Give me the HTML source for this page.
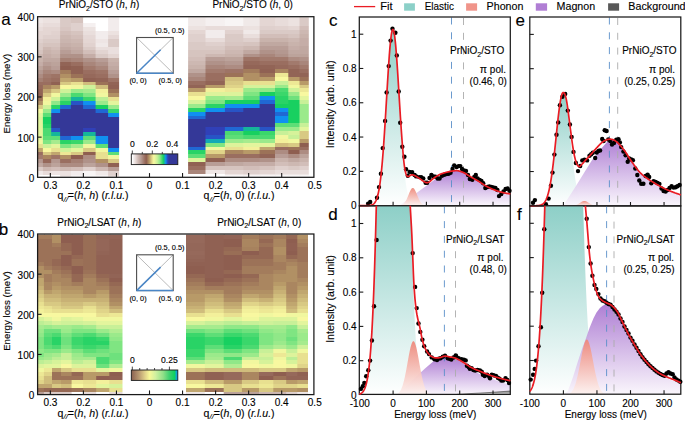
<!DOCTYPE html><html><head><meta charset="utf-8"><title>RIXS figure</title><style>html,body{margin:0;padding:0;background:#fff;overflow:hidden}svg{display:block}svg text{font-family:"Liberation Sans",sans-serif;stroke:#000;stroke-width:0.12px}</style></head><body>
<svg width="685" height="421" viewBox="0 0 685 421">
<rect width="685" height="421" fill="#fff"/>
<linearGradient id="hc1" gradientUnits="userSpaceOnUse" x1="0" y1="17.2" x2="0" y2="176.7"><stop offset="0.00000" stop-color="#efe7e6"/><stop offset="0.03816" stop-color="#efe7e6"/><stop offset="0.03816" stop-color="#ece2e0"/><stop offset="0.06252" stop-color="#ece2e0"/><stop offset="0.06252" stop-color="#e8dcda"/><stop offset="0.08688" stop-color="#e8dcda"/><stop offset="0.08688" stop-color="#e4d6d3"/><stop offset="0.11125" stop-color="#e4d6d3"/><stop offset="0.11125" stop-color="#e4d6d3"/><stop offset="0.13561" stop-color="#e4d6d3"/><stop offset="0.13561" stop-color="#dfd0cd"/><stop offset="0.15997" stop-color="#dfd0cd"/><stop offset="0.15997" stop-color="#dacac6"/><stop offset="0.18434" stop-color="#dacac6"/><stop offset="0.18434" stop-color="#dacac6"/><stop offset="0.20870" stop-color="#dacac6"/><stop offset="0.20870" stop-color="#d6c4bf"/><stop offset="0.23307" stop-color="#d6c4bf"/><stop offset="0.23307" stop-color="#cdb8b2"/><stop offset="0.25743" stop-color="#cdb8b2"/><stop offset="0.25743" stop-color="#c9b3ac"/><stop offset="0.28179" stop-color="#c9b3ac"/><stop offset="0.28179" stop-color="#c5ada7"/><stop offset="0.30616" stop-color="#c5ada7"/><stop offset="0.30616" stop-color="#bca39b"/><stop offset="0.33052" stop-color="#bca39b"/><stop offset="0.33052" stop-color="#b49890"/><stop offset="0.35488" stop-color="#b49890"/><stop offset="0.35488" stop-color="#ad8c82"/><stop offset="0.37925" stop-color="#ad8c82"/><stop offset="0.37925" stop-color="#a58074"/><stop offset="0.40361" stop-color="#a58074"/><stop offset="0.40361" stop-color="#9a6e60"/><stop offset="0.42797" stop-color="#9a6e60"/><stop offset="0.42797" stop-color="#96695b"/><stop offset="0.45234" stop-color="#96695b"/><stop offset="0.45234" stop-color="#926456"/><stop offset="0.47670" stop-color="#926456"/><stop offset="0.47670" stop-color="#906153"/><stop offset="0.50107" stop-color="#906153"/><stop offset="0.50107" stop-color="#9c7258"/><stop offset="0.52543" stop-color="#9c7258"/><stop offset="0.52543" stop-color="#b19064"/><stop offset="0.54979" stop-color="#b19064"/><stop offset="0.54979" stop-color="#d8c983"/><stop offset="0.57416" stop-color="#d8c983"/><stop offset="0.57416" stop-color="#f8f8a0"/><stop offset="0.59852" stop-color="#f8f8a0"/><stop offset="0.59852" stop-color="#e3f59d"/><stop offset="0.62288" stop-color="#e3f59d"/><stop offset="0.62288" stop-color="#ddf39b"/><stop offset="0.64725" stop-color="#ddf39b"/><stop offset="0.64725" stop-color="#e3f59d"/><stop offset="0.67161" stop-color="#e3f59d"/><stop offset="0.67161" stop-color="#e3f59d"/><stop offset="0.69597" stop-color="#e3f59d"/><stop offset="0.69597" stop-color="#e3f59d"/><stop offset="0.72034" stop-color="#e3f59d"/><stop offset="0.72034" stop-color="#e3f59d"/><stop offset="0.74470" stop-color="#e3f59d"/><stop offset="0.74470" stop-color="#e3f59d"/><stop offset="0.76907" stop-color="#e3f59d"/><stop offset="0.76907" stop-color="#f1f79f"/><stop offset="0.79343" stop-color="#f1f79f"/><stop offset="0.79343" stop-color="#e8e090"/><stop offset="0.81779" stop-color="#e8e090"/><stop offset="0.81779" stop-color="#c0a66f"/><stop offset="0.84216" stop-color="#c0a66f"/><stop offset="0.84216" stop-color="#9a6e60"/><stop offset="0.86652" stop-color="#9a6e60"/><stop offset="0.86652" stop-color="#a27a6d"/><stop offset="0.89088" stop-color="#a27a6d"/><stop offset="0.89088" stop-color="#b49890"/><stop offset="0.91525" stop-color="#b49890"/><stop offset="0.91525" stop-color="#c0a8a1"/><stop offset="0.93961" stop-color="#c0a8a1"/><stop offset="0.93961" stop-color="#dacac6"/><stop offset="0.96397" stop-color="#dacac6"/><stop offset="0.96397" stop-color="#f0e9e8"/><stop offset="0.98834" stop-color="#f0e9e8"/><stop offset="0.98834" stop-color="#ffffff"/><stop offset="1.00000" stop-color="#ffffff"/></linearGradient>
<rect x="37.6" y="17.2" width="6.3" height="159.5" fill="url(#hc1)"/>
<linearGradient id="hc2" gradientUnits="userSpaceOnUse" x1="0" y1="17.2" x2="0" y2="176.7"><stop offset="0.00000" stop-color="#ece2e0"/><stop offset="0.03816" stop-color="#ece2e0"/><stop offset="0.03816" stop-color="#e8dcda"/><stop offset="0.06252" stop-color="#e8dcda"/><stop offset="0.06252" stop-color="#e4d6d3"/><stop offset="0.08688" stop-color="#e4d6d3"/><stop offset="0.08688" stop-color="#e4d6d3"/><stop offset="0.11125" stop-color="#e4d6d3"/><stop offset="0.11125" stop-color="#dfd0cd"/><stop offset="0.13561" stop-color="#dfd0cd"/><stop offset="0.13561" stop-color="#dacac6"/><stop offset="0.15997" stop-color="#dacac6"/><stop offset="0.15997" stop-color="#d6c4bf"/><stop offset="0.18434" stop-color="#d6c4bf"/><stop offset="0.18434" stop-color="#cdb8b2"/><stop offset="0.20870" stop-color="#cdb8b2"/><stop offset="0.20870" stop-color="#c9b3ac"/><stop offset="0.23307" stop-color="#c9b3ac"/><stop offset="0.23307" stop-color="#c5ada7"/><stop offset="0.25743" stop-color="#c5ada7"/><stop offset="0.25743" stop-color="#c0a8a1"/><stop offset="0.28179" stop-color="#c0a8a1"/><stop offset="0.28179" stop-color="#b89d96"/><stop offset="0.30616" stop-color="#b89d96"/><stop offset="0.30616" stop-color="#b09289"/><stop offset="0.33052" stop-color="#b09289"/><stop offset="0.33052" stop-color="#a9867b"/><stop offset="0.35488" stop-color="#a9867b"/><stop offset="0.35488" stop-color="#a27a6d"/><stop offset="0.37925" stop-color="#a27a6d"/><stop offset="0.37925" stop-color="#9e7466"/><stop offset="0.40361" stop-color="#9e7466"/><stop offset="0.40361" stop-color="#9a6e60"/><stop offset="0.42797" stop-color="#9a6e60"/><stop offset="0.42797" stop-color="#aa8660"/><stop offset="0.45234" stop-color="#aa8660"/><stop offset="0.45234" stop-color="#c0a66f"/><stop offset="0.47670" stop-color="#c0a66f"/><stop offset="0.47670" stop-color="#d8c983"/><stop offset="0.50107" stop-color="#d8c983"/><stop offset="0.50107" stop-color="#f3f09b"/><stop offset="0.52543" stop-color="#f3f09b"/><stop offset="0.52543" stop-color="#f1f79f"/><stop offset="0.54979" stop-color="#f1f79f"/><stop offset="0.54979" stop-color="#cff199"/><stop offset="0.57416" stop-color="#cff199"/><stop offset="0.57416" stop-color="#9bea8b"/><stop offset="0.59852" stop-color="#9bea8b"/><stop offset="0.59852" stop-color="#5dde77"/><stop offset="0.62288" stop-color="#5dde77"/><stop offset="0.62288" stop-color="#18d060"/><stop offset="0.64725" stop-color="#18d060"/><stop offset="0.64725" stop-color="#18d060"/><stop offset="0.67161" stop-color="#18d060"/><stop offset="0.67161" stop-color="#29d366"/><stop offset="0.69597" stop-color="#29d366"/><stop offset="0.69597" stop-color="#4bda71"/><stop offset="0.72034" stop-color="#4bda71"/><stop offset="0.72034" stop-color="#4bda71"/><stop offset="0.74470" stop-color="#4bda71"/><stop offset="0.74470" stop-color="#5dde77"/><stop offset="0.76907" stop-color="#5dde77"/><stop offset="0.76907" stop-color="#7fe582"/><stop offset="0.79343" stop-color="#7fe582"/><stop offset="0.79343" stop-color="#cff199"/><stop offset="0.81779" stop-color="#cff199"/><stop offset="0.81779" stop-color="#f8f8a0"/><stop offset="0.84216" stop-color="#f8f8a0"/><stop offset="0.84216" stop-color="#d8c983"/><stop offset="0.86652" stop-color="#d8c983"/><stop offset="0.86652" stop-color="#aa8660"/><stop offset="0.89088" stop-color="#aa8660"/><stop offset="0.89088" stop-color="#96695b"/><stop offset="0.91525" stop-color="#96695b"/><stop offset="0.91525" stop-color="#b09289"/><stop offset="0.93961" stop-color="#b09289"/><stop offset="0.93961" stop-color="#cdb8b2"/><stop offset="0.96397" stop-color="#cdb8b2"/><stop offset="0.96397" stop-color="#e8dcda"/><stop offset="0.98834" stop-color="#e8dcda"/><stop offset="0.98834" stop-color="#ffffff"/><stop offset="1.00000" stop-color="#ffffff"/></linearGradient>
<rect x="42.9" y="17.2" width="9.3" height="159.5" fill="url(#hc2)"/>
<linearGradient id="hc3" gradientUnits="userSpaceOnUse" x1="0" y1="17.2" x2="0" y2="176.7"><stop offset="0.00000" stop-color="#ece2e0"/><stop offset="0.03816" stop-color="#ece2e0"/><stop offset="0.03816" stop-color="#e8dcda"/><stop offset="0.06252" stop-color="#e8dcda"/><stop offset="0.06252" stop-color="#e4d6d3"/><stop offset="0.08688" stop-color="#e4d6d3"/><stop offset="0.08688" stop-color="#e1d2cf"/><stop offset="0.11125" stop-color="#e1d2cf"/><stop offset="0.11125" stop-color="#dfd0cd"/><stop offset="0.13561" stop-color="#dfd0cd"/><stop offset="0.13561" stop-color="#dacac6"/><stop offset="0.15997" stop-color="#dacac6"/><stop offset="0.15997" stop-color="#d6c4bf"/><stop offset="0.18434" stop-color="#d6c4bf"/><stop offset="0.18434" stop-color="#d2beb9"/><stop offset="0.20870" stop-color="#d2beb9"/><stop offset="0.20870" stop-color="#cdb8b2"/><stop offset="0.23307" stop-color="#cdb8b2"/><stop offset="0.23307" stop-color="#c9b3ac"/><stop offset="0.25743" stop-color="#c9b3ac"/><stop offset="0.25743" stop-color="#c0a8a1"/><stop offset="0.28179" stop-color="#c0a8a1"/><stop offset="0.28179" stop-color="#bca39b"/><stop offset="0.30616" stop-color="#bca39b"/><stop offset="0.30616" stop-color="#b89d96"/><stop offset="0.33052" stop-color="#b89d96"/><stop offset="0.33052" stop-color="#ad8c82"/><stop offset="0.35488" stop-color="#ad8c82"/><stop offset="0.35488" stop-color="#9e7466"/><stop offset="0.37925" stop-color="#9e7466"/><stop offset="0.37925" stop-color="#9a6e60"/><stop offset="0.40361" stop-color="#9a6e60"/><stop offset="0.40361" stop-color="#906153"/><stop offset="0.42797" stop-color="#906153"/><stop offset="0.42797" stop-color="#b89a68"/><stop offset="0.45234" stop-color="#b89a68"/><stop offset="0.45234" stop-color="#d8c983"/><stop offset="0.47670" stop-color="#d8c983"/><stop offset="0.47670" stop-color="#f1f79f"/><stop offset="0.50107" stop-color="#f1f79f"/><stop offset="0.50107" stop-color="#cff199"/><stop offset="0.52543" stop-color="#cff199"/><stop offset="0.52543" stop-color="#90e888"/><stop offset="0.54979" stop-color="#90e888"/><stop offset="0.54979" stop-color="#29d366"/><stop offset="0.57416" stop-color="#29d366"/><stop offset="0.57416" stop-color="#1090f0"/><stop offset="0.59852" stop-color="#1090f0"/><stop offset="0.59852" stop-color="#343898"/><stop offset="0.62288" stop-color="#343898"/><stop offset="0.62288" stop-color="#343898"/><stop offset="0.64725" stop-color="#343898"/><stop offset="0.64725" stop-color="#343898"/><stop offset="0.67161" stop-color="#343898"/><stop offset="0.67161" stop-color="#343898"/><stop offset="0.69597" stop-color="#343898"/><stop offset="0.69597" stop-color="#2854c6"/><stop offset="0.72034" stop-color="#2854c6"/><stop offset="0.72034" stop-color="#15b69a"/><stop offset="0.74470" stop-color="#15b69a"/><stop offset="0.74470" stop-color="#5dde77"/><stop offset="0.76907" stop-color="#5dde77"/><stop offset="0.76907" stop-color="#a6eb8e"/><stop offset="0.79343" stop-color="#a6eb8e"/><stop offset="0.79343" stop-color="#e3f59d"/><stop offset="0.81779" stop-color="#e3f59d"/><stop offset="0.81779" stop-color="#e8e090"/><stop offset="0.84216" stop-color="#e8e090"/><stop offset="0.84216" stop-color="#c0a66f"/><stop offset="0.86652" stop-color="#c0a66f"/><stop offset="0.86652" stop-color="#9e7466"/><stop offset="0.89088" stop-color="#9e7466"/><stop offset="0.89088" stop-color="#b49890"/><stop offset="0.91525" stop-color="#b49890"/><stop offset="0.91525" stop-color="#bca39b"/><stop offset="0.93961" stop-color="#bca39b"/><stop offset="0.93961" stop-color="#d2beb9"/><stop offset="0.96397" stop-color="#d2beb9"/><stop offset="0.96397" stop-color="#eee5e4"/><stop offset="0.98834" stop-color="#eee5e4"/><stop offset="0.98834" stop-color="#ffffff"/><stop offset="1.00000" stop-color="#ffffff"/></linearGradient>
<rect x="51.2" y="17.2" width="9.9" height="159.5" fill="url(#hc3)"/>
<linearGradient id="hc4" gradientUnits="userSpaceOnUse" x1="0" y1="17.2" x2="0" y2="176.7"><stop offset="0.00000" stop-color="#dacac6"/><stop offset="0.03816" stop-color="#dacac6"/><stop offset="0.03816" stop-color="#dacac6"/><stop offset="0.06252" stop-color="#dacac6"/><stop offset="0.06252" stop-color="#d8c6c2"/><stop offset="0.08688" stop-color="#d8c6c2"/><stop offset="0.08688" stop-color="#d2beb9"/><stop offset="0.11125" stop-color="#d2beb9"/><stop offset="0.11125" stop-color="#cdb8b2"/><stop offset="0.13561" stop-color="#cdb8b2"/><stop offset="0.13561" stop-color="#cab5af"/><stop offset="0.15997" stop-color="#cab5af"/><stop offset="0.15997" stop-color="#c6afa9"/><stop offset="0.18434" stop-color="#c6afa9"/><stop offset="0.18434" stop-color="#c0a8a1"/><stop offset="0.20870" stop-color="#c0a8a1"/><stop offset="0.20870" stop-color="#b89d96"/><stop offset="0.23307" stop-color="#b89d96"/><stop offset="0.23307" stop-color="#b09289"/><stop offset="0.25743" stop-color="#b09289"/><stop offset="0.25743" stop-color="#a58074"/><stop offset="0.28179" stop-color="#a58074"/><stop offset="0.28179" stop-color="#926456"/><stop offset="0.30616" stop-color="#926456"/><stop offset="0.30616" stop-color="#8e5e50"/><stop offset="0.33052" stop-color="#8e5e50"/><stop offset="0.33052" stop-color="#a37c5c"/><stop offset="0.35488" stop-color="#a37c5c"/><stop offset="0.35488" stop-color="#b19064"/><stop offset="0.37925" stop-color="#b19064"/><stop offset="0.37925" stop-color="#c0a66f"/><stop offset="0.40361" stop-color="#c0a66f"/><stop offset="0.40361" stop-color="#d8c983"/><stop offset="0.42797" stop-color="#d8c983"/><stop offset="0.42797" stop-color="#f8f8a0"/><stop offset="0.45234" stop-color="#f8f8a0"/><stop offset="0.45234" stop-color="#cff199"/><stop offset="0.47670" stop-color="#cff199"/><stop offset="0.47670" stop-color="#9bea8b"/><stop offset="0.50107" stop-color="#9bea8b"/><stop offset="0.50107" stop-color="#5dde77"/><stop offset="0.52543" stop-color="#5dde77"/><stop offset="0.52543" stop-color="#29d366"/><stop offset="0.54979" stop-color="#29d366"/><stop offset="0.54979" stop-color="#2068d4"/><stop offset="0.57416" stop-color="#2068d4"/><stop offset="0.57416" stop-color="#343898"/><stop offset="0.59852" stop-color="#343898"/><stop offset="0.59852" stop-color="#343898"/><stop offset="0.62288" stop-color="#343898"/><stop offset="0.62288" stop-color="#343898"/><stop offset="0.64725" stop-color="#343898"/><stop offset="0.64725" stop-color="#343898"/><stop offset="0.67161" stop-color="#343898"/><stop offset="0.67161" stop-color="#343898"/><stop offset="0.69597" stop-color="#343898"/><stop offset="0.69597" stop-color="#343898"/><stop offset="0.72034" stop-color="#343898"/><stop offset="0.72034" stop-color="#343898"/><stop offset="0.74470" stop-color="#343898"/><stop offset="0.74470" stop-color="#2068d4"/><stop offset="0.76907" stop-color="#2068d4"/><stop offset="0.76907" stop-color="#29d366"/><stop offset="0.79343" stop-color="#29d366"/><stop offset="0.79343" stop-color="#7fe582"/><stop offset="0.81779" stop-color="#7fe582"/><stop offset="0.81779" stop-color="#cff199"/><stop offset="0.84216" stop-color="#cff199"/><stop offset="0.84216" stop-color="#ede895"/><stop offset="0.86652" stop-color="#ede895"/><stop offset="0.86652" stop-color="#b19064"/><stop offset="0.89088" stop-color="#b19064"/><stop offset="0.89088" stop-color="#9a6e60"/><stop offset="0.91525" stop-color="#9a6e60"/><stop offset="0.91525" stop-color="#ad8c82"/><stop offset="0.93961" stop-color="#ad8c82"/><stop offset="0.93961" stop-color="#cdb8b2"/><stop offset="0.96397" stop-color="#cdb8b2"/><stop offset="0.96397" stop-color="#ece2e0"/><stop offset="0.98834" stop-color="#ece2e0"/><stop offset="0.98834" stop-color="#ece2e0"/><stop offset="1.00000" stop-color="#ece2e0"/></linearGradient>
<rect x="60.1" y="17.2" width="11.8" height="159.5" fill="url(#hc4)"/>
<linearGradient id="hc5" gradientUnits="userSpaceOnUse" x1="0" y1="17.2" x2="0" y2="176.7"><stop offset="0.00000" stop-color="#d6c4bf"/><stop offset="0.03816" stop-color="#d6c4bf"/><stop offset="0.03816" stop-color="#dfd0cd"/><stop offset="0.06252" stop-color="#dfd0cd"/><stop offset="0.06252" stop-color="#dfd0cd"/><stop offset="0.08688" stop-color="#dfd0cd"/><stop offset="0.08688" stop-color="#d6c4bf"/><stop offset="0.11125" stop-color="#d6c4bf"/><stop offset="0.11125" stop-color="#d2beb9"/><stop offset="0.13561" stop-color="#d2beb9"/><stop offset="0.13561" stop-color="#cdb8b2"/><stop offset="0.15997" stop-color="#cdb8b2"/><stop offset="0.15997" stop-color="#c9b3ac"/><stop offset="0.18434" stop-color="#c9b3ac"/><stop offset="0.18434" stop-color="#c5ada7"/><stop offset="0.20870" stop-color="#c5ada7"/><stop offset="0.20870" stop-color="#c0a8a1"/><stop offset="0.23307" stop-color="#c0a8a1"/><stop offset="0.23307" stop-color="#b09289"/><stop offset="0.25743" stop-color="#b09289"/><stop offset="0.25743" stop-color="#a9867b"/><stop offset="0.28179" stop-color="#a9867b"/><stop offset="0.28179" stop-color="#9a6e60"/><stop offset="0.30616" stop-color="#9a6e60"/><stop offset="0.30616" stop-color="#906153"/><stop offset="0.33052" stop-color="#906153"/><stop offset="0.33052" stop-color="#906153"/><stop offset="0.35488" stop-color="#906153"/><stop offset="0.35488" stop-color="#9c7258"/><stop offset="0.37925" stop-color="#9c7258"/><stop offset="0.37925" stop-color="#b89a68"/><stop offset="0.40361" stop-color="#b89a68"/><stop offset="0.40361" stop-color="#e8e090"/><stop offset="0.42797" stop-color="#e8e090"/><stop offset="0.42797" stop-color="#f1f79f"/><stop offset="0.45234" stop-color="#f1f79f"/><stop offset="0.45234" stop-color="#9bea8b"/><stop offset="0.47670" stop-color="#9bea8b"/><stop offset="0.47670" stop-color="#4bda71"/><stop offset="0.50107" stop-color="#4bda71"/><stop offset="0.50107" stop-color="#15b69a"/><stop offset="0.52543" stop-color="#15b69a"/><stop offset="0.52543" stop-color="#2854c6"/><stop offset="0.54979" stop-color="#2854c6"/><stop offset="0.54979" stop-color="#343898"/><stop offset="0.57416" stop-color="#343898"/><stop offset="0.57416" stop-color="#343898"/><stop offset="0.59852" stop-color="#343898"/><stop offset="0.59852" stop-color="#343898"/><stop offset="0.62288" stop-color="#343898"/><stop offset="0.62288" stop-color="#343898"/><stop offset="0.64725" stop-color="#343898"/><stop offset="0.64725" stop-color="#343898"/><stop offset="0.67161" stop-color="#343898"/><stop offset="0.67161" stop-color="#343898"/><stop offset="0.69597" stop-color="#343898"/><stop offset="0.69597" stop-color="#343898"/><stop offset="0.72034" stop-color="#343898"/><stop offset="0.72034" stop-color="#343898"/><stop offset="0.74470" stop-color="#343898"/><stop offset="0.74470" stop-color="#1090f0"/><stop offset="0.76907" stop-color="#1090f0"/><stop offset="0.76907" stop-color="#3ad76b"/><stop offset="0.79343" stop-color="#3ad76b"/><stop offset="0.79343" stop-color="#a6eb8e"/><stop offset="0.81779" stop-color="#a6eb8e"/><stop offset="0.81779" stop-color="#e3f59d"/><stop offset="0.84216" stop-color="#e3f59d"/><stop offset="0.84216" stop-color="#d8c983"/><stop offset="0.86652" stop-color="#d8c983"/><stop offset="0.86652" stop-color="#8e5e50"/><stop offset="0.89088" stop-color="#8e5e50"/><stop offset="0.89088" stop-color="#a58074"/><stop offset="0.91525" stop-color="#a58074"/><stop offset="0.91525" stop-color="#ad8c82"/><stop offset="0.93961" stop-color="#ad8c82"/><stop offset="0.93961" stop-color="#d2beb9"/><stop offset="0.96397" stop-color="#d2beb9"/><stop offset="0.96397" stop-color="#f2ecec"/><stop offset="0.98834" stop-color="#f2ecec"/><stop offset="0.98834" stop-color="#f6f2f2"/><stop offset="1.00000" stop-color="#f6f2f2"/></linearGradient>
<rect x="70.9" y="17.2" width="13.2" height="159.5" fill="url(#hc5)"/>
<linearGradient id="hc6" gradientUnits="userSpaceOnUse" x1="0" y1="17.2" x2="0" y2="176.7"><stop offset="0.00000" stop-color="#ffffff"/><stop offset="0.03816" stop-color="#ffffff"/><stop offset="0.03816" stop-color="#f5f0f0"/><stop offset="0.06252" stop-color="#f5f0f0"/><stop offset="0.06252" stop-color="#ece3e1"/><stop offset="0.08688" stop-color="#ece3e1"/><stop offset="0.08688" stop-color="#e9dedc"/><stop offset="0.11125" stop-color="#e9dedc"/><stop offset="0.11125" stop-color="#e5d8d6"/><stop offset="0.13561" stop-color="#e5d8d6"/><stop offset="0.13561" stop-color="#e4d6d3"/><stop offset="0.15997" stop-color="#e4d6d3"/><stop offset="0.15997" stop-color="#e1d2cf"/><stop offset="0.18434" stop-color="#e1d2cf"/><stop offset="0.18434" stop-color="#dacac6"/><stop offset="0.20870" stop-color="#dacac6"/><stop offset="0.20870" stop-color="#d2beb9"/><stop offset="0.23307" stop-color="#d2beb9"/><stop offset="0.23307" stop-color="#c5ada7"/><stop offset="0.25743" stop-color="#c5ada7"/><stop offset="0.25743" stop-color="#b09289"/><stop offset="0.28179" stop-color="#b09289"/><stop offset="0.28179" stop-color="#a9867b"/><stop offset="0.30616" stop-color="#a9867b"/><stop offset="0.30616" stop-color="#a27a6d"/><stop offset="0.33052" stop-color="#a27a6d"/><stop offset="0.33052" stop-color="#9a6e60"/><stop offset="0.35488" stop-color="#9a6e60"/><stop offset="0.35488" stop-color="#96695b"/><stop offset="0.37925" stop-color="#96695b"/><stop offset="0.37925" stop-color="#906153"/><stop offset="0.40361" stop-color="#906153"/><stop offset="0.40361" stop-color="#d0bd7c"/><stop offset="0.42797" stop-color="#d0bd7c"/><stop offset="0.42797" stop-color="#cff199"/><stop offset="0.45234" stop-color="#cff199"/><stop offset="0.45234" stop-color="#a6eb8e"/><stop offset="0.47670" stop-color="#a6eb8e"/><stop offset="0.47670" stop-color="#7fe582"/><stop offset="0.50107" stop-color="#7fe582"/><stop offset="0.50107" stop-color="#3ad76b"/><stop offset="0.52543" stop-color="#3ad76b"/><stop offset="0.52543" stop-color="#1090f0"/><stop offset="0.54979" stop-color="#1090f0"/><stop offset="0.54979" stop-color="#2068d4"/><stop offset="0.57416" stop-color="#2068d4"/><stop offset="0.57416" stop-color="#343898"/><stop offset="0.59852" stop-color="#343898"/><stop offset="0.59852" stop-color="#343898"/><stop offset="0.62288" stop-color="#343898"/><stop offset="0.62288" stop-color="#343898"/><stop offset="0.64725" stop-color="#343898"/><stop offset="0.64725" stop-color="#343898"/><stop offset="0.67161" stop-color="#343898"/><stop offset="0.67161" stop-color="#343898"/><stop offset="0.69597" stop-color="#343898"/><stop offset="0.69597" stop-color="#3040b8"/><stop offset="0.72034" stop-color="#3040b8"/><stop offset="0.72034" stop-color="#15b69a"/><stop offset="0.74470" stop-color="#15b69a"/><stop offset="0.74470" stop-color="#5dde77"/><stop offset="0.76907" stop-color="#5dde77"/><stop offset="0.76907" stop-color="#9bea8b"/><stop offset="0.79343" stop-color="#9bea8b"/><stop offset="0.79343" stop-color="#f1f79f"/><stop offset="0.81779" stop-color="#f1f79f"/><stop offset="0.81779" stop-color="#d8c983"/><stop offset="0.84216" stop-color="#d8c983"/><stop offset="0.84216" stop-color="#8e5e50"/><stop offset="0.86652" stop-color="#8e5e50"/><stop offset="0.86652" stop-color="#ad8c82"/><stop offset="0.89088" stop-color="#ad8c82"/><stop offset="0.89088" stop-color="#b09289"/><stop offset="0.91525" stop-color="#b09289"/><stop offset="0.91525" stop-color="#bca39b"/><stop offset="0.93961" stop-color="#bca39b"/><stop offset="0.93961" stop-color="#dfd0cd"/><stop offset="0.96397" stop-color="#dfd0cd"/><stop offset="0.96397" stop-color="#f8f5f5"/><stop offset="0.98834" stop-color="#f8f5f5"/><stop offset="0.98834" stop-color="#faf8f8"/><stop offset="1.00000" stop-color="#faf8f8"/></linearGradient>
<rect x="83.1" y="17.2" width="13.5" height="159.5" fill="url(#hc6)"/>
<linearGradient id="hc7" gradientUnits="userSpaceOnUse" x1="0" y1="17.2" x2="0" y2="176.7"><stop offset="0.00000" stop-color="#ffffff"/><stop offset="0.03816" stop-color="#ffffff"/><stop offset="0.03816" stop-color="#ffffff"/><stop offset="0.06252" stop-color="#ffffff"/><stop offset="0.06252" stop-color="#ffffff"/><stop offset="0.08688" stop-color="#ffffff"/><stop offset="0.08688" stop-color="#f2ecec"/><stop offset="0.11125" stop-color="#f2ecec"/><stop offset="0.11125" stop-color="#f2ecec"/><stop offset="0.13561" stop-color="#f2ecec"/><stop offset="0.13561" stop-color="#eee5e4"/><stop offset="0.15997" stop-color="#eee5e4"/><stop offset="0.15997" stop-color="#f0e9e8"/><stop offset="0.18434" stop-color="#f0e9e8"/><stop offset="0.18434" stop-color="#e9dedc"/><stop offset="0.20870" stop-color="#e9dedc"/><stop offset="0.20870" stop-color="#e2d4d1"/><stop offset="0.23307" stop-color="#e2d4d1"/><stop offset="0.23307" stop-color="#dacac6"/><stop offset="0.25743" stop-color="#dacac6"/><stop offset="0.25743" stop-color="#b89d96"/><stop offset="0.28179" stop-color="#b89d96"/><stop offset="0.28179" stop-color="#b09289"/><stop offset="0.30616" stop-color="#b09289"/><stop offset="0.30616" stop-color="#a9867b"/><stop offset="0.33052" stop-color="#a9867b"/><stop offset="0.33052" stop-color="#9e7466"/><stop offset="0.35488" stop-color="#9e7466"/><stop offset="0.35488" stop-color="#9a6e60"/><stop offset="0.37925" stop-color="#9a6e60"/><stop offset="0.37925" stop-color="#926456"/><stop offset="0.40361" stop-color="#926456"/><stop offset="0.40361" stop-color="#9c7258"/><stop offset="0.42797" stop-color="#9c7258"/><stop offset="0.42797" stop-color="#d0bd7c"/><stop offset="0.45234" stop-color="#d0bd7c"/><stop offset="0.45234" stop-color="#f3f09b"/><stop offset="0.47670" stop-color="#f3f09b"/><stop offset="0.47670" stop-color="#f1f79f"/><stop offset="0.50107" stop-color="#f1f79f"/><stop offset="0.50107" stop-color="#bdee95"/><stop offset="0.52543" stop-color="#bdee95"/><stop offset="0.52543" stop-color="#9bea8b"/><stop offset="0.54979" stop-color="#9bea8b"/><stop offset="0.54979" stop-color="#18d060"/><stop offset="0.57416" stop-color="#18d060"/><stop offset="0.57416" stop-color="#2068d4"/><stop offset="0.59852" stop-color="#2068d4"/><stop offset="0.59852" stop-color="#343898"/><stop offset="0.62288" stop-color="#343898"/><stop offset="0.62288" stop-color="#343898"/><stop offset="0.64725" stop-color="#343898"/><stop offset="0.64725" stop-color="#343898"/><stop offset="0.67161" stop-color="#343898"/><stop offset="0.67161" stop-color="#343898"/><stop offset="0.69597" stop-color="#343898"/><stop offset="0.69597" stop-color="#343898"/><stop offset="0.72034" stop-color="#343898"/><stop offset="0.72034" stop-color="#343898"/><stop offset="0.74470" stop-color="#343898"/><stop offset="0.74470" stop-color="#1090f0"/><stop offset="0.76907" stop-color="#1090f0"/><stop offset="0.76907" stop-color="#1090f0"/><stop offset="0.79343" stop-color="#1090f0"/><stop offset="0.79343" stop-color="#5dde77"/><stop offset="0.81779" stop-color="#5dde77"/><stop offset="0.81779" stop-color="#f1f79f"/><stop offset="0.84216" stop-color="#f1f79f"/><stop offset="0.84216" stop-color="#e8e090"/><stop offset="0.86652" stop-color="#e8e090"/><stop offset="0.86652" stop-color="#e8e090"/><stop offset="0.89088" stop-color="#e8e090"/><stop offset="0.89088" stop-color="#b19064"/><stop offset="0.91525" stop-color="#b19064"/><stop offset="0.91525" stop-color="#b09289"/><stop offset="0.93961" stop-color="#b09289"/><stop offset="0.93961" stop-color="#cdb8b2"/><stop offset="0.96397" stop-color="#cdb8b2"/><stop offset="0.96397" stop-color="#f0e9e8"/><stop offset="0.98834" stop-color="#f0e9e8"/><stop offset="0.98834" stop-color="#f6f2f2"/><stop offset="1.00000" stop-color="#f6f2f2"/></linearGradient>
<rect x="95.6" y="17.2" width="13.5" height="159.5" fill="url(#hc7)"/>
<linearGradient id="hc8" gradientUnits="userSpaceOnUse" x1="0" y1="17.2" x2="0" y2="176.7"><stop offset="0.00000" stop-color="#f2ecec"/><stop offset="0.03816" stop-color="#f2ecec"/><stop offset="0.03816" stop-color="#f2ecec"/><stop offset="0.06252" stop-color="#f2ecec"/><stop offset="0.06252" stop-color="#f2ecec"/><stop offset="0.08688" stop-color="#f2ecec"/><stop offset="0.08688" stop-color="#ece2e0"/><stop offset="0.11125" stop-color="#ece2e0"/><stop offset="0.11125" stop-color="#e5d8d6"/><stop offset="0.13561" stop-color="#e5d8d6"/><stop offset="0.13561" stop-color="#dacac6"/><stop offset="0.15997" stop-color="#dacac6"/><stop offset="0.15997" stop-color="#dacac6"/><stop offset="0.18434" stop-color="#dacac6"/><stop offset="0.18434" stop-color="#e9dedc"/><stop offset="0.20870" stop-color="#e9dedc"/><stop offset="0.20870" stop-color="#eadfde"/><stop offset="0.23307" stop-color="#eadfde"/><stop offset="0.23307" stop-color="#e4d6d3"/><stop offset="0.25743" stop-color="#e4d6d3"/><stop offset="0.25743" stop-color="#c9b3ac"/><stop offset="0.28179" stop-color="#c9b3ac"/><stop offset="0.28179" stop-color="#c5ada7"/><stop offset="0.30616" stop-color="#c5ada7"/><stop offset="0.30616" stop-color="#c0a8a1"/><stop offset="0.33052" stop-color="#c0a8a1"/><stop offset="0.33052" stop-color="#b89d96"/><stop offset="0.35488" stop-color="#b89d96"/><stop offset="0.35488" stop-color="#b09289"/><stop offset="0.37925" stop-color="#b09289"/><stop offset="0.37925" stop-color="#9e7466"/><stop offset="0.40361" stop-color="#9e7466"/><stop offset="0.40361" stop-color="#926456"/><stop offset="0.42797" stop-color="#926456"/><stop offset="0.42797" stop-color="#906153"/><stop offset="0.45234" stop-color="#906153"/><stop offset="0.45234" stop-color="#9c7258"/><stop offset="0.47670" stop-color="#9c7258"/><stop offset="0.47670" stop-color="#b19064"/><stop offset="0.50107" stop-color="#b19064"/><stop offset="0.50107" stop-color="#e8e090"/><stop offset="0.52543" stop-color="#e8e090"/><stop offset="0.52543" stop-color="#e3f59d"/><stop offset="0.54979" stop-color="#e3f59d"/><stop offset="0.54979" stop-color="#9bea8b"/><stop offset="0.57416" stop-color="#9bea8b"/><stop offset="0.57416" stop-color="#3ad76b"/><stop offset="0.59852" stop-color="#3ad76b"/><stop offset="0.59852" stop-color="#1090f0"/><stop offset="0.62288" stop-color="#1090f0"/><stop offset="0.62288" stop-color="#343898"/><stop offset="0.64725" stop-color="#343898"/><stop offset="0.64725" stop-color="#343898"/><stop offset="0.67161" stop-color="#343898"/><stop offset="0.67161" stop-color="#343898"/><stop offset="0.69597" stop-color="#343898"/><stop offset="0.69597" stop-color="#343898"/><stop offset="0.72034" stop-color="#343898"/><stop offset="0.72034" stop-color="#343898"/><stop offset="0.74470" stop-color="#343898"/><stop offset="0.74470" stop-color="#343898"/><stop offset="0.76907" stop-color="#343898"/><stop offset="0.76907" stop-color="#343898"/><stop offset="0.79343" stop-color="#343898"/><stop offset="0.79343" stop-color="#343898"/><stop offset="0.81779" stop-color="#343898"/><stop offset="0.81779" stop-color="#1090f0"/><stop offset="0.84216" stop-color="#1090f0"/><stop offset="0.84216" stop-color="#5dde77"/><stop offset="0.86652" stop-color="#5dde77"/><stop offset="0.86652" stop-color="#f1f79f"/><stop offset="0.89088" stop-color="#f1f79f"/><stop offset="0.89088" stop-color="#d8c983"/><stop offset="0.91525" stop-color="#d8c983"/><stop offset="0.91525" stop-color="#906153"/><stop offset="0.93961" stop-color="#906153"/><stop offset="0.93961" stop-color="#b89d96"/><stop offset="0.96397" stop-color="#b89d96"/><stop offset="0.96397" stop-color="#dfd0cd"/><stop offset="0.98834" stop-color="#dfd0cd"/><stop offset="0.98834" stop-color="#e4d6d3"/><stop offset="1.00000" stop-color="#e4d6d3"/></linearGradient>
<rect x="108.1" y="17.2" width="11" height="159.5" fill="url(#hc8)"/>
<linearGradient id="hc9" gradientUnits="userSpaceOnUse" x1="0" y1="17.2" x2="0" y2="175.4"><stop offset="0.00000" stop-color="#f0e9e8"/><stop offset="0.03398" stop-color="#f0e9e8"/><stop offset="0.03398" stop-color="#f0e9e8"/><stop offset="0.05847" stop-color="#f0e9e8"/><stop offset="0.05847" stop-color="#ece2e0"/><stop offset="0.08296" stop-color="#ece2e0"/><stop offset="0.08296" stop-color="#e4d6d3"/><stop offset="0.10746" stop-color="#e4d6d3"/><stop offset="0.10746" stop-color="#dfd0cd"/><stop offset="0.13195" stop-color="#dfd0cd"/><stop offset="0.13195" stop-color="#dfd0cd"/><stop offset="0.15645" stop-color="#dfd0cd"/><stop offset="0.15645" stop-color="#dacac6"/><stop offset="0.18094" stop-color="#dacac6"/><stop offset="0.18094" stop-color="#dacac6"/><stop offset="0.20544" stop-color="#dacac6"/><stop offset="0.20544" stop-color="#d6c4bf"/><stop offset="0.22993" stop-color="#d6c4bf"/><stop offset="0.22993" stop-color="#d6c4bf"/><stop offset="0.25442" stop-color="#d6c4bf"/><stop offset="0.25442" stop-color="#d2beb9"/><stop offset="0.27892" stop-color="#d2beb9"/><stop offset="0.27892" stop-color="#cdb8b2"/><stop offset="0.30341" stop-color="#cdb8b2"/><stop offset="0.30341" stop-color="#c9b3ac"/><stop offset="0.32791" stop-color="#c9b3ac"/><stop offset="0.32791" stop-color="#c0a8a1"/><stop offset="0.35240" stop-color="#c0a8a1"/><stop offset="0.35240" stop-color="#b09289"/><stop offset="0.37690" stop-color="#b09289"/><stop offset="0.37690" stop-color="#a9867b"/><stop offset="0.40139" stop-color="#a9867b"/><stop offset="0.40139" stop-color="#9a6e60"/><stop offset="0.42588" stop-color="#9a6e60"/><stop offset="0.42588" stop-color="#926456"/><stop offset="0.45038" stop-color="#926456"/><stop offset="0.45038" stop-color="#b89a68"/><stop offset="0.47487" stop-color="#b89a68"/><stop offset="0.47487" stop-color="#e8e090"/><stop offset="0.49937" stop-color="#e8e090"/><stop offset="0.49937" stop-color="#f8f8a0"/><stop offset="0.52386" stop-color="#f8f8a0"/><stop offset="0.52386" stop-color="#d6f29a"/><stop offset="0.54836" stop-color="#d6f29a"/><stop offset="0.54836" stop-color="#9bea8b"/><stop offset="0.57285" stop-color="#9bea8b"/><stop offset="0.57285" stop-color="#29d366"/><stop offset="0.59735" stop-color="#29d366"/><stop offset="0.59735" stop-color="#1090f0"/><stop offset="0.62184" stop-color="#1090f0"/><stop offset="0.62184" stop-color="#2068d4"/><stop offset="0.64633" stop-color="#2068d4"/><stop offset="0.64633" stop-color="#343898"/><stop offset="0.67083" stop-color="#343898"/><stop offset="0.67083" stop-color="#343898"/><stop offset="0.69532" stop-color="#343898"/><stop offset="0.69532" stop-color="#343898"/><stop offset="0.71982" stop-color="#343898"/><stop offset="0.71982" stop-color="#343898"/><stop offset="0.74431" stop-color="#343898"/><stop offset="0.74431" stop-color="#343898"/><stop offset="0.76881" stop-color="#343898"/><stop offset="0.76881" stop-color="#343898"/><stop offset="0.79330" stop-color="#343898"/><stop offset="0.79330" stop-color="#343898"/><stop offset="0.81779" stop-color="#343898"/><stop offset="0.81779" stop-color="#2068d4"/><stop offset="0.84229" stop-color="#2068d4"/><stop offset="0.84229" stop-color="#29d366"/><stop offset="0.86678" stop-color="#29d366"/><stop offset="0.86678" stop-color="#5dde77"/><stop offset="0.89128" stop-color="#5dde77"/><stop offset="0.89128" stop-color="#ddf39b"/><stop offset="0.91577" stop-color="#ddf39b"/><stop offset="0.91577" stop-color="#906153"/><stop offset="0.94027" stop-color="#906153"/><stop offset="0.94027" stop-color="#9a6e60"/><stop offset="0.96476" stop-color="#9a6e60"/><stop offset="0.96476" stop-color="#a9867b"/><stop offset="0.98925" stop-color="#a9867b"/><stop offset="0.98925" stop-color="#ffffff"/><stop offset="1.00000" stop-color="#ffffff"/></linearGradient>
<rect x="188.1" y="17.2" width="18.4" height="158.2" fill="url(#hc9)"/>
<linearGradient id="hc10" gradientUnits="userSpaceOnUse" x1="0" y1="17.2" x2="0" y2="175.4"><stop offset="0.00000" stop-color="#f5f0f0"/><stop offset="0.03398" stop-color="#f5f0f0"/><stop offset="0.03398" stop-color="#f5f0f0"/><stop offset="0.05847" stop-color="#f5f0f0"/><stop offset="0.05847" stop-color="#e8dcda"/><stop offset="0.08296" stop-color="#e8dcda"/><stop offset="0.08296" stop-color="#f2ecec"/><stop offset="0.10746" stop-color="#f2ecec"/><stop offset="0.10746" stop-color="#f2ecec"/><stop offset="0.13195" stop-color="#f2ecec"/><stop offset="0.13195" stop-color="#e8dcda"/><stop offset="0.15645" stop-color="#e8dcda"/><stop offset="0.15645" stop-color="#dfd0cd"/><stop offset="0.18094" stop-color="#dfd0cd"/><stop offset="0.18094" stop-color="#dacac6"/><stop offset="0.20544" stop-color="#dacac6"/><stop offset="0.20544" stop-color="#d6c4bf"/><stop offset="0.22993" stop-color="#d6c4bf"/><stop offset="0.22993" stop-color="#cdb8b2"/><stop offset="0.25442" stop-color="#cdb8b2"/><stop offset="0.25442" stop-color="#b89d96"/><stop offset="0.27892" stop-color="#b89d96"/><stop offset="0.27892" stop-color="#b09289"/><stop offset="0.30341" stop-color="#b09289"/><stop offset="0.30341" stop-color="#a9867b"/><stop offset="0.32791" stop-color="#a9867b"/><stop offset="0.32791" stop-color="#a27a6d"/><stop offset="0.35240" stop-color="#a27a6d"/><stop offset="0.35240" stop-color="#9a6e60"/><stop offset="0.37690" stop-color="#9a6e60"/><stop offset="0.37690" stop-color="#9a6e60"/><stop offset="0.40139" stop-color="#9a6e60"/><stop offset="0.40139" stop-color="#926456"/><stop offset="0.42588" stop-color="#926456"/><stop offset="0.42588" stop-color="#b89a68"/><stop offset="0.45038" stop-color="#b89a68"/><stop offset="0.45038" stop-color="#f3f09b"/><stop offset="0.47487" stop-color="#f3f09b"/><stop offset="0.47487" stop-color="#ddf39b"/><stop offset="0.49937" stop-color="#ddf39b"/><stop offset="0.49937" stop-color="#9bea8b"/><stop offset="0.52386" stop-color="#9bea8b"/><stop offset="0.52386" stop-color="#7fe582"/><stop offset="0.54836" stop-color="#7fe582"/><stop offset="0.54836" stop-color="#29d366"/><stop offset="0.57285" stop-color="#29d366"/><stop offset="0.57285" stop-color="#1090f0"/><stop offset="0.59735" stop-color="#1090f0"/><stop offset="0.59735" stop-color="#343898"/><stop offset="0.62184" stop-color="#343898"/><stop offset="0.62184" stop-color="#343898"/><stop offset="0.64633" stop-color="#343898"/><stop offset="0.64633" stop-color="#343898"/><stop offset="0.67083" stop-color="#343898"/><stop offset="0.67083" stop-color="#343898"/><stop offset="0.69532" stop-color="#343898"/><stop offset="0.69532" stop-color="#3040b8"/><stop offset="0.71982" stop-color="#3040b8"/><stop offset="0.71982" stop-color="#3040b8"/><stop offset="0.74431" stop-color="#3040b8"/><stop offset="0.74431" stop-color="#2854c6"/><stop offset="0.76881" stop-color="#2854c6"/><stop offset="0.76881" stop-color="#13aab6"/><stop offset="0.79330" stop-color="#13aab6"/><stop offset="0.79330" stop-color="#7fe582"/><stop offset="0.81779" stop-color="#7fe582"/><stop offset="0.81779" stop-color="#f1f79f"/><stop offset="0.84229" stop-color="#f1f79f"/><stop offset="0.84229" stop-color="#e0d489"/><stop offset="0.86678" stop-color="#e0d489"/><stop offset="0.86678" stop-color="#b89a68"/><stop offset="0.89128" stop-color="#b89a68"/><stop offset="0.89128" stop-color="#906153"/><stop offset="0.91577" stop-color="#906153"/><stop offset="0.91577" stop-color="#b89d96"/><stop offset="0.94027" stop-color="#b89d96"/><stop offset="0.94027" stop-color="#d6c4bf"/><stop offset="0.96476" stop-color="#d6c4bf"/><stop offset="0.96476" stop-color="#efe7e6"/><stop offset="0.98925" stop-color="#efe7e6"/><stop offset="0.98925" stop-color="#ffffff"/><stop offset="1.00000" stop-color="#ffffff"/></linearGradient>
<rect x="205.5" y="17.2" width="20.4" height="158.2" fill="url(#hc10)"/>
<linearGradient id="hc11" gradientUnits="userSpaceOnUse" x1="0" y1="17.2" x2="0" y2="175.4"><stop offset="0.00000" stop-color="#f8f5f5"/><stop offset="0.03398" stop-color="#f8f5f5"/><stop offset="0.03398" stop-color="#f8f5f5"/><stop offset="0.05847" stop-color="#f8f5f5"/><stop offset="0.05847" stop-color="#e8dcda"/><stop offset="0.08296" stop-color="#e8dcda"/><stop offset="0.08296" stop-color="#e1d2cf"/><stop offset="0.10746" stop-color="#e1d2cf"/><stop offset="0.10746" stop-color="#dacac6"/><stop offset="0.13195" stop-color="#dacac6"/><stop offset="0.13195" stop-color="#dacac6"/><stop offset="0.15645" stop-color="#dacac6"/><stop offset="0.15645" stop-color="#d8c6c2"/><stop offset="0.18094" stop-color="#d8c6c2"/><stop offset="0.18094" stop-color="#d2beb9"/><stop offset="0.20544" stop-color="#d2beb9"/><stop offset="0.20544" stop-color="#cdb8b2"/><stop offset="0.22993" stop-color="#cdb8b2"/><stop offset="0.22993" stop-color="#c9b3ac"/><stop offset="0.25442" stop-color="#c9b3ac"/><stop offset="0.25442" stop-color="#bca39b"/><stop offset="0.27892" stop-color="#bca39b"/><stop offset="0.27892" stop-color="#b49890"/><stop offset="0.30341" stop-color="#b49890"/><stop offset="0.30341" stop-color="#ad8c82"/><stop offset="0.32791" stop-color="#ad8c82"/><stop offset="0.32791" stop-color="#9e7466"/><stop offset="0.35240" stop-color="#9e7466"/><stop offset="0.35240" stop-color="#9c7258"/><stop offset="0.37690" stop-color="#9c7258"/><stop offset="0.37690" stop-color="#d0bd7c"/><stop offset="0.40139" stop-color="#d0bd7c"/><stop offset="0.40139" stop-color="#d8c983"/><stop offset="0.42588" stop-color="#d8c983"/><stop offset="0.42588" stop-color="#e0d489"/><stop offset="0.45038" stop-color="#e0d489"/><stop offset="0.45038" stop-color="#ede895"/><stop offset="0.47487" stop-color="#ede895"/><stop offset="0.47487" stop-color="#ddf39b"/><stop offset="0.49937" stop-color="#ddf39b"/><stop offset="0.49937" stop-color="#a6eb8e"/><stop offset="0.52386" stop-color="#a6eb8e"/><stop offset="0.52386" stop-color="#18d060"/><stop offset="0.54836" stop-color="#18d060"/><stop offset="0.54836" stop-color="#1090f0"/><stop offset="0.57285" stop-color="#1090f0"/><stop offset="0.57285" stop-color="#2854c6"/><stop offset="0.59735" stop-color="#2854c6"/><stop offset="0.59735" stop-color="#343898"/><stop offset="0.62184" stop-color="#343898"/><stop offset="0.62184" stop-color="#343898"/><stop offset="0.64633" stop-color="#343898"/><stop offset="0.64633" stop-color="#343898"/><stop offset="0.67083" stop-color="#343898"/><stop offset="0.67083" stop-color="#343898"/><stop offset="0.69532" stop-color="#343898"/><stop offset="0.69532" stop-color="#2068d4"/><stop offset="0.71982" stop-color="#2068d4"/><stop offset="0.71982" stop-color="#4bda71"/><stop offset="0.74431" stop-color="#4bda71"/><stop offset="0.74431" stop-color="#5dde77"/><stop offset="0.76881" stop-color="#5dde77"/><stop offset="0.76881" stop-color="#9bea8b"/><stop offset="0.79330" stop-color="#9bea8b"/><stop offset="0.79330" stop-color="#ddf39b"/><stop offset="0.81779" stop-color="#ddf39b"/><stop offset="0.81779" stop-color="#e8e090"/><stop offset="0.84229" stop-color="#e8e090"/><stop offset="0.84229" stop-color="#aa8660"/><stop offset="0.86678" stop-color="#aa8660"/><stop offset="0.86678" stop-color="#9a6e60"/><stop offset="0.89128" stop-color="#9a6e60"/><stop offset="0.89128" stop-color="#ad8c82"/><stop offset="0.91577" stop-color="#ad8c82"/><stop offset="0.91577" stop-color="#c0a8a1"/><stop offset="0.94027" stop-color="#c0a8a1"/><stop offset="0.94027" stop-color="#d6c4bf"/><stop offset="0.96476" stop-color="#d6c4bf"/><stop offset="0.96476" stop-color="#e4d6d3"/><stop offset="0.98925" stop-color="#e4d6d3"/><stop offset="0.98925" stop-color="#efe7e6"/><stop offset="1.00000" stop-color="#efe7e6"/></linearGradient>
<rect x="224.9" y="17.2" width="19.4" height="158.2" fill="url(#hc11)"/>
<linearGradient id="hc12" gradientUnits="userSpaceOnUse" x1="0" y1="17.2" x2="0" y2="175.4"><stop offset="0.00000" stop-color="#f0e9e8"/><stop offset="0.03398" stop-color="#f0e9e8"/><stop offset="0.03398" stop-color="#f0e9e8"/><stop offset="0.05847" stop-color="#f0e9e8"/><stop offset="0.05847" stop-color="#ece2e0"/><stop offset="0.08296" stop-color="#ece2e0"/><stop offset="0.08296" stop-color="#f0e9e8"/><stop offset="0.10746" stop-color="#f0e9e8"/><stop offset="0.10746" stop-color="#e9dedc"/><stop offset="0.13195" stop-color="#e9dedc"/><stop offset="0.13195" stop-color="#dfd0cd"/><stop offset="0.15645" stop-color="#dfd0cd"/><stop offset="0.15645" stop-color="#d6c4bf"/><stop offset="0.18094" stop-color="#d6c4bf"/><stop offset="0.18094" stop-color="#cdb8b2"/><stop offset="0.20544" stop-color="#cdb8b2"/><stop offset="0.20544" stop-color="#c0a8a1"/><stop offset="0.22993" stop-color="#c0a8a1"/><stop offset="0.22993" stop-color="#b09289"/><stop offset="0.25442" stop-color="#b09289"/><stop offset="0.25442" stop-color="#9e7466"/><stop offset="0.27892" stop-color="#9e7466"/><stop offset="0.27892" stop-color="#96695b"/><stop offset="0.30341" stop-color="#96695b"/><stop offset="0.30341" stop-color="#926456"/><stop offset="0.32791" stop-color="#926456"/><stop offset="0.32791" stop-color="#a37c5c"/><stop offset="0.35240" stop-color="#a37c5c"/><stop offset="0.35240" stop-color="#b19064"/><stop offset="0.37690" stop-color="#b19064"/><stop offset="0.37690" stop-color="#b19064"/><stop offset="0.40139" stop-color="#b19064"/><stop offset="0.40139" stop-color="#e8e090"/><stop offset="0.42588" stop-color="#e8e090"/><stop offset="0.42588" stop-color="#d6f29a"/><stop offset="0.45038" stop-color="#d6f29a"/><stop offset="0.45038" stop-color="#9bea8b"/><stop offset="0.47487" stop-color="#9bea8b"/><stop offset="0.47487" stop-color="#7fe582"/><stop offset="0.49937" stop-color="#7fe582"/><stop offset="0.49937" stop-color="#5dde77"/><stop offset="0.52386" stop-color="#5dde77"/><stop offset="0.52386" stop-color="#18d060"/><stop offset="0.54836" stop-color="#18d060"/><stop offset="0.54836" stop-color="#1090f0"/><stop offset="0.57285" stop-color="#1090f0"/><stop offset="0.57285" stop-color="#343898"/><stop offset="0.59735" stop-color="#343898"/><stop offset="0.59735" stop-color="#343898"/><stop offset="0.62184" stop-color="#343898"/><stop offset="0.62184" stop-color="#343898"/><stop offset="0.64633" stop-color="#343898"/><stop offset="0.64633" stop-color="#343898"/><stop offset="0.67083" stop-color="#343898"/><stop offset="0.67083" stop-color="#343898"/><stop offset="0.69532" stop-color="#343898"/><stop offset="0.69532" stop-color="#15b69a"/><stop offset="0.71982" stop-color="#15b69a"/><stop offset="0.71982" stop-color="#18d060"/><stop offset="0.74431" stop-color="#18d060"/><stop offset="0.74431" stop-color="#4bda71"/><stop offset="0.76881" stop-color="#4bda71"/><stop offset="0.76881" stop-color="#a6eb8e"/><stop offset="0.79330" stop-color="#a6eb8e"/><stop offset="0.79330" stop-color="#e3f59d"/><stop offset="0.81779" stop-color="#e3f59d"/><stop offset="0.81779" stop-color="#f3f09b"/><stop offset="0.84229" stop-color="#f3f09b"/><stop offset="0.84229" stop-color="#b89a68"/><stop offset="0.86678" stop-color="#b89a68"/><stop offset="0.86678" stop-color="#9a6e60"/><stop offset="0.89128" stop-color="#9a6e60"/><stop offset="0.89128" stop-color="#ad8c82"/><stop offset="0.91577" stop-color="#ad8c82"/><stop offset="0.91577" stop-color="#c5ada7"/><stop offset="0.94027" stop-color="#c5ada7"/><stop offset="0.94027" stop-color="#d2beb9"/><stop offset="0.96476" stop-color="#d2beb9"/><stop offset="0.96476" stop-color="#dfd0cd"/><stop offset="0.98925" stop-color="#dfd0cd"/><stop offset="0.98925" stop-color="#ece2e0"/><stop offset="1.00000" stop-color="#ece2e0"/></linearGradient>
<rect x="243.3" y="17.2" width="17.3" height="158.2" fill="url(#hc12)"/>
<linearGradient id="hc13" gradientUnits="userSpaceOnUse" x1="0" y1="17.2" x2="0" y2="175.4"><stop offset="0.00000" stop-color="#e4d6d3"/><stop offset="0.03398" stop-color="#e4d6d3"/><stop offset="0.03398" stop-color="#e4d6d3"/><stop offset="0.05847" stop-color="#e4d6d3"/><stop offset="0.05847" stop-color="#dfd0cd"/><stop offset="0.08296" stop-color="#dfd0cd"/><stop offset="0.08296" stop-color="#dacac6"/><stop offset="0.10746" stop-color="#dacac6"/><stop offset="0.10746" stop-color="#d2beb9"/><stop offset="0.13195" stop-color="#d2beb9"/><stop offset="0.13195" stop-color="#c9b3ac"/><stop offset="0.15645" stop-color="#c9b3ac"/><stop offset="0.15645" stop-color="#c0a8a1"/><stop offset="0.18094" stop-color="#c0a8a1"/><stop offset="0.18094" stop-color="#b89d96"/><stop offset="0.20544" stop-color="#b89d96"/><stop offset="0.20544" stop-color="#b09289"/><stop offset="0.22993" stop-color="#b09289"/><stop offset="0.22993" stop-color="#a9867b"/><stop offset="0.25442" stop-color="#a9867b"/><stop offset="0.25442" stop-color="#a27a6d"/><stop offset="0.27892" stop-color="#a27a6d"/><stop offset="0.27892" stop-color="#9a6e60"/><stop offset="0.30341" stop-color="#9a6e60"/><stop offset="0.30341" stop-color="#926456"/><stop offset="0.32791" stop-color="#926456"/><stop offset="0.32791" stop-color="#906153"/><stop offset="0.35240" stop-color="#906153"/><stop offset="0.35240" stop-color="#9c7258"/><stop offset="0.37690" stop-color="#9c7258"/><stop offset="0.37690" stop-color="#b89a68"/><stop offset="0.40139" stop-color="#b89a68"/><stop offset="0.40139" stop-color="#e8e090"/><stop offset="0.42588" stop-color="#e8e090"/><stop offset="0.42588" stop-color="#d6f29a"/><stop offset="0.45038" stop-color="#d6f29a"/><stop offset="0.45038" stop-color="#90e888"/><stop offset="0.47487" stop-color="#90e888"/><stop offset="0.47487" stop-color="#18d060"/><stop offset="0.49937" stop-color="#18d060"/><stop offset="0.49937" stop-color="#1090f0"/><stop offset="0.52386" stop-color="#1090f0"/><stop offset="0.52386" stop-color="#2068d4"/><stop offset="0.54836" stop-color="#2068d4"/><stop offset="0.54836" stop-color="#343898"/><stop offset="0.57285" stop-color="#343898"/><stop offset="0.57285" stop-color="#343898"/><stop offset="0.59735" stop-color="#343898"/><stop offset="0.59735" stop-color="#343898"/><stop offset="0.62184" stop-color="#343898"/><stop offset="0.62184" stop-color="#343898"/><stop offset="0.64633" stop-color="#343898"/><stop offset="0.64633" stop-color="#343898"/><stop offset="0.67083" stop-color="#343898"/><stop offset="0.67083" stop-color="#343898"/><stop offset="0.69532" stop-color="#343898"/><stop offset="0.69532" stop-color="#2854c6"/><stop offset="0.71982" stop-color="#2854c6"/><stop offset="0.71982" stop-color="#3ad76b"/><stop offset="0.74431" stop-color="#3ad76b"/><stop offset="0.74431" stop-color="#4bda71"/><stop offset="0.76881" stop-color="#4bda71"/><stop offset="0.76881" stop-color="#9bea8b"/><stop offset="0.79330" stop-color="#9bea8b"/><stop offset="0.79330" stop-color="#e3f59d"/><stop offset="0.81779" stop-color="#e3f59d"/><stop offset="0.81779" stop-color="#c0a66f"/><stop offset="0.84229" stop-color="#c0a66f"/><stop offset="0.84229" stop-color="#9c7258"/><stop offset="0.86678" stop-color="#9c7258"/><stop offset="0.86678" stop-color="#926456"/><stop offset="0.89128" stop-color="#926456"/><stop offset="0.89128" stop-color="#b09289"/><stop offset="0.91577" stop-color="#b09289"/><stop offset="0.91577" stop-color="#c5ada7"/><stop offset="0.94027" stop-color="#c5ada7"/><stop offset="0.94027" stop-color="#d6c4bf"/><stop offset="0.96476" stop-color="#d6c4bf"/><stop offset="0.96476" stop-color="#e4d6d3"/><stop offset="0.98925" stop-color="#e4d6d3"/><stop offset="0.98925" stop-color="#efe7e6"/><stop offset="1.00000" stop-color="#efe7e6"/></linearGradient>
<rect x="259.6" y="17.2" width="16.4" height="158.2" fill="url(#hc13)"/>
<linearGradient id="hc14" gradientUnits="userSpaceOnUse" x1="0" y1="17.2" x2="0" y2="175.4"><stop offset="0.00000" stop-color="#e8dcda"/><stop offset="0.03398" stop-color="#e8dcda"/><stop offset="0.03398" stop-color="#e8dcda"/><stop offset="0.05847" stop-color="#e8dcda"/><stop offset="0.05847" stop-color="#e1d2cf"/><stop offset="0.08296" stop-color="#e1d2cf"/><stop offset="0.08296" stop-color="#dacac6"/><stop offset="0.10746" stop-color="#dacac6"/><stop offset="0.10746" stop-color="#d2beb9"/><stop offset="0.13195" stop-color="#d2beb9"/><stop offset="0.13195" stop-color="#c9b3ac"/><stop offset="0.15645" stop-color="#c9b3ac"/><stop offset="0.15645" stop-color="#c0a8a1"/><stop offset="0.18094" stop-color="#c0a8a1"/><stop offset="0.18094" stop-color="#b89d96"/><stop offset="0.20544" stop-color="#b89d96"/><stop offset="0.20544" stop-color="#b49890"/><stop offset="0.22993" stop-color="#b49890"/><stop offset="0.22993" stop-color="#b09289"/><stop offset="0.25442" stop-color="#b09289"/><stop offset="0.25442" stop-color="#a27a6d"/><stop offset="0.27892" stop-color="#a27a6d"/><stop offset="0.27892" stop-color="#9a6e60"/><stop offset="0.30341" stop-color="#9a6e60"/><stop offset="0.30341" stop-color="#96695b"/><stop offset="0.32791" stop-color="#96695b"/><stop offset="0.32791" stop-color="#aa8660"/><stop offset="0.35240" stop-color="#aa8660"/><stop offset="0.35240" stop-color="#ede895"/><stop offset="0.37690" stop-color="#ede895"/><stop offset="0.37690" stop-color="#f8f8a0"/><stop offset="0.40139" stop-color="#f8f8a0"/><stop offset="0.40139" stop-color="#c8f098"/><stop offset="0.42588" stop-color="#c8f098"/><stop offset="0.42588" stop-color="#9bea8b"/><stop offset="0.45038" stop-color="#9bea8b"/><stop offset="0.45038" stop-color="#4bda71"/><stop offset="0.47487" stop-color="#4bda71"/><stop offset="0.47487" stop-color="#3ad76b"/><stop offset="0.49937" stop-color="#3ad76b"/><stop offset="0.49937" stop-color="#29d366"/><stop offset="0.52386" stop-color="#29d366"/><stop offset="0.52386" stop-color="#29d366"/><stop offset="0.54836" stop-color="#29d366"/><stop offset="0.54836" stop-color="#18d060"/><stop offset="0.57285" stop-color="#18d060"/><stop offset="0.57285" stop-color="#1090f0"/><stop offset="0.59735" stop-color="#1090f0"/><stop offset="0.59735" stop-color="#2068d4"/><stop offset="0.62184" stop-color="#2068d4"/><stop offset="0.62184" stop-color="#1090f0"/><stop offset="0.64633" stop-color="#1090f0"/><stop offset="0.64633" stop-color="#1090f0"/><stop offset="0.67083" stop-color="#1090f0"/><stop offset="0.67083" stop-color="#5dde77"/><stop offset="0.69532" stop-color="#5dde77"/><stop offset="0.69532" stop-color="#9bea8b"/><stop offset="0.71982" stop-color="#9bea8b"/><stop offset="0.71982" stop-color="#c8f098"/><stop offset="0.74431" stop-color="#c8f098"/><stop offset="0.74431" stop-color="#f1f79f"/><stop offset="0.76881" stop-color="#f1f79f"/><stop offset="0.76881" stop-color="#f3f09b"/><stop offset="0.79330" stop-color="#f3f09b"/><stop offset="0.79330" stop-color="#d0bd7c"/><stop offset="0.81779" stop-color="#d0bd7c"/><stop offset="0.81779" stop-color="#9a6e60"/><stop offset="0.84229" stop-color="#9a6e60"/><stop offset="0.84229" stop-color="#ad8c82"/><stop offset="0.86678" stop-color="#ad8c82"/><stop offset="0.86678" stop-color="#b89d96"/><stop offset="0.89128" stop-color="#b89d96"/><stop offset="0.89128" stop-color="#c9b3ac"/><stop offset="0.91577" stop-color="#c9b3ac"/><stop offset="0.91577" stop-color="#d2beb9"/><stop offset="0.94027" stop-color="#d2beb9"/><stop offset="0.94027" stop-color="#dfd0cd"/><stop offset="0.96476" stop-color="#dfd0cd"/><stop offset="0.96476" stop-color="#e9dedc"/><stop offset="0.98925" stop-color="#e9dedc"/><stop offset="0.98925" stop-color="#f0e9e8"/><stop offset="1.00000" stop-color="#f0e9e8"/></linearGradient>
<rect x="275" y="17.2" width="14.3" height="158.2" fill="url(#hc14)"/>
<linearGradient id="hc15" gradientUnits="userSpaceOnUse" x1="0" y1="17.2" x2="0" y2="175.4"><stop offset="0.00000" stop-color="#ece2e0"/><stop offset="0.03398" stop-color="#ece2e0"/><stop offset="0.03398" stop-color="#ece2e0"/><stop offset="0.05847" stop-color="#ece2e0"/><stop offset="0.05847" stop-color="#e4d6d3"/><stop offset="0.08296" stop-color="#e4d6d3"/><stop offset="0.08296" stop-color="#dacac6"/><stop offset="0.10746" stop-color="#dacac6"/><stop offset="0.10746" stop-color="#d6c4bf"/><stop offset="0.13195" stop-color="#d6c4bf"/><stop offset="0.13195" stop-color="#cdb8b2"/><stop offset="0.15645" stop-color="#cdb8b2"/><stop offset="0.15645" stop-color="#c9b3ac"/><stop offset="0.18094" stop-color="#c9b3ac"/><stop offset="0.18094" stop-color="#c5ada7"/><stop offset="0.20544" stop-color="#c5ada7"/><stop offset="0.20544" stop-color="#c0a8a1"/><stop offset="0.22993" stop-color="#c0a8a1"/><stop offset="0.22993" stop-color="#bca39b"/><stop offset="0.25442" stop-color="#bca39b"/><stop offset="0.25442" stop-color="#ad8c82"/><stop offset="0.27892" stop-color="#ad8c82"/><stop offset="0.27892" stop-color="#a27a6d"/><stop offset="0.30341" stop-color="#a27a6d"/><stop offset="0.30341" stop-color="#9a6e60"/><stop offset="0.32791" stop-color="#9a6e60"/><stop offset="0.32791" stop-color="#926456"/><stop offset="0.35240" stop-color="#926456"/><stop offset="0.35240" stop-color="#926456"/><stop offset="0.37690" stop-color="#926456"/><stop offset="0.37690" stop-color="#b89a68"/><stop offset="0.40139" stop-color="#b89a68"/><stop offset="0.40139" stop-color="#ede895"/><stop offset="0.42588" stop-color="#ede895"/><stop offset="0.42588" stop-color="#f1f79f"/><stop offset="0.45038" stop-color="#f1f79f"/><stop offset="0.45038" stop-color="#cff199"/><stop offset="0.47487" stop-color="#cff199"/><stop offset="0.47487" stop-color="#9bea8b"/><stop offset="0.49937" stop-color="#9bea8b"/><stop offset="0.49937" stop-color="#6ee17d"/><stop offset="0.52386" stop-color="#6ee17d"/><stop offset="0.52386" stop-color="#18d060"/><stop offset="0.54836" stop-color="#18d060"/><stop offset="0.54836" stop-color="#18d060"/><stop offset="0.57285" stop-color="#18d060"/><stop offset="0.57285" stop-color="#18d060"/><stop offset="0.59735" stop-color="#18d060"/><stop offset="0.59735" stop-color="#18d060"/><stop offset="0.62184" stop-color="#18d060"/><stop offset="0.62184" stop-color="#18d060"/><stop offset="0.64633" stop-color="#18d060"/><stop offset="0.64633" stop-color="#18d060"/><stop offset="0.67083" stop-color="#18d060"/><stop offset="0.67083" stop-color="#5dde77"/><stop offset="0.69532" stop-color="#5dde77"/><stop offset="0.69532" stop-color="#9bea8b"/><stop offset="0.71982" stop-color="#9bea8b"/><stop offset="0.71982" stop-color="#d6f29a"/><stop offset="0.74431" stop-color="#d6f29a"/><stop offset="0.74431" stop-color="#c8f098"/><stop offset="0.76881" stop-color="#c8f098"/><stop offset="0.76881" stop-color="#f1f79f"/><stop offset="0.79330" stop-color="#f1f79f"/><stop offset="0.79330" stop-color="#d8c983"/><stop offset="0.81779" stop-color="#d8c983"/><stop offset="0.81779" stop-color="#9c7258"/><stop offset="0.84229" stop-color="#9c7258"/><stop offset="0.84229" stop-color="#8e5e50"/><stop offset="0.86678" stop-color="#8e5e50"/><stop offset="0.86678" stop-color="#ad8c82"/><stop offset="0.89128" stop-color="#ad8c82"/><stop offset="0.89128" stop-color="#c0a8a1"/><stop offset="0.91577" stop-color="#c0a8a1"/><stop offset="0.91577" stop-color="#cdb8b2"/><stop offset="0.94027" stop-color="#cdb8b2"/><stop offset="0.94027" stop-color="#dacac6"/><stop offset="0.96476" stop-color="#dacac6"/><stop offset="0.96476" stop-color="#e9dedc"/><stop offset="0.98925" stop-color="#e9dedc"/><stop offset="0.98925" stop-color="#f0e9e8"/><stop offset="1.00000" stop-color="#f0e9e8"/></linearGradient>
<rect x="288.3" y="17.2" width="12.2" height="158.2" fill="url(#hc15)"/>
<linearGradient id="hc16" gradientUnits="userSpaceOnUse" x1="0" y1="17.2" x2="0" y2="175.4"><stop offset="0.00000" stop-color="#dacac6"/><stop offset="0.03398" stop-color="#dacac6"/><stop offset="0.03398" stop-color="#dacac6"/><stop offset="0.05847" stop-color="#dacac6"/><stop offset="0.05847" stop-color="#d2beb9"/><stop offset="0.08296" stop-color="#d2beb9"/><stop offset="0.08296" stop-color="#cdb8b2"/><stop offset="0.10746" stop-color="#cdb8b2"/><stop offset="0.10746" stop-color="#c9b3ac"/><stop offset="0.13195" stop-color="#c9b3ac"/><stop offset="0.13195" stop-color="#c5ada7"/><stop offset="0.15645" stop-color="#c5ada7"/><stop offset="0.15645" stop-color="#c5ada7"/><stop offset="0.18094" stop-color="#c5ada7"/><stop offset="0.18094" stop-color="#c0a8a1"/><stop offset="0.20544" stop-color="#c0a8a1"/><stop offset="0.20544" stop-color="#c0a8a1"/><stop offset="0.22993" stop-color="#c0a8a1"/><stop offset="0.22993" stop-color="#bca39b"/><stop offset="0.25442" stop-color="#bca39b"/><stop offset="0.25442" stop-color="#b09289"/><stop offset="0.27892" stop-color="#b09289"/><stop offset="0.27892" stop-color="#a9867b"/><stop offset="0.30341" stop-color="#a9867b"/><stop offset="0.30341" stop-color="#a27a6d"/><stop offset="0.32791" stop-color="#a27a6d"/><stop offset="0.32791" stop-color="#9a6e60"/><stop offset="0.35240" stop-color="#9a6e60"/><stop offset="0.35240" stop-color="#926456"/><stop offset="0.37690" stop-color="#926456"/><stop offset="0.37690" stop-color="#9c7258"/><stop offset="0.40139" stop-color="#9c7258"/><stop offset="0.40139" stop-color="#b89a68"/><stop offset="0.42588" stop-color="#b89a68"/><stop offset="0.42588" stop-color="#d8c983"/><stop offset="0.45038" stop-color="#d8c983"/><stop offset="0.45038" stop-color="#ede895"/><stop offset="0.47487" stop-color="#ede895"/><stop offset="0.47487" stop-color="#f8f8a0"/><stop offset="0.49937" stop-color="#f8f8a0"/><stop offset="0.49937" stop-color="#e3f59d"/><stop offset="0.52386" stop-color="#e3f59d"/><stop offset="0.52386" stop-color="#c8f098"/><stop offset="0.54836" stop-color="#c8f098"/><stop offset="0.54836" stop-color="#9bea8b"/><stop offset="0.57285" stop-color="#9bea8b"/><stop offset="0.57285" stop-color="#9bea8b"/><stop offset="0.59735" stop-color="#9bea8b"/><stop offset="0.59735" stop-color="#9bea8b"/><stop offset="0.62184" stop-color="#9bea8b"/><stop offset="0.62184" stop-color="#9bea8b"/><stop offset="0.64633" stop-color="#9bea8b"/><stop offset="0.64633" stop-color="#9bea8b"/><stop offset="0.67083" stop-color="#9bea8b"/><stop offset="0.67083" stop-color="#c8f098"/><stop offset="0.69532" stop-color="#c8f098"/><stop offset="0.69532" stop-color="#e3f59d"/><stop offset="0.71982" stop-color="#e3f59d"/><stop offset="0.71982" stop-color="#d8c983"/><stop offset="0.74431" stop-color="#d8c983"/><stop offset="0.74431" stop-color="#d8c983"/><stop offset="0.76881" stop-color="#d8c983"/><stop offset="0.76881" stop-color="#b89a68"/><stop offset="0.79330" stop-color="#b89a68"/><stop offset="0.79330" stop-color="#8e5e50"/><stop offset="0.81779" stop-color="#8e5e50"/><stop offset="0.81779" stop-color="#9a6e60"/><stop offset="0.84229" stop-color="#9a6e60"/><stop offset="0.84229" stop-color="#ad8c82"/><stop offset="0.86678" stop-color="#ad8c82"/><stop offset="0.86678" stop-color="#bca39b"/><stop offset="0.89128" stop-color="#bca39b"/><stop offset="0.89128" stop-color="#c9b3ac"/><stop offset="0.91577" stop-color="#c9b3ac"/><stop offset="0.91577" stop-color="#d2beb9"/><stop offset="0.94027" stop-color="#d2beb9"/><stop offset="0.94027" stop-color="#dfd0cd"/><stop offset="0.96476" stop-color="#dfd0cd"/><stop offset="0.96476" stop-color="#e9dedc"/><stop offset="0.98925" stop-color="#e9dedc"/><stop offset="0.98925" stop-color="#f0e9e8"/><stop offset="1.00000" stop-color="#f0e9e8"/></linearGradient>
<rect x="299.5" y="17.2" width="9.3" height="158.2" fill="url(#hc16)"/>
<rect x="37.6" y="16.7" width="276.3" height="160.6" fill="none" stroke="#1a1a1a" stroke-width="1.25"/>
<text x="34.3" y="181.7" text-anchor="end" font-size="10" >0</text>
<line x1="37.6" y1="137.15" x2="41.6" y2="137.15" stroke="#1a1a1a" stroke-width="1.1"/>
<text x="34.3" y="141.55" text-anchor="end" font-size="10" >100</text>
<line x1="37.6" y1="97" x2="41.6" y2="97" stroke="#1a1a1a" stroke-width="1.1"/>
<text x="34.3" y="101.4" text-anchor="end" font-size="10" >200</text>
<line x1="37.6" y1="56.85" x2="41.6" y2="56.85" stroke="#1a1a1a" stroke-width="1.1"/>
<text x="34.3" y="61.25" text-anchor="end" font-size="10" >300</text>
<text x="34.3" y="21.1" text-anchor="end" font-size="10" >400</text>
<line x1="50.35" y1="177.3" x2="50.35" y2="173.1" stroke="#1a1a1a" stroke-width="1.1"/>
<text x="50.35" y="188.9" text-anchor="middle" font-size="10" >0.3</text>
<line x1="83.4" y1="177.3" x2="83.4" y2="173.1" stroke="#1a1a1a" stroke-width="1.1"/>
<text x="83.4" y="188.9" text-anchor="middle" font-size="10" >0.2</text>
<line x1="116.45" y1="177.3" x2="116.45" y2="173.1" stroke="#1a1a1a" stroke-width="1.1"/>
<text x="116.45" y="188.9" text-anchor="middle" font-size="10" >0.1</text>
<line x1="149.5" y1="177.3" x2="149.5" y2="173.1" stroke="#1a1a1a" stroke-width="1.1"/>
<text x="149.5" y="188.9" text-anchor="middle" font-size="10" >0</text>
<line x1="182.55" y1="177.3" x2="182.55" y2="173.1" stroke="#1a1a1a" stroke-width="1.1"/>
<text x="182.55" y="188.9" text-anchor="middle" font-size="10" >0.1</text>
<line x1="215.6" y1="177.3" x2="215.6" y2="173.1" stroke="#1a1a1a" stroke-width="1.1"/>
<text x="215.6" y="188.9" text-anchor="middle" font-size="10" >0.2</text>
<line x1="248.65" y1="177.3" x2="248.65" y2="173.1" stroke="#1a1a1a" stroke-width="1.1"/>
<text x="248.65" y="188.9" text-anchor="middle" font-size="10" >0.3</text>
<line x1="281.7" y1="177.3" x2="281.7" y2="173.1" stroke="#1a1a1a" stroke-width="1.1"/>
<text x="281.7" y="188.9" text-anchor="middle" font-size="10" >0.4</text>
<text x="314.75" y="188.9" text-anchor="middle" font-size="10" >0.5</text>
<text x="57.6" y="199.2" font-size="10" textLength="71" lengthAdjust="spacingAndGlyphs" >q<tspan font-size="7.5" dy="2.4" font-style="italic">//</tspan><tspan dy="-2.4">=(</tspan><tspan font-style="italic">h</tspan>, <tspan font-style="italic">h</tspan>) (<tspan font-style="italic">r.l.u.</tspan>)</text>
<text x="203.6" y="199.2" font-size="10" textLength="71" lengthAdjust="spacingAndGlyphs" >q<tspan font-size="7.5" dy="2.4" font-style="italic">//</tspan><tspan dy="-2.4">=(</tspan><tspan font-style="italic">h</tspan>, 0) (<tspan font-style="italic">r.l.u.</tspan>)</text>
<text transform="translate(9.6,93.7) rotate(-90)" text-anchor="middle" font-size="9.7" >Energy loss (meV)</text>
<text x="99" y="8.3" text-anchor="middle" font-size="10" >PrNiO<tspan font-size="7" dy="2.3">2</tspan><tspan dy="-2.3">/STO (</tspan><tspan font-style="italic">h</tspan>, <tspan font-style="italic">h</tspan>)</text>
<text x="252.6" y="8.3" text-anchor="middle" font-size="10" >PrNiO<tspan font-size="7" dy="2.3">2</tspan><tspan dy="-2.3">/STO (</tspan><tspan font-style="italic">h</tspan>, 0)</text>
<line x1="136.6" y1="37.5" x2="173.2" y2="73.3" stroke="#8c8c8c" stroke-width="0.6"/>
<line x1="136.6" y1="73.3" x2="173.2" y2="37.5" stroke="#8c8c8c" stroke-width="0.6"/>
<rect x="136.6" y="37.5" width="36.6" height="35.8" fill="none" stroke="#4d4d4d" stroke-width="1.1"/>
<line x1="136.6" y1="73.3" x2="160.6" y2="49.82" stroke="#4a86c6" stroke-width="1.5"/>
<line x1="136.6" y1="73.3" x2="173.2" y2="73.3" stroke="#4a86c6" stroke-width="1.5"/>
<text x="169.8" y="32.9" text-anchor="middle" font-size="7.4" >(0.5, 0.5)</text>
<text x="138.0" y="83.3" text-anchor="middle" font-size="7.4" >(0, 0)</text>
<text x="170.3" y="83.3" text-anchor="middle" font-size="7.4" >(0.5, 0)</text>
<defs><linearGradient id="cba" x1="0" x2="1" y1="0" y2="0"><stop offset="0.0215" stop-color="#ffffff"/><stop offset="0.0430" stop-color="#f6f2f2"/><stop offset="0.0860" stop-color="#e8dcda"/><stop offset="0.1505" stop-color="#cdb8b2"/><stop offset="0.2151" stop-color="#b49890"/><stop offset="0.2796" stop-color="#9e7466"/><stop offset="0.3226" stop-color="#8e5e50"/><stop offset="0.3871" stop-color="#b89a68"/><stop offset="0.4516" stop-color="#e8e090"/><stop offset="0.4839" stop-color="#f8f8a0"/><stop offset="0.5591" stop-color="#c8f098"/><stop offset="0.6129" stop-color="#90e888"/><stop offset="0.6882" stop-color="#18d060"/><stop offset="0.7419" stop-color="#1090f0"/><stop offset="0.7849" stop-color="#3040b8"/><stop offset="0.8172" stop-color="#343898"/><stop offset="1" stop-color="#343898"/></linearGradient></defs>
<rect x="131.3" y="153.9" width="46.5" height="10.7" fill="url(#cba)" stroke="#1a1a1a" stroke-width="0.9"/>
<line x1="132.3" y1="153.9" x2="132.3" y2="150.5" stroke="#1a1a1a" stroke-width="0.8"/>
<line x1="142.3" y1="153.9" x2="142.3" y2="151.9" stroke="#1a1a1a" stroke-width="0.8"/>
<line x1="152.3" y1="153.9" x2="152.3" y2="150.5" stroke="#1a1a1a" stroke-width="0.8"/>
<line x1="162.3" y1="153.9" x2="162.3" y2="151.9" stroke="#1a1a1a" stroke-width="0.8"/>
<line x1="172.3" y1="153.9" x2="172.3" y2="150.5" stroke="#1a1a1a" stroke-width="0.8"/>
<text x="132.3" y="147.3" text-anchor="middle" font-size="8.6" >0</text>
<text x="152.3" y="147.3" text-anchor="middle" font-size="8.6" >0.2</text>
<text x="172.3" y="147.3" text-anchor="middle" font-size="8.6" >0.4</text>
<linearGradient id="hc17" gradientUnits="userSpaceOnUse" x1="0" y1="234.6" x2="0" y2="394.6"><stop offset="0.00000" stop-color="#a37c5c"/><stop offset="0.02700" stop-color="#a37c5c"/><stop offset="0.02700" stop-color="#9c7258"/><stop offset="0.05150" stop-color="#9c7258"/><stop offset="0.05150" stop-color="#9c7258"/><stop offset="0.07600" stop-color="#9c7258"/><stop offset="0.07600" stop-color="#9c7258"/><stop offset="0.10050" stop-color="#9c7258"/><stop offset="0.10050" stop-color="#9c7258"/><stop offset="0.12500" stop-color="#9c7258"/><stop offset="0.12500" stop-color="#9c7258"/><stop offset="0.14950" stop-color="#9c7258"/><stop offset="0.14950" stop-color="#9c7258"/><stop offset="0.17400" stop-color="#9c7258"/><stop offset="0.17400" stop-color="#a37c5c"/><stop offset="0.19850" stop-color="#a37c5c"/><stop offset="0.19850" stop-color="#b19064"/><stop offset="0.22300" stop-color="#b19064"/><stop offset="0.22300" stop-color="#b19064"/><stop offset="0.24750" stop-color="#b19064"/><stop offset="0.24750" stop-color="#b19064"/><stop offset="0.27200" stop-color="#b19064"/><stop offset="0.27200" stop-color="#c0a66f"/><stop offset="0.29650" stop-color="#c0a66f"/><stop offset="0.29650" stop-color="#c0a66f"/><stop offset="0.32100" stop-color="#c0a66f"/><stop offset="0.32100" stop-color="#c8b175"/><stop offset="0.34550" stop-color="#c8b175"/><stop offset="0.34550" stop-color="#d0bd7c"/><stop offset="0.37000" stop-color="#d0bd7c"/><stop offset="0.37000" stop-color="#d8c983"/><stop offset="0.39450" stop-color="#d8c983"/><stop offset="0.39450" stop-color="#e0d489"/><stop offset="0.41900" stop-color="#e0d489"/><stop offset="0.41900" stop-color="#e8e090"/><stop offset="0.44350" stop-color="#e8e090"/><stop offset="0.44350" stop-color="#ede895"/><stop offset="0.46800" stop-color="#ede895"/><stop offset="0.46800" stop-color="#f3f09b"/><stop offset="0.49250" stop-color="#f3f09b"/><stop offset="0.49250" stop-color="#f8f8a0"/><stop offset="0.51700" stop-color="#f8f8a0"/><stop offset="0.51700" stop-color="#d6f29a"/><stop offset="0.54150" stop-color="#d6f29a"/><stop offset="0.54150" stop-color="#bdee95"/><stop offset="0.56600" stop-color="#bdee95"/><stop offset="0.56600" stop-color="#a6eb8e"/><stop offset="0.59050" stop-color="#a6eb8e"/><stop offset="0.59050" stop-color="#9bea8b"/><stop offset="0.61500" stop-color="#9bea8b"/><stop offset="0.61500" stop-color="#90e888"/><stop offset="0.63950" stop-color="#90e888"/><stop offset="0.63950" stop-color="#7fe582"/><stop offset="0.66400" stop-color="#7fe582"/><stop offset="0.66400" stop-color="#7fe582"/><stop offset="0.68850" stop-color="#7fe582"/><stop offset="0.68850" stop-color="#7fe582"/><stop offset="0.71300" stop-color="#7fe582"/><stop offset="0.71300" stop-color="#90e888"/><stop offset="0.73750" stop-color="#90e888"/><stop offset="0.73750" stop-color="#7fe582"/><stop offset="0.76200" stop-color="#7fe582"/><stop offset="0.76200" stop-color="#9bea8b"/><stop offset="0.78650" stop-color="#9bea8b"/><stop offset="0.78650" stop-color="#bdee95"/><stop offset="0.81100" stop-color="#bdee95"/><stop offset="0.81100" stop-color="#ddf39b"/><stop offset="0.83550" stop-color="#ddf39b"/><stop offset="0.83550" stop-color="#f1f79f"/><stop offset="0.86000" stop-color="#f1f79f"/><stop offset="0.86000" stop-color="#ede895"/><stop offset="0.88450" stop-color="#ede895"/><stop offset="0.88450" stop-color="#e8e090"/><stop offset="0.90900" stop-color="#e8e090"/><stop offset="0.90900" stop-color="#e0d489"/><stop offset="0.93350" stop-color="#e0d489"/><stop offset="0.93350" stop-color="#c0a66f"/><stop offset="0.95800" stop-color="#c0a66f"/><stop offset="0.95800" stop-color="#9c7258"/><stop offset="0.98250" stop-color="#9c7258"/><stop offset="0.98250" stop-color="#b89d96"/><stop offset="1.00000" stop-color="#b89d96"/></linearGradient>
<rect x="37.6" y="234.6" width="7.3" height="160" fill="url(#hc17)"/>
<linearGradient id="hc18" gradientUnits="userSpaceOnUse" x1="0" y1="234.6" x2="0" y2="394.6"><stop offset="0.00000" stop-color="#a37c5c"/><stop offset="0.02700" stop-color="#a37c5c"/><stop offset="0.02700" stop-color="#9c7258"/><stop offset="0.05150" stop-color="#9c7258"/><stop offset="0.05150" stop-color="#9c7258"/><stop offset="0.07600" stop-color="#9c7258"/><stop offset="0.07600" stop-color="#9c7258"/><stop offset="0.10050" stop-color="#9c7258"/><stop offset="0.10050" stop-color="#9c7258"/><stop offset="0.12500" stop-color="#9c7258"/><stop offset="0.12500" stop-color="#9c7258"/><stop offset="0.14950" stop-color="#9c7258"/><stop offset="0.14950" stop-color="#9c7258"/><stop offset="0.17400" stop-color="#9c7258"/><stop offset="0.17400" stop-color="#9c7258"/><stop offset="0.19850" stop-color="#9c7258"/><stop offset="0.19850" stop-color="#a37c5c"/><stop offset="0.22300" stop-color="#a37c5c"/><stop offset="0.22300" stop-color="#b19064"/><stop offset="0.24750" stop-color="#b19064"/><stop offset="0.24750" stop-color="#a37c5c"/><stop offset="0.27200" stop-color="#a37c5c"/><stop offset="0.27200" stop-color="#a37c5c"/><stop offset="0.29650" stop-color="#a37c5c"/><stop offset="0.29650" stop-color="#aa8660"/><stop offset="0.32100" stop-color="#aa8660"/><stop offset="0.32100" stop-color="#aa8660"/><stop offset="0.34550" stop-color="#aa8660"/><stop offset="0.34550" stop-color="#b89a68"/><stop offset="0.37000" stop-color="#b89a68"/><stop offset="0.37000" stop-color="#c8b175"/><stop offset="0.39450" stop-color="#c8b175"/><stop offset="0.39450" stop-color="#d0bd7c"/><stop offset="0.41900" stop-color="#d0bd7c"/><stop offset="0.41900" stop-color="#d8c983"/><stop offset="0.44350" stop-color="#d8c983"/><stop offset="0.44350" stop-color="#e8e090"/><stop offset="0.46800" stop-color="#e8e090"/><stop offset="0.46800" stop-color="#ede895"/><stop offset="0.49250" stop-color="#ede895"/><stop offset="0.49250" stop-color="#f8f8a0"/><stop offset="0.51700" stop-color="#f8f8a0"/><stop offset="0.51700" stop-color="#e3f59d"/><stop offset="0.54150" stop-color="#e3f59d"/><stop offset="0.54150" stop-color="#c8f098"/><stop offset="0.56600" stop-color="#c8f098"/><stop offset="0.56600" stop-color="#9bea8b"/><stop offset="0.59050" stop-color="#9bea8b"/><stop offset="0.59050" stop-color="#6ee17d"/><stop offset="0.61500" stop-color="#6ee17d"/><stop offset="0.61500" stop-color="#5dde77"/><stop offset="0.63950" stop-color="#5dde77"/><stop offset="0.63950" stop-color="#4bda71"/><stop offset="0.66400" stop-color="#4bda71"/><stop offset="0.66400" stop-color="#4bda71"/><stop offset="0.68850" stop-color="#4bda71"/><stop offset="0.68850" stop-color="#5dde77"/><stop offset="0.71300" stop-color="#5dde77"/><stop offset="0.71300" stop-color="#7fe582"/><stop offset="0.73750" stop-color="#7fe582"/><stop offset="0.73750" stop-color="#9bea8b"/><stop offset="0.76200" stop-color="#9bea8b"/><stop offset="0.76200" stop-color="#a6eb8e"/><stop offset="0.78650" stop-color="#a6eb8e"/><stop offset="0.78650" stop-color="#c8f098"/><stop offset="0.81100" stop-color="#c8f098"/><stop offset="0.81100" stop-color="#e3f59d"/><stop offset="0.83550" stop-color="#e3f59d"/><stop offset="0.83550" stop-color="#ede895"/><stop offset="0.86000" stop-color="#ede895"/><stop offset="0.86000" stop-color="#e0d489"/><stop offset="0.88450" stop-color="#e0d489"/><stop offset="0.88450" stop-color="#d0bd7c"/><stop offset="0.90900" stop-color="#d0bd7c"/><stop offset="0.90900" stop-color="#d0bd7c"/><stop offset="0.93350" stop-color="#d0bd7c"/><stop offset="0.93350" stop-color="#c0a66f"/><stop offset="0.95800" stop-color="#c0a66f"/><stop offset="0.95800" stop-color="#956854"/><stop offset="0.98250" stop-color="#956854"/><stop offset="0.98250" stop-color="#d6c4bf"/><stop offset="1.00000" stop-color="#d6c4bf"/></linearGradient>
<rect x="43.9" y="234.6" width="9.1" height="160" fill="url(#hc18)"/>
<linearGradient id="hc19" gradientUnits="userSpaceOnUse" x1="0" y1="234.6" x2="0" y2="394.6"><stop offset="0.00000" stop-color="#b19064"/><stop offset="0.02700" stop-color="#b19064"/><stop offset="0.02700" stop-color="#b19064"/><stop offset="0.05150" stop-color="#b19064"/><stop offset="0.05150" stop-color="#a37c5c"/><stop offset="0.07600" stop-color="#a37c5c"/><stop offset="0.07600" stop-color="#9c7258"/><stop offset="0.10050" stop-color="#9c7258"/><stop offset="0.10050" stop-color="#9c7258"/><stop offset="0.12500" stop-color="#9c7258"/><stop offset="0.12500" stop-color="#9c7258"/><stop offset="0.14950" stop-color="#9c7258"/><stop offset="0.14950" stop-color="#956854"/><stop offset="0.17400" stop-color="#956854"/><stop offset="0.17400" stop-color="#956854"/><stop offset="0.19850" stop-color="#956854"/><stop offset="0.19850" stop-color="#9c7258"/><stop offset="0.22300" stop-color="#9c7258"/><stop offset="0.22300" stop-color="#a37c5c"/><stop offset="0.24750" stop-color="#a37c5c"/><stop offset="0.24750" stop-color="#aa8660"/><stop offset="0.27200" stop-color="#aa8660"/><stop offset="0.27200" stop-color="#aa8660"/><stop offset="0.29650" stop-color="#aa8660"/><stop offset="0.29650" stop-color="#b19064"/><stop offset="0.32100" stop-color="#b19064"/><stop offset="0.32100" stop-color="#b89a68"/><stop offset="0.34550" stop-color="#b89a68"/><stop offset="0.34550" stop-color="#c0a66f"/><stop offset="0.37000" stop-color="#c0a66f"/><stop offset="0.37000" stop-color="#c8b175"/><stop offset="0.39450" stop-color="#c8b175"/><stop offset="0.39450" stop-color="#d0bd7c"/><stop offset="0.41900" stop-color="#d0bd7c"/><stop offset="0.41900" stop-color="#d8c983"/><stop offset="0.44350" stop-color="#d8c983"/><stop offset="0.44350" stop-color="#e0d489"/><stop offset="0.46800" stop-color="#e0d489"/><stop offset="0.46800" stop-color="#e8e090"/><stop offset="0.49250" stop-color="#e8e090"/><stop offset="0.49250" stop-color="#f8f8a0"/><stop offset="0.51700" stop-color="#f8f8a0"/><stop offset="0.51700" stop-color="#f1f79f"/><stop offset="0.54150" stop-color="#f1f79f"/><stop offset="0.54150" stop-color="#d6f29a"/><stop offset="0.56600" stop-color="#d6f29a"/><stop offset="0.56600" stop-color="#a6eb8e"/><stop offset="0.59050" stop-color="#a6eb8e"/><stop offset="0.59050" stop-color="#6ee17d"/><stop offset="0.61500" stop-color="#6ee17d"/><stop offset="0.61500" stop-color="#4bda71"/><stop offset="0.63950" stop-color="#4bda71"/><stop offset="0.63950" stop-color="#29d366"/><stop offset="0.66400" stop-color="#29d366"/><stop offset="0.66400" stop-color="#29d366"/><stop offset="0.68850" stop-color="#29d366"/><stop offset="0.68850" stop-color="#4bda71"/><stop offset="0.71300" stop-color="#4bda71"/><stop offset="0.71300" stop-color="#7fe582"/><stop offset="0.73750" stop-color="#7fe582"/><stop offset="0.73750" stop-color="#a6eb8e"/><stop offset="0.76200" stop-color="#a6eb8e"/><stop offset="0.76200" stop-color="#bdee95"/><stop offset="0.78650" stop-color="#bdee95"/><stop offset="0.78650" stop-color="#d6f29a"/><stop offset="0.81100" stop-color="#d6f29a"/><stop offset="0.81100" stop-color="#e3f59d"/><stop offset="0.83550" stop-color="#e3f59d"/><stop offset="0.83550" stop-color="#c0a66f"/><stop offset="0.86000" stop-color="#c0a66f"/><stop offset="0.86000" stop-color="#9c7258"/><stop offset="0.88450" stop-color="#9c7258"/><stop offset="0.88450" stop-color="#9c7258"/><stop offset="0.90900" stop-color="#9c7258"/><stop offset="0.90900" stop-color="#c0a66f"/><stop offset="0.93350" stop-color="#c0a66f"/><stop offset="0.93350" stop-color="#d8c983"/><stop offset="0.95800" stop-color="#d8c983"/><stop offset="0.95800" stop-color="#956854"/><stop offset="0.98250" stop-color="#956854"/><stop offset="0.98250" stop-color="#dacac6"/><stop offset="1.00000" stop-color="#dacac6"/></linearGradient>
<rect x="52" y="234.6" width="10" height="160" fill="url(#hc19)"/>
<linearGradient id="hc20" gradientUnits="userSpaceOnUse" x1="0" y1="234.6" x2="0" y2="394.6"><stop offset="0.00000" stop-color="#8e5e50"/><stop offset="0.02700" stop-color="#8e5e50"/><stop offset="0.02700" stop-color="#8e5e50"/><stop offset="0.05150" stop-color="#8e5e50"/><stop offset="0.05150" stop-color="#956854"/><stop offset="0.07600" stop-color="#956854"/><stop offset="0.07600" stop-color="#956854"/><stop offset="0.10050" stop-color="#956854"/><stop offset="0.10050" stop-color="#9c7258"/><stop offset="0.12500" stop-color="#9c7258"/><stop offset="0.12500" stop-color="#8e5e50"/><stop offset="0.14950" stop-color="#8e5e50"/><stop offset="0.14950" stop-color="#8e5e50"/><stop offset="0.17400" stop-color="#8e5e50"/><stop offset="0.17400" stop-color="#8e5e50"/><stop offset="0.19850" stop-color="#8e5e50"/><stop offset="0.19850" stop-color="#956854"/><stop offset="0.22300" stop-color="#956854"/><stop offset="0.22300" stop-color="#9c7258"/><stop offset="0.24750" stop-color="#9c7258"/><stop offset="0.24750" stop-color="#a37c5c"/><stop offset="0.27200" stop-color="#a37c5c"/><stop offset="0.27200" stop-color="#aa8660"/><stop offset="0.29650" stop-color="#aa8660"/><stop offset="0.29650" stop-color="#aa8660"/><stop offset="0.32100" stop-color="#aa8660"/><stop offset="0.32100" stop-color="#b19064"/><stop offset="0.34550" stop-color="#b19064"/><stop offset="0.34550" stop-color="#b89a68"/><stop offset="0.37000" stop-color="#b89a68"/><stop offset="0.37000" stop-color="#c0a66f"/><stop offset="0.39450" stop-color="#c0a66f"/><stop offset="0.39450" stop-color="#c8b175"/><stop offset="0.41900" stop-color="#c8b175"/><stop offset="0.41900" stop-color="#d0bd7c"/><stop offset="0.44350" stop-color="#d0bd7c"/><stop offset="0.44350" stop-color="#d8c983"/><stop offset="0.46800" stop-color="#d8c983"/><stop offset="0.46800" stop-color="#e8e090"/><stop offset="0.49250" stop-color="#e8e090"/><stop offset="0.49250" stop-color="#f8f8a0"/><stop offset="0.51700" stop-color="#f8f8a0"/><stop offset="0.51700" stop-color="#ddf39b"/><stop offset="0.54150" stop-color="#ddf39b"/><stop offset="0.54150" stop-color="#cff199"/><stop offset="0.56600" stop-color="#cff199"/><stop offset="0.56600" stop-color="#a6eb8e"/><stop offset="0.59050" stop-color="#a6eb8e"/><stop offset="0.59050" stop-color="#9bea8b"/><stop offset="0.61500" stop-color="#9bea8b"/><stop offset="0.61500" stop-color="#7fe582"/><stop offset="0.63950" stop-color="#7fe582"/><stop offset="0.63950" stop-color="#6ee17d"/><stop offset="0.66400" stop-color="#6ee17d"/><stop offset="0.66400" stop-color="#6ee17d"/><stop offset="0.68850" stop-color="#6ee17d"/><stop offset="0.68850" stop-color="#7fe582"/><stop offset="0.71300" stop-color="#7fe582"/><stop offset="0.71300" stop-color="#9bea8b"/><stop offset="0.73750" stop-color="#9bea8b"/><stop offset="0.73750" stop-color="#c8f098"/><stop offset="0.76200" stop-color="#c8f098"/><stop offset="0.76200" stop-color="#c8f098"/><stop offset="0.78650" stop-color="#c8f098"/><stop offset="0.78650" stop-color="#e3f59d"/><stop offset="0.81100" stop-color="#e3f59d"/><stop offset="0.81100" stop-color="#f8f8a0"/><stop offset="0.83550" stop-color="#f8f8a0"/><stop offset="0.83550" stop-color="#d8c983"/><stop offset="0.86000" stop-color="#d8c983"/><stop offset="0.86000" stop-color="#aa8660"/><stop offset="0.88450" stop-color="#aa8660"/><stop offset="0.88450" stop-color="#9c7258"/><stop offset="0.90900" stop-color="#9c7258"/><stop offset="0.90900" stop-color="#b89a68"/><stop offset="0.93350" stop-color="#b89a68"/><stop offset="0.93350" stop-color="#d0bd7c"/><stop offset="0.95800" stop-color="#d0bd7c"/><stop offset="0.95800" stop-color="#956854"/><stop offset="0.98250" stop-color="#956854"/><stop offset="0.98250" stop-color="#dacac6"/><stop offset="1.00000" stop-color="#dacac6"/></linearGradient>
<rect x="61" y="234.6" width="11.6" height="160" fill="url(#hc20)"/>
<linearGradient id="hc21" gradientUnits="userSpaceOnUse" x1="0" y1="234.6" x2="0" y2="394.6"><stop offset="0.00000" stop-color="#8e5e50"/><stop offset="0.02700" stop-color="#8e5e50"/><stop offset="0.02700" stop-color="#8e5e50"/><stop offset="0.05150" stop-color="#8e5e50"/><stop offset="0.05150" stop-color="#8e5e50"/><stop offset="0.07600" stop-color="#8e5e50"/><stop offset="0.07600" stop-color="#8e5e50"/><stop offset="0.10050" stop-color="#8e5e50"/><stop offset="0.10050" stop-color="#8e5e50"/><stop offset="0.12500" stop-color="#8e5e50"/><stop offset="0.12500" stop-color="#956854"/><stop offset="0.14950" stop-color="#956854"/><stop offset="0.14950" stop-color="#9c7258"/><stop offset="0.17400" stop-color="#9c7258"/><stop offset="0.17400" stop-color="#9c7258"/><stop offset="0.19850" stop-color="#9c7258"/><stop offset="0.19850" stop-color="#8e5e50"/><stop offset="0.22300" stop-color="#8e5e50"/><stop offset="0.22300" stop-color="#8e5e50"/><stop offset="0.24750" stop-color="#8e5e50"/><stop offset="0.24750" stop-color="#956854"/><stop offset="0.27200" stop-color="#956854"/><stop offset="0.27200" stop-color="#956854"/><stop offset="0.29650" stop-color="#956854"/><stop offset="0.29650" stop-color="#a37c5c"/><stop offset="0.32100" stop-color="#a37c5c"/><stop offset="0.32100" stop-color="#b19064"/><stop offset="0.34550" stop-color="#b19064"/><stop offset="0.34550" stop-color="#b89a68"/><stop offset="0.37000" stop-color="#b89a68"/><stop offset="0.37000" stop-color="#c0a66f"/><stop offset="0.39450" stop-color="#c0a66f"/><stop offset="0.39450" stop-color="#c8b175"/><stop offset="0.41900" stop-color="#c8b175"/><stop offset="0.41900" stop-color="#d0bd7c"/><stop offset="0.44350" stop-color="#d0bd7c"/><stop offset="0.44350" stop-color="#d8c983"/><stop offset="0.46800" stop-color="#d8c983"/><stop offset="0.46800" stop-color="#e8e090"/><stop offset="0.49250" stop-color="#e8e090"/><stop offset="0.49250" stop-color="#f8f8a0"/><stop offset="0.51700" stop-color="#f8f8a0"/><stop offset="0.51700" stop-color="#e3f59d"/><stop offset="0.54150" stop-color="#e3f59d"/><stop offset="0.54150" stop-color="#cff199"/><stop offset="0.56600" stop-color="#cff199"/><stop offset="0.56600" stop-color="#9bea8b"/><stop offset="0.59050" stop-color="#9bea8b"/><stop offset="0.59050" stop-color="#7fe582"/><stop offset="0.61500" stop-color="#7fe582"/><stop offset="0.61500" stop-color="#5dde77"/><stop offset="0.63950" stop-color="#5dde77"/><stop offset="0.63950" stop-color="#3ad76b"/><stop offset="0.66400" stop-color="#3ad76b"/><stop offset="0.66400" stop-color="#3ad76b"/><stop offset="0.68850" stop-color="#3ad76b"/><stop offset="0.68850" stop-color="#4bda71"/><stop offset="0.71300" stop-color="#4bda71"/><stop offset="0.71300" stop-color="#7fe582"/><stop offset="0.73750" stop-color="#7fe582"/><stop offset="0.73750" stop-color="#9bea8b"/><stop offset="0.76200" stop-color="#9bea8b"/><stop offset="0.76200" stop-color="#a6eb8e"/><stop offset="0.78650" stop-color="#a6eb8e"/><stop offset="0.78650" stop-color="#bdee95"/><stop offset="0.81100" stop-color="#bdee95"/><stop offset="0.81100" stop-color="#ddf39b"/><stop offset="0.83550" stop-color="#ddf39b"/><stop offset="0.83550" stop-color="#e8e090"/><stop offset="0.86000" stop-color="#e8e090"/><stop offset="0.86000" stop-color="#956854"/><stop offset="0.88450" stop-color="#956854"/><stop offset="0.88450" stop-color="#9c7258"/><stop offset="0.90900" stop-color="#9c7258"/><stop offset="0.90900" stop-color="#ede895"/><stop offset="0.93350" stop-color="#ede895"/><stop offset="0.93350" stop-color="#f8f8a0"/><stop offset="0.95800" stop-color="#f8f8a0"/><stop offset="0.95800" stop-color="#9c7258"/><stop offset="0.98250" stop-color="#9c7258"/><stop offset="0.98250" stop-color="#ffffff"/><stop offset="1.00000" stop-color="#ffffff"/></linearGradient>
<rect x="71.6" y="234.6" width="12.5" height="160" fill="url(#hc21)"/>
<linearGradient id="hc22" gradientUnits="userSpaceOnUse" x1="0" y1="234.6" x2="0" y2="394.6"><stop offset="0.00000" stop-color="#996e56"/><stop offset="0.02700" stop-color="#996e56"/><stop offset="0.02700" stop-color="#996e56"/><stop offset="0.05150" stop-color="#996e56"/><stop offset="0.05150" stop-color="#996e56"/><stop offset="0.07600" stop-color="#996e56"/><stop offset="0.07600" stop-color="#996e56"/><stop offset="0.10050" stop-color="#996e56"/><stop offset="0.10050" stop-color="#996e56"/><stop offset="0.12500" stop-color="#996e56"/><stop offset="0.12500" stop-color="#996e56"/><stop offset="0.14950" stop-color="#996e56"/><stop offset="0.14950" stop-color="#996e56"/><stop offset="0.17400" stop-color="#996e56"/><stop offset="0.17400" stop-color="#996e56"/><stop offset="0.19850" stop-color="#996e56"/><stop offset="0.19850" stop-color="#996e56"/><stop offset="0.22300" stop-color="#996e56"/><stop offset="0.22300" stop-color="#9c7258"/><stop offset="0.24750" stop-color="#9c7258"/><stop offset="0.24750" stop-color="#a37c5c"/><stop offset="0.27200" stop-color="#a37c5c"/><stop offset="0.27200" stop-color="#aa8660"/><stop offset="0.29650" stop-color="#aa8660"/><stop offset="0.29650" stop-color="#aa8660"/><stop offset="0.32100" stop-color="#aa8660"/><stop offset="0.32100" stop-color="#aa8660"/><stop offset="0.34550" stop-color="#aa8660"/><stop offset="0.34550" stop-color="#aa8660"/><stop offset="0.37000" stop-color="#aa8660"/><stop offset="0.37000" stop-color="#b89a68"/><stop offset="0.39450" stop-color="#b89a68"/><stop offset="0.39450" stop-color="#c8b175"/><stop offset="0.41900" stop-color="#c8b175"/><stop offset="0.41900" stop-color="#d8c983"/><stop offset="0.44350" stop-color="#d8c983"/><stop offset="0.44350" stop-color="#e8e090"/><stop offset="0.46800" stop-color="#e8e090"/><stop offset="0.46800" stop-color="#ede895"/><stop offset="0.49250" stop-color="#ede895"/><stop offset="0.49250" stop-color="#f8f8a0"/><stop offset="0.51700" stop-color="#f8f8a0"/><stop offset="0.51700" stop-color="#f1f79f"/><stop offset="0.54150" stop-color="#f1f79f"/><stop offset="0.54150" stop-color="#d6f29a"/><stop offset="0.56600" stop-color="#d6f29a"/><stop offset="0.56600" stop-color="#a6eb8e"/><stop offset="0.59050" stop-color="#a6eb8e"/><stop offset="0.59050" stop-color="#7fe582"/><stop offset="0.61500" stop-color="#7fe582"/><stop offset="0.61500" stop-color="#4bda71"/><stop offset="0.63950" stop-color="#4bda71"/><stop offset="0.63950" stop-color="#29d366"/><stop offset="0.66400" stop-color="#29d366"/><stop offset="0.66400" stop-color="#29d366"/><stop offset="0.68850" stop-color="#29d366"/><stop offset="0.68850" stop-color="#3ad76b"/><stop offset="0.71300" stop-color="#3ad76b"/><stop offset="0.71300" stop-color="#5dde77"/><stop offset="0.73750" stop-color="#5dde77"/><stop offset="0.73750" stop-color="#7fe582"/><stop offset="0.76200" stop-color="#7fe582"/><stop offset="0.76200" stop-color="#a6eb8e"/><stop offset="0.78650" stop-color="#a6eb8e"/><stop offset="0.78650" stop-color="#cff199"/><stop offset="0.81100" stop-color="#cff199"/><stop offset="0.81100" stop-color="#ddf39b"/><stop offset="0.83550" stop-color="#ddf39b"/><stop offset="0.83550" stop-color="#e8e090"/><stop offset="0.86000" stop-color="#e8e090"/><stop offset="0.86000" stop-color="#b89a68"/><stop offset="0.88450" stop-color="#b89a68"/><stop offset="0.88450" stop-color="#b89a68"/><stop offset="0.90900" stop-color="#b89a68"/><stop offset="0.90900" stop-color="#e8e090"/><stop offset="0.93350" stop-color="#e8e090"/><stop offset="0.93350" stop-color="#ede895"/><stop offset="0.95800" stop-color="#ede895"/><stop offset="0.95800" stop-color="#aa8660"/><stop offset="0.98250" stop-color="#aa8660"/><stop offset="0.98250" stop-color="#e8dcda"/><stop offset="1.00000" stop-color="#e8dcda"/></linearGradient>
<rect x="83.1" y="234.6" width="14.1" height="160" fill="url(#hc22)"/>
<linearGradient id="hc23" gradientUnits="userSpaceOnUse" x1="0" y1="234.6" x2="0" y2="394.6"><stop offset="0.00000" stop-color="#926456"/><stop offset="0.02700" stop-color="#926456"/><stop offset="0.02700" stop-color="#946658"/><stop offset="0.05150" stop-color="#946658"/><stop offset="0.05150" stop-color="#946658"/><stop offset="0.07600" stop-color="#946658"/><stop offset="0.07600" stop-color="#946658"/><stop offset="0.10050" stop-color="#946658"/><stop offset="0.10050" stop-color="#926456"/><stop offset="0.12500" stop-color="#926456"/><stop offset="0.12500" stop-color="#906153"/><stop offset="0.14950" stop-color="#906153"/><stop offset="0.14950" stop-color="#906153"/><stop offset="0.17400" stop-color="#906153"/><stop offset="0.17400" stop-color="#906153"/><stop offset="0.19850" stop-color="#906153"/><stop offset="0.19850" stop-color="#906153"/><stop offset="0.22300" stop-color="#906153"/><stop offset="0.22300" stop-color="#906153"/><stop offset="0.24750" stop-color="#906153"/><stop offset="0.24750" stop-color="#956854"/><stop offset="0.27200" stop-color="#956854"/><stop offset="0.27200" stop-color="#9c7258"/><stop offset="0.29650" stop-color="#9c7258"/><stop offset="0.29650" stop-color="#a37c5c"/><stop offset="0.32100" stop-color="#a37c5c"/><stop offset="0.32100" stop-color="#aa8660"/><stop offset="0.34550" stop-color="#aa8660"/><stop offset="0.34550" stop-color="#b89a68"/><stop offset="0.37000" stop-color="#b89a68"/><stop offset="0.37000" stop-color="#c0a66f"/><stop offset="0.39450" stop-color="#c0a66f"/><stop offset="0.39450" stop-color="#c8b175"/><stop offset="0.41900" stop-color="#c8b175"/><stop offset="0.41900" stop-color="#d0bd7c"/><stop offset="0.44350" stop-color="#d0bd7c"/><stop offset="0.44350" stop-color="#d8c983"/><stop offset="0.46800" stop-color="#d8c983"/><stop offset="0.46800" stop-color="#e0d489"/><stop offset="0.49250" stop-color="#e0d489"/><stop offset="0.49250" stop-color="#e8e090"/><stop offset="0.51700" stop-color="#e8e090"/><stop offset="0.51700" stop-color="#f1f79f"/><stop offset="0.54150" stop-color="#f1f79f"/><stop offset="0.54150" stop-color="#e3f59d"/><stop offset="0.56600" stop-color="#e3f59d"/><stop offset="0.56600" stop-color="#c8f098"/><stop offset="0.59050" stop-color="#c8f098"/><stop offset="0.59050" stop-color="#9bea8b"/><stop offset="0.61500" stop-color="#9bea8b"/><stop offset="0.61500" stop-color="#6ee17d"/><stop offset="0.63950" stop-color="#6ee17d"/><stop offset="0.63950" stop-color="#3ad76b"/><stop offset="0.66400" stop-color="#3ad76b"/><stop offset="0.66400" stop-color="#29d366"/><stop offset="0.68850" stop-color="#29d366"/><stop offset="0.68850" stop-color="#4bda71"/><stop offset="0.71300" stop-color="#4bda71"/><stop offset="0.71300" stop-color="#6ee17d"/><stop offset="0.73750" stop-color="#6ee17d"/><stop offset="0.73750" stop-color="#7fe582"/><stop offset="0.76200" stop-color="#7fe582"/><stop offset="0.76200" stop-color="#4bda71"/><stop offset="0.78650" stop-color="#4bda71"/><stop offset="0.78650" stop-color="#4bda71"/><stop offset="0.81100" stop-color="#4bda71"/><stop offset="0.81100" stop-color="#6ee17d"/><stop offset="0.83550" stop-color="#6ee17d"/><stop offset="0.83550" stop-color="#e3f59d"/><stop offset="0.86000" stop-color="#e3f59d"/><stop offset="0.86000" stop-color="#b89a68"/><stop offset="0.88450" stop-color="#b89a68"/><stop offset="0.88450" stop-color="#8e5e50"/><stop offset="0.90900" stop-color="#8e5e50"/><stop offset="0.90900" stop-color="#f3f09b"/><stop offset="0.93350" stop-color="#f3f09b"/><stop offset="0.93350" stop-color="#e3f59d"/><stop offset="0.95800" stop-color="#e3f59d"/><stop offset="0.95800" stop-color="#c0a66f"/><stop offset="0.98250" stop-color="#c0a66f"/><stop offset="0.98250" stop-color="#ffffff"/><stop offset="1.00000" stop-color="#ffffff"/></linearGradient>
<rect x="96.2" y="234.6" width="14.1" height="160" fill="url(#hc23)"/>
<linearGradient id="hc24" gradientUnits="userSpaceOnUse" x1="0" y1="234.6" x2="0" y2="394.6"><stop offset="0.00000" stop-color="#926456"/><stop offset="0.02700" stop-color="#926456"/><stop offset="0.02700" stop-color="#906153"/><stop offset="0.05150" stop-color="#906153"/><stop offset="0.05150" stop-color="#906153"/><stop offset="0.07600" stop-color="#906153"/><stop offset="0.07600" stop-color="#906153"/><stop offset="0.10050" stop-color="#906153"/><stop offset="0.10050" stop-color="#906153"/><stop offset="0.12500" stop-color="#906153"/><stop offset="0.12500" stop-color="#906153"/><stop offset="0.14950" stop-color="#906153"/><stop offset="0.14950" stop-color="#906153"/><stop offset="0.17400" stop-color="#906153"/><stop offset="0.17400" stop-color="#906153"/><stop offset="0.19850" stop-color="#906153"/><stop offset="0.19850" stop-color="#906153"/><stop offset="0.22300" stop-color="#906153"/><stop offset="0.22300" stop-color="#906153"/><stop offset="0.24750" stop-color="#906153"/><stop offset="0.24750" stop-color="#926456"/><stop offset="0.27200" stop-color="#926456"/><stop offset="0.27200" stop-color="#8e5e50"/><stop offset="0.29650" stop-color="#8e5e50"/><stop offset="0.29650" stop-color="#956854"/><stop offset="0.32100" stop-color="#956854"/><stop offset="0.32100" stop-color="#9c7258"/><stop offset="0.34550" stop-color="#9c7258"/><stop offset="0.34550" stop-color="#9c7258"/><stop offset="0.37000" stop-color="#9c7258"/><stop offset="0.37000" stop-color="#a37c5c"/><stop offset="0.39450" stop-color="#a37c5c"/><stop offset="0.39450" stop-color="#aa8660"/><stop offset="0.41900" stop-color="#aa8660"/><stop offset="0.41900" stop-color="#b19064"/><stop offset="0.44350" stop-color="#b19064"/><stop offset="0.44350" stop-color="#c0a66f"/><stop offset="0.46800" stop-color="#c0a66f"/><stop offset="0.46800" stop-color="#d0bd7c"/><stop offset="0.49250" stop-color="#d0bd7c"/><stop offset="0.49250" stop-color="#ede895"/><stop offset="0.51700" stop-color="#ede895"/><stop offset="0.51700" stop-color="#f1f79f"/><stop offset="0.54150" stop-color="#f1f79f"/><stop offset="0.54150" stop-color="#e3f59d"/><stop offset="0.56600" stop-color="#e3f59d"/><stop offset="0.56600" stop-color="#c8f098"/><stop offset="0.59050" stop-color="#c8f098"/><stop offset="0.59050" stop-color="#b2ed92"/><stop offset="0.61500" stop-color="#b2ed92"/><stop offset="0.61500" stop-color="#9bea8b"/><stop offset="0.63950" stop-color="#9bea8b"/><stop offset="0.63950" stop-color="#90e888"/><stop offset="0.66400" stop-color="#90e888"/><stop offset="0.66400" stop-color="#7fe582"/><stop offset="0.68850" stop-color="#7fe582"/><stop offset="0.68850" stop-color="#7fe582"/><stop offset="0.71300" stop-color="#7fe582"/><stop offset="0.71300" stop-color="#7fe582"/><stop offset="0.73750" stop-color="#7fe582"/><stop offset="0.73750" stop-color="#6ee17d"/><stop offset="0.76200" stop-color="#6ee17d"/><stop offset="0.76200" stop-color="#6ee17d"/><stop offset="0.78650" stop-color="#6ee17d"/><stop offset="0.78650" stop-color="#7fe582"/><stop offset="0.81100" stop-color="#7fe582"/><stop offset="0.81100" stop-color="#b2ed92"/><stop offset="0.83550" stop-color="#b2ed92"/><stop offset="0.83550" stop-color="#f1f79f"/><stop offset="0.86000" stop-color="#f1f79f"/><stop offset="0.86000" stop-color="#8e5e50"/><stop offset="0.88450" stop-color="#8e5e50"/><stop offset="0.88450" stop-color="#906153"/><stop offset="0.90900" stop-color="#906153"/><stop offset="0.90900" stop-color="#e8e090"/><stop offset="0.93350" stop-color="#e8e090"/><stop offset="0.93350" stop-color="#d6f29a"/><stop offset="0.95800" stop-color="#d6f29a"/><stop offset="0.95800" stop-color="#e8e090"/><stop offset="0.98250" stop-color="#e8e090"/><stop offset="0.98250" stop-color="#e8dcda"/><stop offset="1.00000" stop-color="#e8dcda"/></linearGradient>
<rect x="109.3" y="234.6" width="13.2" height="160" fill="url(#hc24)"/>
<linearGradient id="hc25" gradientUnits="userSpaceOnUse" x1="0" y1="234.6" x2="0" y2="394.6"><stop offset="0.00000" stop-color="#96695b"/><stop offset="0.02700" stop-color="#96695b"/><stop offset="0.02700" stop-color="#96695b"/><stop offset="0.05150" stop-color="#96695b"/><stop offset="0.05150" stop-color="#946759"/><stop offset="0.07600" stop-color="#946759"/><stop offset="0.07600" stop-color="#946759"/><stop offset="0.10050" stop-color="#946759"/><stop offset="0.10050" stop-color="#96695b"/><stop offset="0.12500" stop-color="#96695b"/><stop offset="0.12500" stop-color="#946759"/><stop offset="0.14950" stop-color="#946759"/><stop offset="0.14950" stop-color="#926456"/><stop offset="0.17400" stop-color="#926456"/><stop offset="0.17400" stop-color="#906153"/><stop offset="0.19850" stop-color="#906153"/><stop offset="0.19850" stop-color="#8e5e50"/><stop offset="0.22300" stop-color="#8e5e50"/><stop offset="0.22300" stop-color="#8e5e50"/><stop offset="0.24750" stop-color="#8e5e50"/><stop offset="0.24750" stop-color="#956854"/><stop offset="0.27200" stop-color="#956854"/><stop offset="0.27200" stop-color="#9c7258"/><stop offset="0.29650" stop-color="#9c7258"/><stop offset="0.29650" stop-color="#a37c5c"/><stop offset="0.32100" stop-color="#a37c5c"/><stop offset="0.32100" stop-color="#aa8660"/><stop offset="0.34550" stop-color="#aa8660"/><stop offset="0.34550" stop-color="#b19064"/><stop offset="0.37000" stop-color="#b19064"/><stop offset="0.37000" stop-color="#b89a68"/><stop offset="0.39450" stop-color="#b89a68"/><stop offset="0.39450" stop-color="#b89a68"/><stop offset="0.41900" stop-color="#b89a68"/><stop offset="0.41900" stop-color="#c0a66f"/><stop offset="0.44350" stop-color="#c0a66f"/><stop offset="0.44350" stop-color="#c8b175"/><stop offset="0.46800" stop-color="#c8b175"/><stop offset="0.46800" stop-color="#d0bd7c"/><stop offset="0.49250" stop-color="#d0bd7c"/><stop offset="0.49250" stop-color="#e8e090"/><stop offset="0.51700" stop-color="#e8e090"/><stop offset="0.51700" stop-color="#f8f8a0"/><stop offset="0.54150" stop-color="#f8f8a0"/><stop offset="0.54150" stop-color="#d6f29a"/><stop offset="0.56600" stop-color="#d6f29a"/><stop offset="0.56600" stop-color="#a6eb8e"/><stop offset="0.59050" stop-color="#a6eb8e"/><stop offset="0.59050" stop-color="#6ee17d"/><stop offset="0.61500" stop-color="#6ee17d"/><stop offset="0.61500" stop-color="#3ad76b"/><stop offset="0.63950" stop-color="#3ad76b"/><stop offset="0.63950" stop-color="#29d366"/><stop offset="0.66400" stop-color="#29d366"/><stop offset="0.66400" stop-color="#29d366"/><stop offset="0.68850" stop-color="#29d366"/><stop offset="0.68850" stop-color="#29d366"/><stop offset="0.71300" stop-color="#29d366"/><stop offset="0.71300" stop-color="#3ad76b"/><stop offset="0.73750" stop-color="#3ad76b"/><stop offset="0.73750" stop-color="#3ad76b"/><stop offset="0.76200" stop-color="#3ad76b"/><stop offset="0.76200" stop-color="#5dde77"/><stop offset="0.78650" stop-color="#5dde77"/><stop offset="0.78650" stop-color="#a6eb8e"/><stop offset="0.81100" stop-color="#a6eb8e"/><stop offset="0.81100" stop-color="#f1f79f"/><stop offset="0.83550" stop-color="#f1f79f"/><stop offset="0.83550" stop-color="#d8c983"/><stop offset="0.86000" stop-color="#d8c983"/><stop offset="0.86000" stop-color="#9c7258"/><stop offset="0.88450" stop-color="#9c7258"/><stop offset="0.88450" stop-color="#9c7258"/><stop offset="0.90900" stop-color="#9c7258"/><stop offset="0.90900" stop-color="#e8e090"/><stop offset="0.93350" stop-color="#e8e090"/><stop offset="0.93350" stop-color="#f8f8a0"/><stop offset="0.95800" stop-color="#f8f8a0"/><stop offset="0.95800" stop-color="#c0a66f"/><stop offset="0.98250" stop-color="#c0a66f"/><stop offset="0.98250" stop-color="#efe7e6"/><stop offset="1.00000" stop-color="#efe7e6"/></linearGradient>
<rect x="186" y="234.6" width="19.8" height="160" fill="url(#hc25)"/>
<linearGradient id="hc26" gradientUnits="userSpaceOnUse" x1="0" y1="234.6" x2="0" y2="394.6"><stop offset="0.00000" stop-color="#906153"/><stop offset="0.02700" stop-color="#906153"/><stop offset="0.02700" stop-color="#906153"/><stop offset="0.05150" stop-color="#906153"/><stop offset="0.05150" stop-color="#906153"/><stop offset="0.07600" stop-color="#906153"/><stop offset="0.07600" stop-color="#906153"/><stop offset="0.10050" stop-color="#906153"/><stop offset="0.10050" stop-color="#906153"/><stop offset="0.12500" stop-color="#906153"/><stop offset="0.12500" stop-color="#906153"/><stop offset="0.14950" stop-color="#906153"/><stop offset="0.14950" stop-color="#906153"/><stop offset="0.17400" stop-color="#906153"/><stop offset="0.17400" stop-color="#906153"/><stop offset="0.19850" stop-color="#906153"/><stop offset="0.19850" stop-color="#906153"/><stop offset="0.22300" stop-color="#906153"/><stop offset="0.22300" stop-color="#906153"/><stop offset="0.24750" stop-color="#906153"/><stop offset="0.24750" stop-color="#906153"/><stop offset="0.27200" stop-color="#906153"/><stop offset="0.27200" stop-color="#8e5e50"/><stop offset="0.29650" stop-color="#8e5e50"/><stop offset="0.29650" stop-color="#956854"/><stop offset="0.32100" stop-color="#956854"/><stop offset="0.32100" stop-color="#a37c5c"/><stop offset="0.34550" stop-color="#a37c5c"/><stop offset="0.34550" stop-color="#b19064"/><stop offset="0.37000" stop-color="#b19064"/><stop offset="0.37000" stop-color="#c0a66f"/><stop offset="0.39450" stop-color="#c0a66f"/><stop offset="0.39450" stop-color="#c8b175"/><stop offset="0.41900" stop-color="#c8b175"/><stop offset="0.41900" stop-color="#d0bd7c"/><stop offset="0.44350" stop-color="#d0bd7c"/><stop offset="0.44350" stop-color="#d8c983"/><stop offset="0.46800" stop-color="#d8c983"/><stop offset="0.46800" stop-color="#e8e090"/><stop offset="0.49250" stop-color="#e8e090"/><stop offset="0.49250" stop-color="#f3f09b"/><stop offset="0.51700" stop-color="#f3f09b"/><stop offset="0.51700" stop-color="#f1f79f"/><stop offset="0.54150" stop-color="#f1f79f"/><stop offset="0.54150" stop-color="#c8f098"/><stop offset="0.56600" stop-color="#c8f098"/><stop offset="0.56600" stop-color="#a6eb8e"/><stop offset="0.59050" stop-color="#a6eb8e"/><stop offset="0.59050" stop-color="#7fe582"/><stop offset="0.61500" stop-color="#7fe582"/><stop offset="0.61500" stop-color="#5dde77"/><stop offset="0.63950" stop-color="#5dde77"/><stop offset="0.63950" stop-color="#3ad76b"/><stop offset="0.66400" stop-color="#3ad76b"/><stop offset="0.66400" stop-color="#3ad76b"/><stop offset="0.68850" stop-color="#3ad76b"/><stop offset="0.68850" stop-color="#5dde77"/><stop offset="0.71300" stop-color="#5dde77"/><stop offset="0.71300" stop-color="#7fe582"/><stop offset="0.73750" stop-color="#7fe582"/><stop offset="0.73750" stop-color="#9bea8b"/><stop offset="0.76200" stop-color="#9bea8b"/><stop offset="0.76200" stop-color="#a6eb8e"/><stop offset="0.78650" stop-color="#a6eb8e"/><stop offset="0.78650" stop-color="#c8f098"/><stop offset="0.81100" stop-color="#c8f098"/><stop offset="0.81100" stop-color="#e3f59d"/><stop offset="0.83550" stop-color="#e3f59d"/><stop offset="0.83550" stop-color="#d0bd7c"/><stop offset="0.86000" stop-color="#d0bd7c"/><stop offset="0.86000" stop-color="#906153"/><stop offset="0.88450" stop-color="#906153"/><stop offset="0.88450" stop-color="#906153"/><stop offset="0.90900" stop-color="#906153"/><stop offset="0.90900" stop-color="#d0bd7c"/><stop offset="0.93350" stop-color="#d0bd7c"/><stop offset="0.93350" stop-color="#ede895"/><stop offset="0.95800" stop-color="#ede895"/><stop offset="0.95800" stop-color="#9c7258"/><stop offset="0.98250" stop-color="#9c7258"/><stop offset="0.98250" stop-color="#ffffff"/><stop offset="1.00000" stop-color="#ffffff"/></linearGradient>
<rect x="204.8" y="234.6" width="19.9" height="160" fill="url(#hc26)"/>
<linearGradient id="hc27" gradientUnits="userSpaceOnUse" x1="0" y1="234.6" x2="0" y2="394.6"><stop offset="0.00000" stop-color="#926456"/><stop offset="0.02700" stop-color="#926456"/><stop offset="0.02700" stop-color="#8e5e50"/><stop offset="0.05150" stop-color="#8e5e50"/><stop offset="0.05150" stop-color="#8e5e50"/><stop offset="0.07600" stop-color="#8e5e50"/><stop offset="0.07600" stop-color="#956854"/><stop offset="0.10050" stop-color="#956854"/><stop offset="0.10050" stop-color="#996e56"/><stop offset="0.12500" stop-color="#996e56"/><stop offset="0.12500" stop-color="#8e5e50"/><stop offset="0.14950" stop-color="#8e5e50"/><stop offset="0.14950" stop-color="#8e5e50"/><stop offset="0.17400" stop-color="#8e5e50"/><stop offset="0.17400" stop-color="#8e5e50"/><stop offset="0.19850" stop-color="#8e5e50"/><stop offset="0.19850" stop-color="#8e5e50"/><stop offset="0.22300" stop-color="#8e5e50"/><stop offset="0.22300" stop-color="#956854"/><stop offset="0.24750" stop-color="#956854"/><stop offset="0.24750" stop-color="#8e5e50"/><stop offset="0.27200" stop-color="#8e5e50"/><stop offset="0.27200" stop-color="#956854"/><stop offset="0.29650" stop-color="#956854"/><stop offset="0.29650" stop-color="#9c7258"/><stop offset="0.32100" stop-color="#9c7258"/><stop offset="0.32100" stop-color="#a37c5c"/><stop offset="0.34550" stop-color="#a37c5c"/><stop offset="0.34550" stop-color="#a37c5c"/><stop offset="0.37000" stop-color="#a37c5c"/><stop offset="0.37000" stop-color="#aa8660"/><stop offset="0.39450" stop-color="#aa8660"/><stop offset="0.39450" stop-color="#b19064"/><stop offset="0.41900" stop-color="#b19064"/><stop offset="0.41900" stop-color="#c0a66f"/><stop offset="0.44350" stop-color="#c0a66f"/><stop offset="0.44350" stop-color="#c8b175"/><stop offset="0.46800" stop-color="#c8b175"/><stop offset="0.46800" stop-color="#d8c983"/><stop offset="0.49250" stop-color="#d8c983"/><stop offset="0.49250" stop-color="#e8e090"/><stop offset="0.51700" stop-color="#e8e090"/><stop offset="0.51700" stop-color="#e3f59d"/><stop offset="0.54150" stop-color="#e3f59d"/><stop offset="0.54150" stop-color="#bdee95"/><stop offset="0.56600" stop-color="#bdee95"/><stop offset="0.56600" stop-color="#90e888"/><stop offset="0.59050" stop-color="#90e888"/><stop offset="0.59050" stop-color="#5dde77"/><stop offset="0.61500" stop-color="#5dde77"/><stop offset="0.61500" stop-color="#3ad76b"/><stop offset="0.63950" stop-color="#3ad76b"/><stop offset="0.63950" stop-color="#18d060"/><stop offset="0.66400" stop-color="#18d060"/><stop offset="0.66400" stop-color="#18d060"/><stop offset="0.68850" stop-color="#18d060"/><stop offset="0.68850" stop-color="#29d366"/><stop offset="0.71300" stop-color="#29d366"/><stop offset="0.71300" stop-color="#5dde77"/><stop offset="0.73750" stop-color="#5dde77"/><stop offset="0.73750" stop-color="#90e888"/><stop offset="0.76200" stop-color="#90e888"/><stop offset="0.76200" stop-color="#4bda71"/><stop offset="0.78650" stop-color="#4bda71"/><stop offset="0.78650" stop-color="#90e888"/><stop offset="0.81100" stop-color="#90e888"/><stop offset="0.81100" stop-color="#b2ed92"/><stop offset="0.83550" stop-color="#b2ed92"/><stop offset="0.83550" stop-color="#d0bd7c"/><stop offset="0.86000" stop-color="#d0bd7c"/><stop offset="0.86000" stop-color="#96695b"/><stop offset="0.88450" stop-color="#96695b"/><stop offset="0.88450" stop-color="#96695b"/><stop offset="0.90900" stop-color="#96695b"/><stop offset="0.90900" stop-color="#b89a68"/><stop offset="0.93350" stop-color="#b89a68"/><stop offset="0.93350" stop-color="#d8c983"/><stop offset="0.95800" stop-color="#d8c983"/><stop offset="0.95800" stop-color="#d8c983"/><stop offset="0.98250" stop-color="#d8c983"/><stop offset="0.98250" stop-color="#bca39b"/><stop offset="1.00000" stop-color="#bca39b"/></linearGradient>
<rect x="223.7" y="234.6" width="19.2" height="160" fill="url(#hc27)"/>
<linearGradient id="hc28" gradientUnits="userSpaceOnUse" x1="0" y1="234.6" x2="0" y2="394.6"><stop offset="0.00000" stop-color="#a37c5c"/><stop offset="0.02700" stop-color="#a37c5c"/><stop offset="0.02700" stop-color="#aa8660"/><stop offset="0.05150" stop-color="#aa8660"/><stop offset="0.05150" stop-color="#aa8660"/><stop offset="0.07600" stop-color="#aa8660"/><stop offset="0.07600" stop-color="#a7825e"/><stop offset="0.10050" stop-color="#a7825e"/><stop offset="0.10050" stop-color="#8e5e50"/><stop offset="0.12500" stop-color="#8e5e50"/><stop offset="0.12500" stop-color="#956854"/><stop offset="0.14950" stop-color="#956854"/><stop offset="0.14950" stop-color="#9c7258"/><stop offset="0.17400" stop-color="#9c7258"/><stop offset="0.17400" stop-color="#9c7258"/><stop offset="0.19850" stop-color="#9c7258"/><stop offset="0.19850" stop-color="#a37c5c"/><stop offset="0.22300" stop-color="#a37c5c"/><stop offset="0.22300" stop-color="#a37c5c"/><stop offset="0.24750" stop-color="#a37c5c"/><stop offset="0.24750" stop-color="#956854"/><stop offset="0.27200" stop-color="#956854"/><stop offset="0.27200" stop-color="#9c7258"/><stop offset="0.29650" stop-color="#9c7258"/><stop offset="0.29650" stop-color="#a37c5c"/><stop offset="0.32100" stop-color="#a37c5c"/><stop offset="0.32100" stop-color="#aa8660"/><stop offset="0.34550" stop-color="#aa8660"/><stop offset="0.34550" stop-color="#b19064"/><stop offset="0.37000" stop-color="#b19064"/><stop offset="0.37000" stop-color="#c0a66f"/><stop offset="0.39450" stop-color="#c0a66f"/><stop offset="0.39450" stop-color="#d0bd7c"/><stop offset="0.41900" stop-color="#d0bd7c"/><stop offset="0.41900" stop-color="#e0d489"/><stop offset="0.44350" stop-color="#e0d489"/><stop offset="0.44350" stop-color="#ede895"/><stop offset="0.46800" stop-color="#ede895"/><stop offset="0.46800" stop-color="#f3f09b"/><stop offset="0.49250" stop-color="#f3f09b"/><stop offset="0.49250" stop-color="#f8f8a0"/><stop offset="0.51700" stop-color="#f8f8a0"/><stop offset="0.51700" stop-color="#f1f79f"/><stop offset="0.54150" stop-color="#f1f79f"/><stop offset="0.54150" stop-color="#c8f098"/><stop offset="0.56600" stop-color="#c8f098"/><stop offset="0.56600" stop-color="#90e888"/><stop offset="0.59050" stop-color="#90e888"/><stop offset="0.59050" stop-color="#6ee17d"/><stop offset="0.61500" stop-color="#6ee17d"/><stop offset="0.61500" stop-color="#4bda71"/><stop offset="0.63950" stop-color="#4bda71"/><stop offset="0.63950" stop-color="#3ad76b"/><stop offset="0.66400" stop-color="#3ad76b"/><stop offset="0.66400" stop-color="#3ad76b"/><stop offset="0.68850" stop-color="#3ad76b"/><stop offset="0.68850" stop-color="#4bda71"/><stop offset="0.71300" stop-color="#4bda71"/><stop offset="0.71300" stop-color="#7fe582"/><stop offset="0.73750" stop-color="#7fe582"/><stop offset="0.73750" stop-color="#9bea8b"/><stop offset="0.76200" stop-color="#9bea8b"/><stop offset="0.76200" stop-color="#c8f098"/><stop offset="0.78650" stop-color="#c8f098"/><stop offset="0.78650" stop-color="#f1f79f"/><stop offset="0.81100" stop-color="#f1f79f"/><stop offset="0.81100" stop-color="#f8f8a0"/><stop offset="0.83550" stop-color="#f8f8a0"/><stop offset="0.83550" stop-color="#d0bd7c"/><stop offset="0.86000" stop-color="#d0bd7c"/><stop offset="0.86000" stop-color="#aa8660"/><stop offset="0.88450" stop-color="#aa8660"/><stop offset="0.88450" stop-color="#aa8660"/><stop offset="0.90900" stop-color="#aa8660"/><stop offset="0.90900" stop-color="#d8c983"/><stop offset="0.93350" stop-color="#d8c983"/><stop offset="0.93350" stop-color="#e8e090"/><stop offset="0.95800" stop-color="#e8e090"/><stop offset="0.95800" stop-color="#b89a68"/><stop offset="0.98250" stop-color="#b89a68"/><stop offset="0.98250" stop-color="#bca39b"/><stop offset="1.00000" stop-color="#bca39b"/></linearGradient>
<rect x="241.9" y="234.6" width="18.1" height="160" fill="url(#hc28)"/>
<linearGradient id="hc29" gradientUnits="userSpaceOnUse" x1="0" y1="234.6" x2="0" y2="394.6"><stop offset="0.00000" stop-color="#9c7258"/><stop offset="0.02700" stop-color="#9c7258"/><stop offset="0.02700" stop-color="#956854"/><stop offset="0.05150" stop-color="#956854"/><stop offset="0.05150" stop-color="#9c7258"/><stop offset="0.07600" stop-color="#9c7258"/><stop offset="0.07600" stop-color="#956854"/><stop offset="0.10050" stop-color="#956854"/><stop offset="0.10050" stop-color="#956854"/><stop offset="0.12500" stop-color="#956854"/><stop offset="0.12500" stop-color="#956854"/><stop offset="0.14950" stop-color="#956854"/><stop offset="0.14950" stop-color="#9c7258"/><stop offset="0.17400" stop-color="#9c7258"/><stop offset="0.17400" stop-color="#9c7258"/><stop offset="0.19850" stop-color="#9c7258"/><stop offset="0.19850" stop-color="#a37c5c"/><stop offset="0.22300" stop-color="#a37c5c"/><stop offset="0.22300" stop-color="#a37c5c"/><stop offset="0.24750" stop-color="#a37c5c"/><stop offset="0.24750" stop-color="#aa8660"/><stop offset="0.27200" stop-color="#aa8660"/><stop offset="0.27200" stop-color="#aa8660"/><stop offset="0.29650" stop-color="#aa8660"/><stop offset="0.29650" stop-color="#aa8660"/><stop offset="0.32100" stop-color="#aa8660"/><stop offset="0.32100" stop-color="#aa8660"/><stop offset="0.34550" stop-color="#aa8660"/><stop offset="0.34550" stop-color="#b19064"/><stop offset="0.37000" stop-color="#b19064"/><stop offset="0.37000" stop-color="#b89a68"/><stop offset="0.39450" stop-color="#b89a68"/><stop offset="0.39450" stop-color="#c8b175"/><stop offset="0.41900" stop-color="#c8b175"/><stop offset="0.41900" stop-color="#d8c983"/><stop offset="0.44350" stop-color="#d8c983"/><stop offset="0.44350" stop-color="#e8e090"/><stop offset="0.46800" stop-color="#e8e090"/><stop offset="0.46800" stop-color="#ede895"/><stop offset="0.49250" stop-color="#ede895"/><stop offset="0.49250" stop-color="#f1f79f"/><stop offset="0.51700" stop-color="#f1f79f"/><stop offset="0.51700" stop-color="#ddf39b"/><stop offset="0.54150" stop-color="#ddf39b"/><stop offset="0.54150" stop-color="#cff199"/><stop offset="0.56600" stop-color="#cff199"/><stop offset="0.56600" stop-color="#a6eb8e"/><stop offset="0.59050" stop-color="#a6eb8e"/><stop offset="0.59050" stop-color="#90e888"/><stop offset="0.61500" stop-color="#90e888"/><stop offset="0.61500" stop-color="#7fe582"/><stop offset="0.63950" stop-color="#7fe582"/><stop offset="0.63950" stop-color="#7fe582"/><stop offset="0.66400" stop-color="#7fe582"/><stop offset="0.66400" stop-color="#7fe582"/><stop offset="0.68850" stop-color="#7fe582"/><stop offset="0.68850" stop-color="#9bea8b"/><stop offset="0.71300" stop-color="#9bea8b"/><stop offset="0.71300" stop-color="#c8f098"/><stop offset="0.73750" stop-color="#c8f098"/><stop offset="0.73750" stop-color="#d6f29a"/><stop offset="0.76200" stop-color="#d6f29a"/><stop offset="0.76200" stop-color="#c8f098"/><stop offset="0.78650" stop-color="#c8f098"/><stop offset="0.78650" stop-color="#d6f29a"/><stop offset="0.81100" stop-color="#d6f29a"/><stop offset="0.81100" stop-color="#f1f79f"/><stop offset="0.83550" stop-color="#f1f79f"/><stop offset="0.83550" stop-color="#d8c983"/><stop offset="0.86000" stop-color="#d8c983"/><stop offset="0.86000" stop-color="#96695b"/><stop offset="0.88450" stop-color="#96695b"/><stop offset="0.88450" stop-color="#8e5e50"/><stop offset="0.90900" stop-color="#8e5e50"/><stop offset="0.90900" stop-color="#e8e090"/><stop offset="0.93350" stop-color="#e8e090"/><stop offset="0.93350" stop-color="#ede895"/><stop offset="0.95800" stop-color="#ede895"/><stop offset="0.95800" stop-color="#d8c983"/><stop offset="0.98250" stop-color="#d8c983"/><stop offset="0.98250" stop-color="#cdb8b2"/><stop offset="1.00000" stop-color="#cdb8b2"/></linearGradient>
<rect x="259" y="234.6" width="15.3" height="160" fill="url(#hc29)"/>
<linearGradient id="hc30" gradientUnits="userSpaceOnUse" x1="0" y1="234.6" x2="0" y2="394.6"><stop offset="0.00000" stop-color="#a37c5c"/><stop offset="0.02700" stop-color="#a37c5c"/><stop offset="0.02700" stop-color="#aa8660"/><stop offset="0.05150" stop-color="#aa8660"/><stop offset="0.05150" stop-color="#aa8660"/><stop offset="0.07600" stop-color="#aa8660"/><stop offset="0.07600" stop-color="#b19064"/><stop offset="0.10050" stop-color="#b19064"/><stop offset="0.10050" stop-color="#b19064"/><stop offset="0.12500" stop-color="#b19064"/><stop offset="0.12500" stop-color="#aa8660"/><stop offset="0.14950" stop-color="#aa8660"/><stop offset="0.14950" stop-color="#aa8660"/><stop offset="0.17400" stop-color="#aa8660"/><stop offset="0.17400" stop-color="#a37c5c"/><stop offset="0.19850" stop-color="#a37c5c"/><stop offset="0.19850" stop-color="#a37c5c"/><stop offset="0.22300" stop-color="#a37c5c"/><stop offset="0.22300" stop-color="#aa8660"/><stop offset="0.24750" stop-color="#aa8660"/><stop offset="0.24750" stop-color="#b19064"/><stop offset="0.27200" stop-color="#b19064"/><stop offset="0.27200" stop-color="#b19064"/><stop offset="0.29650" stop-color="#b19064"/><stop offset="0.29650" stop-color="#b89a68"/><stop offset="0.32100" stop-color="#b89a68"/><stop offset="0.32100" stop-color="#c0a66f"/><stop offset="0.34550" stop-color="#c0a66f"/><stop offset="0.34550" stop-color="#c8b175"/><stop offset="0.37000" stop-color="#c8b175"/><stop offset="0.37000" stop-color="#d0bd7c"/><stop offset="0.39450" stop-color="#d0bd7c"/><stop offset="0.39450" stop-color="#d8c983"/><stop offset="0.41900" stop-color="#d8c983"/><stop offset="0.41900" stop-color="#e0d489"/><stop offset="0.44350" stop-color="#e0d489"/><stop offset="0.44350" stop-color="#ede895"/><stop offset="0.46800" stop-color="#ede895"/><stop offset="0.46800" stop-color="#f3f09b"/><stop offset="0.49250" stop-color="#f3f09b"/><stop offset="0.49250" stop-color="#f8f8a0"/><stop offset="0.51700" stop-color="#f8f8a0"/><stop offset="0.51700" stop-color="#ddf39b"/><stop offset="0.54150" stop-color="#ddf39b"/><stop offset="0.54150" stop-color="#c8f098"/><stop offset="0.56600" stop-color="#c8f098"/><stop offset="0.56600" stop-color="#a6eb8e"/><stop offset="0.59050" stop-color="#a6eb8e"/><stop offset="0.59050" stop-color="#9bea8b"/><stop offset="0.61500" stop-color="#9bea8b"/><stop offset="0.61500" stop-color="#90e888"/><stop offset="0.63950" stop-color="#90e888"/><stop offset="0.63950" stop-color="#90e888"/><stop offset="0.66400" stop-color="#90e888"/><stop offset="0.66400" stop-color="#9bea8b"/><stop offset="0.68850" stop-color="#9bea8b"/><stop offset="0.68850" stop-color="#b2ed92"/><stop offset="0.71300" stop-color="#b2ed92"/><stop offset="0.71300" stop-color="#f1f79f"/><stop offset="0.73750" stop-color="#f1f79f"/><stop offset="0.73750" stop-color="#ede895"/><stop offset="0.76200" stop-color="#ede895"/><stop offset="0.76200" stop-color="#f1f79f"/><stop offset="0.78650" stop-color="#f1f79f"/><stop offset="0.78650" stop-color="#f8f8a0"/><stop offset="0.81100" stop-color="#f8f8a0"/><stop offset="0.81100" stop-color="#f8f8a0"/><stop offset="0.83550" stop-color="#f8f8a0"/><stop offset="0.83550" stop-color="#d8c983"/><stop offset="0.86000" stop-color="#d8c983"/><stop offset="0.86000" stop-color="#8e5e50"/><stop offset="0.88450" stop-color="#8e5e50"/><stop offset="0.88450" stop-color="#9c7258"/><stop offset="0.90900" stop-color="#9c7258"/><stop offset="0.90900" stop-color="#d8c983"/><stop offset="0.93350" stop-color="#d8c983"/><stop offset="0.93350" stop-color="#e0d489"/><stop offset="0.95800" stop-color="#e0d489"/><stop offset="0.95800" stop-color="#b89a68"/><stop offset="0.98250" stop-color="#b89a68"/><stop offset="0.98250" stop-color="#cdb8b2"/><stop offset="1.00000" stop-color="#cdb8b2"/></linearGradient>
<rect x="273.3" y="234.6" width="13.9" height="160" fill="url(#hc30)"/>
<linearGradient id="hc31" gradientUnits="userSpaceOnUse" x1="0" y1="234.6" x2="0" y2="394.6"><stop offset="0.00000" stop-color="#956854"/><stop offset="0.02700" stop-color="#956854"/><stop offset="0.02700" stop-color="#8e5e50"/><stop offset="0.05150" stop-color="#8e5e50"/><stop offset="0.05150" stop-color="#906052"/><stop offset="0.07600" stop-color="#906052"/><stop offset="0.07600" stop-color="#906052"/><stop offset="0.10050" stop-color="#906052"/><stop offset="0.10050" stop-color="#8e5e50"/><stop offset="0.12500" stop-color="#8e5e50"/><stop offset="0.12500" stop-color="#956854"/><stop offset="0.14950" stop-color="#956854"/><stop offset="0.14950" stop-color="#a37c5c"/><stop offset="0.17400" stop-color="#a37c5c"/><stop offset="0.17400" stop-color="#aa8660"/><stop offset="0.19850" stop-color="#aa8660"/><stop offset="0.19850" stop-color="#b19064"/><stop offset="0.22300" stop-color="#b19064"/><stop offset="0.22300" stop-color="#b19064"/><stop offset="0.24750" stop-color="#b19064"/><stop offset="0.24750" stop-color="#b19064"/><stop offset="0.27200" stop-color="#b19064"/><stop offset="0.27200" stop-color="#b19064"/><stop offset="0.29650" stop-color="#b19064"/><stop offset="0.29650" stop-color="#aa8660"/><stop offset="0.32100" stop-color="#aa8660"/><stop offset="0.32100" stop-color="#aa8660"/><stop offset="0.34550" stop-color="#aa8660"/><stop offset="0.34550" stop-color="#aa8660"/><stop offset="0.37000" stop-color="#aa8660"/><stop offset="0.37000" stop-color="#b19064"/><stop offset="0.39450" stop-color="#b19064"/><stop offset="0.39450" stop-color="#b89a68"/><stop offset="0.41900" stop-color="#b89a68"/><stop offset="0.41900" stop-color="#c0a66f"/><stop offset="0.44350" stop-color="#c0a66f"/><stop offset="0.44350" stop-color="#c8b175"/><stop offset="0.46800" stop-color="#c8b175"/><stop offset="0.46800" stop-color="#d0bd7c"/><stop offset="0.49250" stop-color="#d0bd7c"/><stop offset="0.49250" stop-color="#f1f79f"/><stop offset="0.51700" stop-color="#f1f79f"/><stop offset="0.51700" stop-color="#ddf39b"/><stop offset="0.54150" stop-color="#ddf39b"/><stop offset="0.54150" stop-color="#c8f098"/><stop offset="0.56600" stop-color="#c8f098"/><stop offset="0.56600" stop-color="#90e888"/><stop offset="0.59050" stop-color="#90e888"/><stop offset="0.59050" stop-color="#7fe582"/><stop offset="0.61500" stop-color="#7fe582"/><stop offset="0.61500" stop-color="#7fe582"/><stop offset="0.63950" stop-color="#7fe582"/><stop offset="0.63950" stop-color="#6ee17d"/><stop offset="0.66400" stop-color="#6ee17d"/><stop offset="0.66400" stop-color="#7fe582"/><stop offset="0.68850" stop-color="#7fe582"/><stop offset="0.68850" stop-color="#9bea8b"/><stop offset="0.71300" stop-color="#9bea8b"/><stop offset="0.71300" stop-color="#c8f098"/><stop offset="0.73750" stop-color="#c8f098"/><stop offset="0.73750" stop-color="#ddf39b"/><stop offset="0.76200" stop-color="#ddf39b"/><stop offset="0.76200" stop-color="#bdee95"/><stop offset="0.78650" stop-color="#bdee95"/><stop offset="0.78650" stop-color="#d6f29a"/><stop offset="0.81100" stop-color="#d6f29a"/><stop offset="0.81100" stop-color="#f1f79f"/><stop offset="0.83550" stop-color="#f1f79f"/><stop offset="0.83550" stop-color="#c0a66f"/><stop offset="0.86000" stop-color="#c0a66f"/><stop offset="0.86000" stop-color="#96695b"/><stop offset="0.88450" stop-color="#96695b"/><stop offset="0.88450" stop-color="#926456"/><stop offset="0.90900" stop-color="#926456"/><stop offset="0.90900" stop-color="#b89a68"/><stop offset="0.93350" stop-color="#b89a68"/><stop offset="0.93350" stop-color="#e0d489"/><stop offset="0.95800" stop-color="#e0d489"/><stop offset="0.95800" stop-color="#b89a68"/><stop offset="0.98250" stop-color="#b89a68"/><stop offset="0.98250" stop-color="#dfd0cd"/><stop offset="1.00000" stop-color="#dfd0cd"/></linearGradient>
<rect x="286.2" y="234.6" width="12.1" height="160" fill="url(#hc31)"/>
<linearGradient id="hc32" gradientUnits="userSpaceOnUse" x1="0" y1="234.6" x2="0" y2="394.6"><stop offset="0.00000" stop-color="#b19064"/><stop offset="0.02700" stop-color="#b19064"/><stop offset="0.02700" stop-color="#aa8660"/><stop offset="0.05150" stop-color="#aa8660"/><stop offset="0.05150" stop-color="#a37c5c"/><stop offset="0.07600" stop-color="#a37c5c"/><stop offset="0.07600" stop-color="#9c7258"/><stop offset="0.10050" stop-color="#9c7258"/><stop offset="0.10050" stop-color="#9c7258"/><stop offset="0.12500" stop-color="#9c7258"/><stop offset="0.12500" stop-color="#9c7258"/><stop offset="0.14950" stop-color="#9c7258"/><stop offset="0.14950" stop-color="#9c7258"/><stop offset="0.17400" stop-color="#9c7258"/><stop offset="0.17400" stop-color="#a37c5c"/><stop offset="0.19850" stop-color="#a37c5c"/><stop offset="0.19850" stop-color="#a37c5c"/><stop offset="0.22300" stop-color="#a37c5c"/><stop offset="0.22300" stop-color="#a37c5c"/><stop offset="0.24750" stop-color="#a37c5c"/><stop offset="0.24750" stop-color="#a37c5c"/><stop offset="0.27200" stop-color="#a37c5c"/><stop offset="0.27200" stop-color="#aa8660"/><stop offset="0.29650" stop-color="#aa8660"/><stop offset="0.29650" stop-color="#b19064"/><stop offset="0.32100" stop-color="#b19064"/><stop offset="0.32100" stop-color="#b89a68"/><stop offset="0.34550" stop-color="#b89a68"/><stop offset="0.34550" stop-color="#c0a66f"/><stop offset="0.37000" stop-color="#c0a66f"/><stop offset="0.37000" stop-color="#c8b175"/><stop offset="0.39450" stop-color="#c8b175"/><stop offset="0.39450" stop-color="#d0bd7c"/><stop offset="0.41900" stop-color="#d0bd7c"/><stop offset="0.41900" stop-color="#d8c983"/><stop offset="0.44350" stop-color="#d8c983"/><stop offset="0.44350" stop-color="#e0d489"/><stop offset="0.46800" stop-color="#e0d489"/><stop offset="0.46800" stop-color="#e8e090"/><stop offset="0.49250" stop-color="#e8e090"/><stop offset="0.49250" stop-color="#f1f79f"/><stop offset="0.51700" stop-color="#f1f79f"/><stop offset="0.51700" stop-color="#f8f8a0"/><stop offset="0.54150" stop-color="#f8f8a0"/><stop offset="0.54150" stop-color="#e3f59d"/><stop offset="0.56600" stop-color="#e3f59d"/><stop offset="0.56600" stop-color="#c8f098"/><stop offset="0.59050" stop-color="#c8f098"/><stop offset="0.59050" stop-color="#a6eb8e"/><stop offset="0.61500" stop-color="#a6eb8e"/><stop offset="0.61500" stop-color="#9bea8b"/><stop offset="0.63950" stop-color="#9bea8b"/><stop offset="0.63950" stop-color="#9bea8b"/><stop offset="0.66400" stop-color="#9bea8b"/><stop offset="0.66400" stop-color="#a6eb8e"/><stop offset="0.68850" stop-color="#a6eb8e"/><stop offset="0.68850" stop-color="#cff199"/><stop offset="0.71300" stop-color="#cff199"/><stop offset="0.71300" stop-color="#f1f79f"/><stop offset="0.73750" stop-color="#f1f79f"/><stop offset="0.73750" stop-color="#e8e090"/><stop offset="0.76200" stop-color="#e8e090"/><stop offset="0.76200" stop-color="#e8e090"/><stop offset="0.78650" stop-color="#e8e090"/><stop offset="0.78650" stop-color="#e8e090"/><stop offset="0.81100" stop-color="#e8e090"/><stop offset="0.81100" stop-color="#e0d489"/><stop offset="0.83550" stop-color="#e0d489"/><stop offset="0.83550" stop-color="#b89a68"/><stop offset="0.86000" stop-color="#b89a68"/><stop offset="0.86000" stop-color="#906153"/><stop offset="0.88450" stop-color="#906153"/><stop offset="0.88450" stop-color="#926456"/><stop offset="0.90900" stop-color="#926456"/><stop offset="0.90900" stop-color="#c0a66f"/><stop offset="0.93350" stop-color="#c0a66f"/><stop offset="0.93350" stop-color="#e8e090"/><stop offset="0.95800" stop-color="#e8e090"/><stop offset="0.95800" stop-color="#b19064"/><stop offset="0.98250" stop-color="#b19064"/><stop offset="0.98250" stop-color="#efe7e6"/><stop offset="1.00000" stop-color="#efe7e6"/></linearGradient>
<rect x="297.3" y="234.6" width="10.7" height="160" fill="url(#hc32)"/>
<rect x="37.6" y="234" width="276.3" height="160.6" fill="none" stroke="#1a1a1a" stroke-width="1.25"/>
<text x="34.3" y="399" text-anchor="end" font-size="10" >0</text>
<line x1="37.6" y1="354.45" x2="41.6" y2="354.45" stroke="#1a1a1a" stroke-width="1.1"/>
<text x="34.3" y="358.85" text-anchor="end" font-size="10" >100</text>
<line x1="37.6" y1="314.3" x2="41.6" y2="314.3" stroke="#1a1a1a" stroke-width="1.1"/>
<text x="34.3" y="318.7" text-anchor="end" font-size="10" >200</text>
<line x1="37.6" y1="274.15" x2="41.6" y2="274.15" stroke="#1a1a1a" stroke-width="1.1"/>
<text x="34.3" y="278.55" text-anchor="end" font-size="10" >300</text>
<text x="34.3" y="238.4" text-anchor="end" font-size="10" >400</text>
<line x1="50.35" y1="394.6" x2="50.35" y2="390.4" stroke="#1a1a1a" stroke-width="1.1"/>
<text x="50.35" y="406.2" text-anchor="middle" font-size="10" >0.3</text>
<line x1="83.4" y1="394.6" x2="83.4" y2="390.4" stroke="#1a1a1a" stroke-width="1.1"/>
<text x="83.4" y="406.2" text-anchor="middle" font-size="10" >0.2</text>
<line x1="116.45" y1="394.6" x2="116.45" y2="390.4" stroke="#1a1a1a" stroke-width="1.1"/>
<text x="116.45" y="406.2" text-anchor="middle" font-size="10" >0.1</text>
<line x1="149.5" y1="394.6" x2="149.5" y2="390.4" stroke="#1a1a1a" stroke-width="1.1"/>
<text x="149.5" y="406.2" text-anchor="middle" font-size="10" >0</text>
<line x1="182.55" y1="394.6" x2="182.55" y2="390.4" stroke="#1a1a1a" stroke-width="1.1"/>
<text x="182.55" y="406.2" text-anchor="middle" font-size="10" >0.1</text>
<line x1="215.6" y1="394.6" x2="215.6" y2="390.4" stroke="#1a1a1a" stroke-width="1.1"/>
<text x="215.6" y="406.2" text-anchor="middle" font-size="10" >0.2</text>
<line x1="248.65" y1="394.6" x2="248.65" y2="390.4" stroke="#1a1a1a" stroke-width="1.1"/>
<text x="248.65" y="406.2" text-anchor="middle" font-size="10" >0.3</text>
<line x1="281.7" y1="394.6" x2="281.7" y2="390.4" stroke="#1a1a1a" stroke-width="1.1"/>
<text x="281.7" y="406.2" text-anchor="middle" font-size="10" >0.4</text>
<text x="314.75" y="406.2" text-anchor="middle" font-size="10" >0.5</text>
<text x="57.6" y="416.5" font-size="10" textLength="71" lengthAdjust="spacingAndGlyphs" >q<tspan font-size="7.5" dy="2.4" font-style="italic">//</tspan><tspan dy="-2.4">=(</tspan><tspan font-style="italic">h</tspan>, <tspan font-style="italic">h</tspan>) (<tspan font-style="italic">r.l.u.</tspan>)</text>
<text x="203.6" y="416.5" font-size="10" textLength="71" lengthAdjust="spacingAndGlyphs" >q<tspan font-size="7.5" dy="2.4" font-style="italic">//</tspan><tspan dy="-2.4">=(</tspan><tspan font-style="italic">h</tspan>, 0) (<tspan font-style="italic">r.l.u.</tspan>)</text>
<text transform="translate(9.6,311) rotate(-90)" text-anchor="middle" font-size="9.7" >Energy loss (meV)</text>
<text x="99.3" y="225.8" text-anchor="middle" font-size="10" >PrNiO<tspan font-size="7" dy="2.3">2</tspan><tspan dy="-2.3">/LSAT (</tspan><tspan font-style="italic">h</tspan>, <tspan font-style="italic">h</tspan>)</text>
<text x="259.2" y="225.8" text-anchor="middle" font-size="10" >PrNiO<tspan font-size="7" dy="2.3">2</tspan><tspan dy="-2.3">/LSAT (</tspan><tspan font-style="italic">h</tspan>, 0)</text>
<line x1="136.6" y1="254.8" x2="173.2" y2="290.6" stroke="#8c8c8c" stroke-width="0.6"/>
<line x1="136.6" y1="290.6" x2="173.2" y2="254.8" stroke="#8c8c8c" stroke-width="0.6"/>
<rect x="136.6" y="254.8" width="36.6" height="35.8" fill="none" stroke="#4d4d4d" stroke-width="1.1"/>
<line x1="136.6" y1="290.6" x2="160.6" y2="267.12" stroke="#4a86c6" stroke-width="1.5"/>
<line x1="136.6" y1="290.6" x2="173.2" y2="290.6" stroke="#4a86c6" stroke-width="1.5"/>
<text x="169.8" y="250.2" text-anchor="middle" font-size="7.4" >(0.5, 0.5)</text>
<text x="138.0" y="300.6" text-anchor="middle" font-size="7.4" >(0, 0)</text>
<text x="170.3" y="300.6" text-anchor="middle" font-size="7.4" >(0.5, 0)</text>
<defs><linearGradient id="cbb" x1="0" x2="1" y1="0" y2="0"><stop offset="0.0000" stop-color="#8a6050"/><stop offset="0.1629" stop-color="#b89870"/><stop offset="0.2932" stop-color="#e0d08a"/><stop offset="0.3909" stop-color="#f8f898"/><stop offset="0.5212" stop-color="#d0f0a0"/><stop offset="0.6840" stop-color="#90e088"/><stop offset="0.8143" stop-color="#40d070"/><stop offset="0.9283" stop-color="#10d060"/><stop offset="0.9772" stop-color="#10a0e0"/></linearGradient></defs>
<rect x="131.3" y="370.0" width="46.5" height="10.4" fill="url(#cbb)" stroke="#1a1a1a" stroke-width="0.9"/>
<line x1="132.3" y1="370.0" x2="132.3" y2="366.6" stroke="#1a1a1a" stroke-width="0.8"/>
<line x1="139.72" y1="370.0" x2="139.72" y2="368" stroke="#1a1a1a" stroke-width="0.8"/>
<line x1="147.14" y1="370.0" x2="147.14" y2="368" stroke="#1a1a1a" stroke-width="0.8"/>
<line x1="154.56" y1="370.0" x2="154.56" y2="368" stroke="#1a1a1a" stroke-width="0.8"/>
<line x1="161.98" y1="370.0" x2="161.98" y2="368" stroke="#1a1a1a" stroke-width="0.8"/>
<line x1="169.4" y1="370.0" x2="169.4" y2="366.6" stroke="#1a1a1a" stroke-width="0.8"/>
<text x="132.3" y="362.7" text-anchor="middle" font-size="8.6" >0</text>
<text x="169.4" y="362.7" text-anchor="middle" font-size="8.6" >0.25</text>
<defs><clipPath id="clipc"><rect x="359.3" y="17.0" width="151" height="188.8"/></clipPath>
<linearGradient id="gelc" gradientUnits="userSpaceOnUse" x1="0" x2="0" y1="29.4" y2="205.6"><stop offset="0" stop-color="#8dcfc7"/><stop offset="1" stop-color="#ffffff"/></linearGradient>
<linearGradient id="gphc" gradientUnits="userSpaceOnUse" x1="0" x2="0" y1="187.95" y2="205.6"><stop offset="0" stop-color="#ee887a"/><stop offset="1" stop-color="#fdf3f1"/></linearGradient>
<linearGradient id="gmgc" gradientUnits="userSpaceOnUse" x1="0" x2="0" y1="170.67" y2="205.6"><stop offset="0" stop-color="#a671cf"/><stop offset="1" stop-color="#faf6fc"/></linearGradient>
<linearGradient id="gbgc" gradientUnits="userSpaceOnUse" x1="0" x2="0" y1="201.6" y2="205.6"><stop offset="0" stop-color="#777"/><stop offset="1" stop-color="#eee"/></linearGradient>
</defs>
<g clip-path="url(#clipc)">
<path d="M354.8,205.6 L355.05,205.6 L355.3,205.6 L355.55,205.6 L355.8,205.6 L356.05,205.6 L356.3,205.6 L356.55,205.6 L356.8,205.6 L357.05,205.6 L357.3,205.6 L357.55,205.6 L357.8,205.6 L358.05,205.6 L358.3,205.6 L358.55,205.6 L358.8,205.6 L359.05,205.6 L359.3,205.6 L359.55,205.6 L359.8,205.6 L360.05,205.6 L360.3,205.6 L360.55,205.6 L360.8,205.6 L361.05,205.6 L361.3,205.6 L361.55,205.6 L361.8,205.6 L362.05,205.6 L362.3,205.6 L362.54,205.6 L362.79,205.6 L363.04,205.6 L363.29,205.6 L363.54,205.6 L363.79,205.6 L364.04,205.59 L364.29,205.59 L364.54,205.59 L364.79,205.59 L365.04,205.59 L365.29,205.59 L365.54,205.58 L365.79,205.58 L366.04,205.58 L366.29,205.57 L366.54,205.57 L366.79,205.56 L367.04,205.56 L367.29,205.55 L367.54,205.54 L367.79,205.53 L368.04,205.52 L368.29,205.5 L368.54,205.49 L368.79,205.47 L369.04,205.45 L369.29,205.42 L369.54,205.4 L369.79,205.37 L370.04,205.33 L370.29,205.29 L370.54,205.24 L370.79,205.19 L371.04,205.13 L371.29,205.06 L371.54,204.99 L371.79,204.9 L372.04,204.8 L372.29,204.69 L372.54,204.57 L372.79,204.43 L373.04,204.28 L373.29,204.11 L373.54,203.91 L373.79,203.7 L374.04,203.46 L374.29,203.2 L374.54,202.91 L374.79,202.59 L375.04,202.23 L375.29,201.84 L375.54,201.41 L375.79,200.94 L376.04,200.42 L376.29,199.85 L376.54,199.23 L376.79,198.56 L377.04,197.83 L377.29,197.03 L377.54,196.17 L377.78,195.23 L378.03,194.22 L378.28,193.14 L378.53,191.97 L378.78,190.71 L379.03,189.36 L379.28,187.92 L379.53,186.37 L379.78,184.73 L380.03,182.98 L380.28,181.12 L380.53,179.15 L380.78,177.07 L381.03,174.87 L381.28,172.55 L381.53,170.11 L381.78,167.55 L382.03,164.87 L382.28,162.06 L382.53,159.14 L382.78,156.09 L383.03,152.93 L383.28,149.65 L383.53,146.27 L383.78,142.77 L384.03,139.17 L384.28,135.47 L384.53,131.68 L384.78,127.8 L385.03,123.85 L385.28,119.83 L385.53,115.76 L385.78,111.63 L386.03,107.47 L386.28,103.28 L386.53,99.08 L386.78,94.88 L387.03,90.69 L387.28,86.52 L387.53,82.4 L387.78,78.33 L388.03,74.32 L388.28,70.4 L388.53,66.58 L388.78,62.88 L389.03,59.3 L389.28,55.86 L389.53,52.58 L389.78,49.47 L390.03,46.54 L390.28,43.81 L390.53,41.29 L390.78,38.98 L391.03,36.91 L391.28,35.07 L391.53,33.48 L391.78,32.14 L392.03,31.06 L392.28,30.25 L392.53,29.71 L392.78,29.43 L393.02,29.43 L393.27,29.71 L393.52,30.25 L393.77,31.06 L394.02,32.14 L394.27,33.48 L394.52,35.07 L394.77,36.91 L395.02,38.98 L395.27,41.29 L395.52,43.81 L395.77,46.54 L396.02,49.47 L396.27,52.58 L396.52,55.86 L396.77,59.3 L397.02,62.88 L397.27,66.58 L397.52,70.4 L397.77,74.32 L398.02,78.33 L398.27,82.4 L398.52,86.52 L398.77,90.69 L399.02,94.88 L399.27,99.08 L399.52,103.28 L399.77,107.47 L400.02,111.63 L400.27,115.76 L400.52,119.83 L400.77,123.85 L401.02,127.8 L401.27,131.68 L401.52,135.47 L401.77,139.17 L402.02,142.77 L402.27,146.27 L402.52,149.65 L402.77,152.93 L403.02,156.09 L403.27,159.14 L403.52,162.06 L403.77,164.87 L404.02,167.55 L404.27,170.11 L404.52,172.55 L404.77,174.87 L405.02,177.07 L405.27,179.15 L405.52,181.12 L405.77,182.98 L406.02,184.73 L406.27,186.37 L406.52,187.92 L406.77,189.36 L407.02,190.71 L407.27,191.97 L407.52,193.14 L407.77,194.22 L408.02,195.23 L408.26,196.17 L408.51,197.03 L408.76,197.83 L409.01,198.56 L409.26,199.23 L409.51,199.85 L409.76,200.42 L410.01,200.94 L410.26,201.41 L410.51,201.84 L410.76,202.23 L411.01,202.59 L411.26,202.91 L411.51,203.2 L411.76,203.46 L412.01,203.7 L412.26,203.91 L412.51,204.11 L412.76,204.28 L413.01,204.43 L413.26,204.57 L413.51,204.69 L413.76,204.8 L414.01,204.9 L414.26,204.99 L414.51,205.06 L414.76,205.13 L415.01,205.19 L415.26,205.24 L415.51,205.29 L415.76,205.33 L416.01,205.37 L416.26,205.4 L416.51,205.42 L416.76,205.45 L417.01,205.47 L417.26,205.49 L417.51,205.5 L417.76,205.52 L418.01,205.53 L418.26,205.54 L418.51,205.55 L418.76,205.56 L419.01,205.56 L419.26,205.57 L419.51,205.57 L419.76,205.58 L420.01,205.58 L420.26,205.58 L420.51,205.59 L420.76,205.59 L421.01,205.59 L421.26,205.59 L421.51,205.59 L421.76,205.59 L422.01,205.6 L422.26,205.6 L422.51,205.6 L422.76,205.6 L423.01,205.6 L423.26,205.6 L423.5,205.6 L423.75,205.6 L424,205.6 L424.25,205.6 L424.5,205.6 L424.75,205.6 L425,205.6 L425.25,205.6 L425.5,205.6 L425.75,205.6 L426,205.6 L426.25,205.6 L426.5,205.6 L426.75,205.6 L427,205.6 L427.25,205.6 L427.5,205.6 L427.75,205.6 L428,205.6 L428.25,205.6 L428.5,205.6 L428.75,205.6 L429,205.6 L429.25,205.6 L429.5,205.6 L429.75,205.6 L430,205.6 L430.25,205.6 L430.5,205.6 L430.75,205.6 L431,205.6 L431,205.6 L354.8,205.6Z" fill="url(#gelc)"/>
<path d="M400.3,204.9 L411,197.1 L424,187.6 L435,179.6 L444.9,176.4 L445.4,172.55 L445.9,172.41 L446.4,172.28 L446.9,172.16 L447.4,172.04 L447.9,171.93 L448.4,171.82 L448.9,171.72 L449.4,171.61 L449.9,171.51 L450.4,171.41 L450.9,171.31 L451.4,171.21 L451.9,171.12 L452.4,171.04 L452.9,170.96 L453.4,170.89 L453.9,170.83 L454.4,170.79 L454.9,170.74 L455.4,170.71 L455.9,170.68 L456.4,170.67 L456.9,170.68 L457.4,170.71 L457.9,170.79 L458.4,170.89 L458.9,171 L459.4,171.13 L459.9,171.26 L460.4,171.41 L460.9,171.57 L461.4,171.74 L461.9,171.92 L462.4,172.12 L462.9,172.33 L463.4,172.55 L463.9,172.79 L464.4,173.04 L464.9,173.3 L465.4,173.58 L465.9,173.86 L466.4,174.16 L466.9,174.46 L467.4,174.76 L467.9,175.07 L468.4,175.38 L468.9,175.7 L469.4,176.01 L469.9,176.31 L470.4,176.62 L470.9,176.91 L471.4,177.21 L471.9,177.49 L472.4,177.77 L472.9,178.05 L473.4,178.33 L473.9,178.6 L474.4,178.88 L474.9,179.15 L475.4,179.43 L475.9,179.71 L476.4,179.98 L476.9,180.27 L477.4,180.55 L477.9,180.84 L478.4,181.13 L478.9,181.43 L479.4,181.74 L479.9,182.06 L480.4,182.39 L480.9,182.72 L481.4,183.06 L481.9,183.4 L482.4,183.74 L482.9,184.08 L483.4,184.42 L483.9,184.75 L484.4,185.07 L484.9,185.39 L485.4,185.69 L485.9,185.99 L486.4,186.26 L486.9,186.53 L487.4,186.79 L487.9,187.04 L488.4,187.29 L488.9,187.53 L489.4,187.76 L489.9,188 L490.4,188.22 L490.9,188.45 L491.4,188.67 L491.9,188.88 L492.4,189.09 L492.9,189.3 L493.4,189.5 L493.9,189.71 L494.4,189.9 L494.9,190.1 L495.4,190.29 L495.9,190.48 L496.4,190.66 L496.9,190.84 L497.4,191.02 L497.9,191.18 L498.4,191.34 L498.9,191.5 L499.4,191.64 L499.9,191.79 L500.4,191.93 L500.9,192.06 L501.4,192.2 L501.9,192.33 L502.4,192.45 L502.9,192.58 L503.4,192.7 L503.9,192.82 L504.4,192.93 L504.9,193.03 L505.4,193.13 L505.9,193.22 L506.4,193.3 L506.9,193.39 L507.4,193.47 L507.9,193.55 L508.4,193.63 L508.9,193.71 L509.4,193.79 L509.9,193.87 L510.3,193.94 L510.3,205.6 L400.3,205.6Z" fill="url(#gmgc)" fill-opacity="0.9"/>
<path d="M393.45,205.6 L393.7,205.6 L393.95,205.6 L394.2,205.6 L394.45,205.6 L394.7,205.6 L394.95,205.6 L395.2,205.6 L395.45,205.59 L395.7,205.59 L395.95,205.59 L396.2,205.59 L396.45,205.59 L396.7,205.58 L396.95,205.58 L397.2,205.58 L397.44,205.57 L397.69,205.56 L397.94,205.55 L398.19,205.54 L398.44,205.53 L398.69,205.52 L398.94,205.5 L399.19,205.48 L399.44,205.46 L399.69,205.43 L399.94,205.4 L400.19,205.36 L400.44,205.32 L400.69,205.27 L400.94,205.21 L401.19,205.14 L401.44,205.06 L401.69,204.97 L401.94,204.87 L402.19,204.76 L402.44,204.63 L402.69,204.49 L402.94,204.33 L403.19,204.15 L403.44,203.95 L403.69,203.73 L403.94,203.49 L404.19,203.23 L404.44,202.94 L404.69,202.62 L404.94,202.29 L405.18,201.92 L405.43,201.53 L405.68,201.11 L405.93,200.67 L406.18,200.2 L406.43,199.7 L406.68,199.18 L406.93,198.64 L407.18,198.08 L407.43,197.5 L407.68,196.91 L407.93,196.3 L408.18,195.69 L408.43,195.06 L408.68,194.44 L408.93,193.83 L409.18,193.21 L409.43,192.62 L409.68,192.03 L409.93,191.47 L410.18,190.94 L410.43,190.44 L410.68,189.97 L410.93,189.54 L411.18,189.16 L411.43,188.82 L411.68,188.54 L411.93,188.31 L412.18,188.13 L412.43,188.01 L412.68,187.95 L412.92,187.95 L413.17,188.01 L413.42,188.13 L413.67,188.31 L413.92,188.54 L414.17,188.82 L414.42,189.16 L414.67,189.54 L414.92,189.97 L415.17,190.44 L415.42,190.94 L415.67,191.47 L415.92,192.03 L416.17,192.62 L416.42,193.21 L416.67,193.83 L416.92,194.44 L417.17,195.06 L417.42,195.69 L417.67,196.3 L417.92,196.91 L418.17,197.5 L418.42,198.08 L418.67,198.64 L418.92,199.18 L419.17,199.7 L419.42,200.2 L419.67,200.67 L419.92,201.11 L420.17,201.53 L420.42,201.92 L420.66,202.29 L420.91,202.62 L421.16,202.94 L421.41,203.23 L421.66,203.49 L421.91,203.73 L422.16,203.95 L422.41,204.15 L422.66,204.33 L422.91,204.49 L423.16,204.63 L423.41,204.76 L423.66,204.87 L423.91,204.97 L424.16,205.06 L424.41,205.14 L424.66,205.21 L424.91,205.27 L425.16,205.32 L425.41,205.36 L425.66,205.4 L425.91,205.43 L426.16,205.46 L426.41,205.48 L426.66,205.5 L426.91,205.52 L427.16,205.53 L427.41,205.54 L427.66,205.55 L427.91,205.56 L428.16,205.57 L428.4,205.58 L428.65,205.58 L428.9,205.58 L429.15,205.59 L429.4,205.59 L429.65,205.59 L429.9,205.59 L430.15,205.59 L430.4,205.6 L430.65,205.6 L430.9,205.6 L431.15,205.6 L431.4,205.6 L431.65,205.6 L431.9,205.6 L432.15,205.6 L432.15,205.6 L393.45,205.6Z" fill="url(#gphc)" fill-opacity="0.95"/>
<line x1="451.5" y1="17.5" x2="451.5" y2="205.8" stroke="#5a8fc8" stroke-width="0.9" stroke-dasharray="7,7.8"/>
<line x1="463.5" y1="18" x2="463.5" y2="205.8" stroke="#ababab" stroke-width="0.9" stroke-dasharray="7,7.8"/>
</g>
<rect x="359.3" y="17" width="151" height="188.8" fill="none" stroke="#1a1a1a" stroke-width="1.25"/>
<defs><clipPath id="clipcb"><rect x="356.3" y="17" width="157" height="191.8"/></clipPath></defs>
<g clip-path="url(#clipcb)">
<circle cx="368.1" cy="203.8" r="2.2"/><circle cx="370.2" cy="202" r="2.2"/><circle cx="377" cy="197.8" r="2.2"/><circle cx="379" cy="187.1" r="2.2"/><circle cx="380.9" cy="173.7" r="2.2"/><circle cx="382.7" cy="148.1" r="2.2"/><circle cx="385.1" cy="120.9" r="2.2"/><circle cx="386.6" cy="92.4" r="2.2"/><circle cx="388.7" cy="66.1" r="2.2"/><circle cx="390.6" cy="40.6" r="2.2"/><circle cx="392.5" cy="28.8" r="2.2"/><circle cx="395.4" cy="32.8" r="2.2"/><circle cx="396.8" cy="55.4" r="2.2"/><circle cx="398.7" cy="91.5" r="2.2"/><circle cx="400.2" cy="122.7" r="2.2"/><circle cx="402.3" cy="146.8" r="2.2"/><circle cx="404.4" cy="156.7" r="2.2"/><circle cx="406.1" cy="169.2" r="2.2"/><circle cx="407.8" cy="175.7" r="2.2"/><circle cx="409.6" cy="171.9" r="2.2"/><circle cx="412.1" cy="172.1" r="2.2"/><circle cx="414.6" cy="175" r="2.2"/><circle cx="416.2" cy="176.4" r="2.2"/><circle cx="419.2" cy="177.1" r="2.2"/><circle cx="421.2" cy="177.1" r="2.2"/><circle cx="423.3" cy="178.4" r="2.2"/><circle cx="425.6" cy="182.8" r="2.2"/><circle cx="427.2" cy="182.8" r="2.2"/><circle cx="429.5" cy="178" r="2.2"/><circle cx="431.4" cy="175" r="2.2"/><circle cx="433.4" cy="176.4" r="2.2"/><circle cx="435.5" cy="176.6" r="2.2"/><circle cx="437.6" cy="178.5" r="2.2"/><circle cx="439.6" cy="178.5" r="2.2"/><circle cx="442" cy="175.7" r="2.2"/><circle cx="444.3" cy="174.7" r="2.2"/><circle cx="446.6" cy="174.1" r="2.2"/><circle cx="448.6" cy="173.8" r="2.2"/><circle cx="450.6" cy="172.8" r="2.2"/><circle cx="452.5" cy="169" r="2.2"/><circle cx="454.2" cy="165.5" r="2.2"/><circle cx="456.6" cy="167" r="2.2"/><circle cx="458.6" cy="166.1" r="2.2"/><circle cx="460.3" cy="166.1" r="2.2"/><circle cx="462" cy="169" r="2.2"/><circle cx="464" cy="170.5" r="2.2"/><circle cx="466" cy="170.9" r="2.2"/><circle cx="468" cy="175" r="2.2"/><circle cx="469.8" cy="179" r="2.2"/><circle cx="472.3" cy="179.8" r="2.2"/><circle cx="474.3" cy="177" r="2.2"/><circle cx="475.8" cy="175" r="2.2"/><circle cx="477.6" cy="178.5" r="2.2"/><circle cx="479.6" cy="180" r="2.2"/><circle cx="481.4" cy="181" r="2.2"/><circle cx="483.2" cy="183.2" r="2.2"/><circle cx="485.3" cy="188" r="2.2"/><circle cx="487.3" cy="187" r="2.2"/><circle cx="489.3" cy="186.5" r="2.2"/><circle cx="491.3" cy="187" r="2.2"/><circle cx="493.3" cy="187.5" r="2.2"/><circle cx="495.4" cy="188" r="2.2"/><circle cx="497.4" cy="190" r="2.2"/><circle cx="499" cy="196.1" r="2.2"/><circle cx="501.3" cy="194" r="2.2"/><circle cx="503.5" cy="191.5" r="2.2"/><circle cx="505.6" cy="189" r="2.2"/><circle cx="507.6" cy="188.5" r="2.2"/><circle cx="509.5" cy="190.8" r="2.2"/>
<path d="M359.3,205.6 L359.6,205.6 L359.9,205.6 L360.2,205.6 L360.5,205.6 L360.8,205.6 L361.1,205.6 L361.4,205.6 L361.7,205.6 L362,205.6 L362.3,205.6 L362.6,205.6 L362.9,205.61 L363.2,205.61 L363.5,205.61 L363.8,205.61 L364.1,205.61 L364.4,205.61 L364.7,205.61 L365,205.61 L365.3,205.6 L365.6,205.6 L365.9,205.6 L366.2,205.6 L366.5,205.59 L366.8,205.59 L367.11,205.58 L367.41,205.57 L367.71,205.56 L368.01,205.55 L368.31,205.54 L368.61,205.52 L368.91,205.5 L369.21,205.47 L369.51,205.44 L369.81,205.41 L370.11,205.37 L370.41,205.32 L370.71,205.26 L371.01,205.19 L371.31,205.11 L371.61,205.02 L371.91,204.91 L372.21,204.79 L372.51,204.65 L372.81,204.49 L373.11,204.3 L373.41,204.09 L373.71,203.84 L374.01,203.56 L374.31,203.25 L374.61,202.9 L374.91,202.5 L375.21,202.04 L375.51,201.54 L375.81,200.97 L376.11,200.34 L376.41,199.64 L376.71,198.86 L377.01,197.99 L377.31,197.04 L377.61,195.98 L377.91,194.83 L378.21,193.56 L378.51,192.17 L378.81,190.66 L379.11,189.02 L379.41,187.24 L379.71,185.31 L380.01,183.23 L380.31,181 L380.61,178.6 L380.91,176.04 L381.21,173.31 L381.51,170.4 L381.81,167.32 L382.12,164.06 L382.42,160.63 L382.72,157.03 L383.02,153.25 L383.32,149.31 L383.62,145.21 L383.92,140.95 L384.22,136.54 L384.52,132.01 L384.82,127.35 L385.12,122.58 L385.42,117.72 L385.72,112.78 L386.02,107.78 L386.32,102.75 L386.62,97.7 L386.92,92.65 L387.22,87.63 L387.52,82.67 L387.82,77.78 L388.12,73 L388.42,68.34 L388.72,63.84 L389.02,59.51 L389.32,55.4 L389.62,51.51 L389.92,47.87 L390.22,44.51 L390.52,41.44 L390.82,38.69 L391.12,36.27 L391.42,34.2 L391.72,32.49 L392.02,31.16 L392.32,30.2 L392.62,29.64 L392.92,29.47 L393.22,29.69 L393.52,30.31 L393.82,31.31 L394.12,32.69 L394.42,34.44 L394.72,36.56 L395.02,39.02 L395.32,41.81 L395.62,44.92 L395.92,48.31 L396.22,51.98 L396.52,55.9 L396.82,60.04 L397.13,64.38 L397.43,68.89 L397.73,73.52 L398.03,78.27 L398.33,83.1 L398.63,87.98 L398.93,92.9 L399.23,97.83 L399.53,102.75 L399.83,107.64 L400.13,112.47 L400.43,117.2 L400.73,121.81 L401.03,126.29 L401.33,130.65 L401.63,134.88 L401.93,138.97 L402.23,142.94 L402.53,146.82 L402.83,150.55 L403.13,154.09 L403.43,157.41 L403.73,160.47 L404.03,163.22 L404.33,165.63 L404.63,167.72 L404.93,169.5 L405.23,171.03 L405.53,172.32 L405.83,173.4 L406.13,174.33 L406.43,175.12 L406.73,175.73 L407.03,176.14 L407.33,176.38 L407.63,176.5 L407.93,176.51 L408.23,176.47 L408.53,176.41 L408.83,176.3 L409.13,176.15 L409.43,175.97 L409.73,175.77 L410.03,175.58 L410.33,175.4 L410.63,175.24 L410.93,175.08 L411.23,174.95 L411.53,174.85 L411.83,174.8 L412.13,174.81 L412.44,174.86 L412.74,174.92 L413.04,174.99 L413.34,175.07 L413.64,175.16 L413.94,175.27 L414.24,175.39 L414.54,175.52 L414.84,175.65 L415.14,175.8 L415.44,175.95 L415.74,176.12 L416.04,176.29 L416.34,176.47 L416.64,176.65 L416.94,176.84 L417.24,177.04 L417.54,177.23 L417.84,177.43 L418.14,177.63 L418.44,177.83 L418.74,178.02 L419.04,178.21 L419.34,178.4 L419.64,178.6 L419.94,178.8 L420.24,179 L420.54,179.21 L420.84,179.43 L421.14,179.64 L421.44,179.86 L421.74,180.08 L422.04,180.29 L422.34,180.5 L422.64,180.71 L422.94,180.91 L423.24,181.1 L423.54,181.29 L423.84,181.47 L424.14,181.66 L424.44,181.85 L424.74,182.03 L425.04,182.19 L425.34,182.34 L425.64,182.47 L425.94,182.56 L426.24,182.62 L426.54,182.65 L426.84,182.66 L427.14,182.65 L427.45,182.61 L427.75,182.55 L428.05,182.47 L428.35,182.36 L428.65,182.24 L428.95,182.09 L429.25,181.92 L429.55,181.72 L429.85,181.51 L430.15,181.27 L430.45,181.02 L430.75,180.76 L431.05,180.49 L431.35,180.22 L431.65,179.94 L431.95,179.66 L432.25,179.38 L432.55,179.12 L432.85,178.86 L433.15,178.61 L433.45,178.38 L433.75,178.17 L434.05,177.95 L434.35,177.74 L434.65,177.53 L434.95,177.32 L435.25,177.12 L435.55,176.91 L435.85,176.71 L436.15,176.52 L436.45,176.32 L436.75,176.13 L437.05,175.95 L437.35,175.77 L437.65,175.59 L437.95,175.41 L438.25,175.25 L438.55,175.08 L438.85,174.92 L439.15,174.77 L439.45,174.62 L439.75,174.48 L440.05,174.35 L440.35,174.22 L440.65,174.1 L440.95,173.98 L441.25,173.86 L441.55,173.75 L441.85,173.65 L442.15,173.55 L442.46,173.45 L442.76,173.35 L443.06,173.25 L443.36,173.16 L443.66,173.07 L443.96,172.98 L444.26,172.88 L444.56,172.79 L444.86,172.7 L445.16,172.62 L445.46,172.53 L445.76,172.45 L446.06,172.37 L446.36,172.29 L446.66,172.21 L446.96,172.14 L447.26,172.07 L447.56,172 L447.86,171.94 L448.16,171.87 L448.46,171.81 L448.76,171.75 L449.06,171.68 L449.36,171.62 L449.66,171.56 L449.96,171.5 L450.26,171.44 L450.56,171.38 L450.86,171.32 L451.16,171.26 L451.46,171.2 L451.76,171.15 L452.06,171.09 L452.36,171.04 L452.66,170.99 L452.96,170.95 L453.26,170.91 L453.56,170.87 L453.86,170.84 L454.16,170.81 L454.46,170.78 L454.76,170.76 L455.06,170.73 L455.36,170.71 L455.66,170.69 L455.96,170.68 L456.26,170.67 L456.56,170.67 L456.86,170.67 L457.16,170.69 L457.47,170.72 L457.77,170.76 L458.07,170.82 L458.37,170.88 L458.67,170.95 L458.97,171.02 L459.27,171.09 L459.57,171.17 L459.87,171.25 L460.17,171.34 L460.47,171.43 L460.77,171.52 L461.07,171.62 L461.37,171.73 L461.67,171.83 L461.97,171.95 L462.27,172.06 L462.57,172.19 L462.87,172.31 L463.17,172.45 L463.47,172.58 L463.77,172.72 L464.07,172.87 L464.37,173.02 L464.67,173.18 L464.97,173.34 L465.27,173.51 L465.57,173.68 L465.87,173.85 L466.17,174.02 L466.47,174.2 L466.77,174.38 L467.07,174.56 L467.37,174.75 L467.67,174.93 L467.97,175.12 L468.27,175.31 L468.57,175.49 L468.87,175.68 L469.17,175.87 L469.47,176.05 L469.77,176.24 L470.07,176.42 L470.37,176.6 L470.67,176.78 L470.97,176.96 L471.27,177.13 L471.57,177.3 L471.87,177.48 L472.17,177.65 L472.47,177.81 L472.78,177.98 L473.08,178.15 L473.38,178.31 L473.68,178.48 L473.98,178.64 L474.28,178.81 L474.58,178.98 L474.88,179.14 L475.18,179.31 L475.48,179.47 L475.78,179.64 L476.08,179.8 L476.38,179.97 L476.68,180.14 L476.98,180.31 L477.28,180.48 L477.58,180.65 L477.88,180.83 L478.18,181 L478.48,181.18 L478.78,181.36 L479.08,181.54 L479.38,181.73 L479.68,181.92 L479.98,182.11 L480.28,182.31 L480.58,182.5 L480.88,182.71 L481.18,182.91 L481.48,183.11 L481.78,183.32 L482.08,183.52 L482.38,183.73 L482.68,183.93 L482.98,184.13 L483.28,184.34 L483.58,184.54 L483.88,184.74 L484.18,184.93 L484.48,185.13 L484.78,185.32 L485.08,185.5 L485.38,185.68 L485.68,185.86 L485.98,186.03 L486.28,186.2 L486.58,186.36 L486.88,186.52 L487.18,186.68 L487.48,186.83 L487.79,186.98 L488.09,187.13 L488.39,187.28 L488.69,187.42 L488.99,187.57 L489.29,187.71 L489.59,187.85 L489.89,187.99 L490.19,188.13 L490.49,188.26 L490.79,188.4 L491.09,188.53 L491.39,188.66 L491.69,188.79 L491.99,188.92 L492.29,189.05 L492.59,189.17 L492.89,189.3 L493.19,189.42 L493.49,189.54 L493.79,189.66 L494.09,189.78 L494.39,189.9 L494.69,190.02 L494.99,190.13 L495.29,190.25 L495.59,190.36 L495.89,190.48 L496.19,190.59 L496.49,190.7 L496.79,190.81 L497.09,190.91 L497.39,191.01 L497.69,191.11 L497.99,191.21 L498.29,191.31 L498.59,191.4 L498.89,191.49 L499.19,191.58 L499.49,191.67 L499.79,191.76 L500.09,191.84 L500.39,191.93 L500.69,192.01 L500.99,192.09 L501.29,192.17 L501.59,192.25 L501.89,192.32 L502.19,192.4 L502.49,192.48 L502.8,192.55 L503.1,192.62 L503.4,192.7 L503.7,192.77 L504,192.84 L504.3,192.9 L504.6,192.97 L504.9,193.03 L505.2,193.09 L505.5,193.14 L505.8,193.2 L506.1,193.25 L506.4,193.3 L506.7,193.35 L507,193.4 L507.3,193.45 L507.6,193.5 L507.9,193.55 L508.2,193.6 L508.5,193.64 L508.8,193.69 L509.1,193.74 L509.4,193.79 L509.7,193.84 L510,193.89 L510.3,193.94" fill="none" stroke="#ea1c24" stroke-width="1.7" stroke-linejoin="round"/>
</g>
<line x1="359.3" y1="171.32" x2="363.3" y2="171.32" stroke="#1a1a1a" stroke-width="1.1"/>
<line x1="359.3" y1="137.04" x2="363.3" y2="137.04" stroke="#1a1a1a" stroke-width="1.1"/>
<line x1="359.3" y1="102.76" x2="363.3" y2="102.76" stroke="#1a1a1a" stroke-width="1.1"/>
<line x1="359.3" y1="68.48" x2="363.3" y2="68.48" stroke="#1a1a1a" stroke-width="1.1"/>
<line x1="359.3" y1="34.2" x2="363.3" y2="34.2" stroke="#1a1a1a" stroke-width="1.1"/>
<text x="356.6" y="209.2" text-anchor="end" font-size="10" >0</text>
<text x="356.6" y="174.92" text-anchor="end" font-size="10" >0.2</text>
<text x="356.6" y="140.64" text-anchor="end" font-size="10" >0.4</text>
<text x="356.6" y="106.36" text-anchor="end" font-size="10" >0.6</text>
<text x="356.6" y="72.08" text-anchor="end" font-size="10" >0.8</text>
<text x="356.6" y="37.8" text-anchor="end" font-size="10" >1</text>
<line x1="393.1" y1="205.8" x2="393.1" y2="201.8" stroke="#1a1a1a" stroke-width="1.1"/>
<line x1="426.41" y1="205.8" x2="426.41" y2="201.8" stroke="#1a1a1a" stroke-width="1.1"/>
<line x1="459.72" y1="205.8" x2="459.72" y2="201.8" stroke="#1a1a1a" stroke-width="1.1"/>
<line x1="493.03" y1="205.8" x2="493.03" y2="201.8" stroke="#1a1a1a" stroke-width="1.1"/>
<defs><clipPath id="clipe"><rect x="529.8" y="17.0" width="151" height="189"/></clipPath>
<linearGradient id="gele" gradientUnits="userSpaceOnUse" x1="0" x2="0" y1="92.5" y2="205.8"><stop offset="0" stop-color="#8dcfc7"/><stop offset="1" stop-color="#ffffff"/></linearGradient>
<linearGradient id="gphe" gradientUnits="userSpaceOnUse" x1="0" x2="0" y1="201" y2="205.8"><stop offset="0" stop-color="#ee887a"/><stop offset="1" stop-color="#fdf3f1"/></linearGradient>
<linearGradient id="gmge" gradientUnits="userSpaceOnUse" x1="0" x2="0" y1="139.19" y2="205.8"><stop offset="0" stop-color="#a671cf"/><stop offset="1" stop-color="#faf6fc"/></linearGradient>
<linearGradient id="gbge" gradientUnits="userSpaceOnUse" x1="0" x2="0" y1="201.8" y2="205.8"><stop offset="0" stop-color="#777"/><stop offset="1" stop-color="#eee"/></linearGradient>
</defs>
<g clip-path="url(#clipe)">
<path d="M520.6,205.8 L520.85,205.8 L521.1,205.8 L521.35,205.8 L521.6,205.8 L521.85,205.8 L522.1,205.8 L522.35,205.8 L522.6,205.8 L522.85,205.8 L523.1,205.8 L523.35,205.8 L523.6,205.8 L523.85,205.8 L524.1,205.8 L524.35,205.8 L524.6,205.8 L524.85,205.8 L525.1,205.8 L525.35,205.8 L525.6,205.8 L525.85,205.8 L526.1,205.8 L526.35,205.8 L526.6,205.8 L526.85,205.8 L527.1,205.8 L527.35,205.8 L527.6,205.8 L527.85,205.8 L528.1,205.8 L528.35,205.8 L528.6,205.8 L528.85,205.8 L529.1,205.8 L529.34,205.8 L529.59,205.8 L529.84,205.8 L530.09,205.8 L530.34,205.8 L530.59,205.8 L530.84,205.8 L531.09,205.8 L531.34,205.8 L531.59,205.79 L531.84,205.79 L532.09,205.79 L532.34,205.79 L532.59,205.79 L532.84,205.79 L533.09,205.79 L533.34,205.78 L533.59,205.78 L533.84,205.78 L534.09,205.77 L534.34,205.77 L534.59,205.77 L534.84,205.76 L535.09,205.76 L535.34,205.75 L535.59,205.74 L535.84,205.73 L536.09,205.72 L536.34,205.71 L536.59,205.7 L536.84,205.68 L537.09,205.67 L537.34,205.65 L537.59,205.63 L537.84,205.61 L538.09,205.58 L538.34,205.55 L538.59,205.52 L538.84,205.49 L539.09,205.45 L539.34,205.4 L539.59,205.35 L539.84,205.29 L540.09,205.23 L540.34,205.16 L540.59,205.09 L540.84,205.01 L541.09,204.91 L541.34,204.81 L541.59,204.7 L541.84,204.57 L542.09,204.44 L542.34,204.29 L542.59,204.13 L542.84,203.95 L543.09,203.75 L543.34,203.54 L543.59,203.3 L543.84,203.05 L544.09,202.78 L544.34,202.48 L544.59,202.16 L544.84,201.81 L545.09,201.43 L545.34,201.02 L545.59,200.58 L545.84,200.11 L546.09,199.6 L546.33,199.05 L546.58,198.47 L546.83,197.85 L547.08,197.18 L547.33,196.47 L547.58,195.71 L547.83,194.91 L548.08,194.05 L548.33,193.15 L548.58,192.19 L548.83,191.17 L549.08,190.1 L549.33,188.98 L549.58,187.79 L549.83,186.55 L550.08,185.24 L550.33,183.87 L550.58,182.44 L550.83,180.95 L551.08,179.4 L551.33,177.78 L551.58,176.1 L551.83,174.36 L552.08,172.56 L552.33,170.7 L552.58,168.78 L552.83,166.8 L553.08,164.77 L553.33,162.68 L553.58,160.55 L553.83,158.37 L554.08,156.15 L554.33,153.88 L554.58,151.58 L554.83,149.25 L555.08,146.89 L555.33,144.51 L555.58,142.11 L555.83,139.7 L556.08,137.28 L556.33,134.87 L556.58,132.46 L556.83,130.06 L557.08,127.67 L557.33,125.32 L557.58,122.99 L557.83,120.7 L558.08,118.46 L558.33,116.27 L558.58,114.14 L558.83,112.07 L559.08,110.08 L559.33,108.16 L559.58,106.33 L559.83,104.59 L560.08,102.95 L560.33,101.41 L560.58,99.98 L560.83,98.66 L561.08,97.46 L561.33,96.38 L561.58,95.43 L561.83,94.61 L562.08,93.92 L562.33,93.36 L562.58,92.94 L562.83,92.66 L563.08,92.52 L563.32,92.52 L563.57,92.66 L563.82,92.94 L564.07,93.36 L564.32,93.92 L564.57,94.61 L564.82,95.43 L565.07,96.38 L565.32,97.46 L565.57,98.66 L565.82,99.98 L566.07,101.41 L566.32,102.95 L566.57,104.59 L566.82,106.33 L567.07,108.16 L567.32,110.08 L567.57,112.07 L567.82,114.14 L568.07,116.27 L568.32,118.46 L568.57,120.7 L568.82,122.99 L569.07,125.32 L569.32,127.67 L569.57,130.06 L569.82,132.46 L570.07,134.87 L570.32,137.28 L570.57,139.7 L570.82,142.11 L571.07,144.51 L571.32,146.89 L571.57,149.25 L571.82,151.58 L572.07,153.88 L572.32,156.15 L572.57,158.37 L572.82,160.55 L573.07,162.68 L573.32,164.77 L573.57,166.8 L573.82,168.78 L574.07,170.7 L574.32,172.56 L574.57,174.36 L574.82,176.1 L575.07,177.78 L575.32,179.4 L575.57,180.95 L575.82,182.44 L576.07,183.87 L576.32,185.24 L576.57,186.55 L576.82,187.79 L577.07,188.98 L577.32,190.1 L577.57,191.17 L577.82,192.19 L578.07,193.15 L578.32,194.05 L578.57,194.91 L578.82,195.71 L579.07,196.47 L579.32,197.18 L579.57,197.85 L579.82,198.47 L580.07,199.05 L580.31,199.6 L580.56,200.11 L580.81,200.58 L581.06,201.02 L581.31,201.43 L581.56,201.81 L581.81,202.16 L582.06,202.48 L582.31,202.78 L582.56,203.05 L582.81,203.3 L583.06,203.54 L583.31,203.75 L583.56,203.95 L583.81,204.13 L584.06,204.29 L584.31,204.44 L584.56,204.57 L584.81,204.7 L585.06,204.81 L585.31,204.91 L585.56,205.01 L585.81,205.09 L586.06,205.16 L586.31,205.23 L586.56,205.29 L586.81,205.35 L587.06,205.4 L587.31,205.45 L587.56,205.49 L587.81,205.52 L588.06,205.55 L588.31,205.58 L588.56,205.61 L588.81,205.63 L589.06,205.65 L589.31,205.67 L589.56,205.68 L589.81,205.7 L590.06,205.71 L590.31,205.72 L590.56,205.73 L590.81,205.74 L591.06,205.75 L591.31,205.76 L591.56,205.76 L591.81,205.77 L592.06,205.77 L592.31,205.77 L592.56,205.78 L592.81,205.78 L593.06,205.78 L593.31,205.79 L593.56,205.79 L593.81,205.79 L594.06,205.79 L594.31,205.79 L594.56,205.79 L594.81,205.79 L595.06,205.8 L595.31,205.8 L595.56,205.8 L595.81,205.8 L596.06,205.8 L596.31,205.8 L596.56,205.8 L596.81,205.8 L597.06,205.8 L597.3,205.8 L597.55,205.8 L597.8,205.8 L598.05,205.8 L598.3,205.8 L598.55,205.8 L598.8,205.8 L599.05,205.8 L599.3,205.8 L599.55,205.8 L599.8,205.8 L600.05,205.8 L600.3,205.8 L600.55,205.8 L600.8,205.8 L601.05,205.8 L601.3,205.8 L601.55,205.8 L601.8,205.8 L602.05,205.8 L602.3,205.8 L602.55,205.8 L602.8,205.8 L603.05,205.8 L603.3,205.8 L603.55,205.8 L603.8,205.8 L604.05,205.8 L604.3,205.8 L604.55,205.8 L604.8,205.8 L605.05,205.8 L605.3,205.8 L605.55,205.8 L605.8,205.8 L605.8,205.8 L520.6,205.8Z" fill="url(#gele)"/>
<path d="M563.3,205.8 L570,195.2 L576.6,184.9 L584.9,171.6 L593.2,158.3 L601.5,148.3 L608.2,140.8 L608.7,139.26 L609.2,139.21 L609.7,139.19 L610.2,139.2 L610.7,139.23 L611.2,139.29 L611.7,139.38 L612.2,139.49 L612.7,139.64 L613.2,139.81 L613.7,140.02 L614.2,140.25 L614.7,140.52 L615.2,140.82 L615.7,141.16 L616.2,141.52 L616.7,141.92 L617.2,142.34 L617.7,142.78 L618.2,143.25 L618.7,143.74 L619.2,144.26 L619.7,144.79 L620.2,145.34 L620.7,145.9 L621.2,146.48 L621.7,147.08 L622.2,147.69 L622.7,148.3 L623.2,148.93 L623.7,149.57 L624.2,150.23 L624.7,150.91 L625.2,151.62 L625.7,152.36 L626.2,153.12 L626.7,153.89 L627.2,154.68 L627.7,155.47 L628.2,156.27 L628.7,157.07 L629.2,157.86 L629.7,158.65 L630.2,159.42 L630.7,160.18 L631.2,160.92 L631.7,161.64 L632.2,162.35 L632.7,163.07 L633.2,163.78 L633.7,164.5 L634.2,165.2 L634.7,165.91 L635.2,166.6 L635.7,167.29 L636.2,167.96 L636.7,168.62 L637.2,169.27 L637.7,169.9 L638.2,170.51 L638.7,171.1 L639.2,171.67 L639.7,172.21 L640.2,172.74 L640.7,173.23 L641.2,173.71 L641.7,174.17 L642.2,174.61 L642.7,175.04 L643.2,175.45 L643.7,175.85 L644.2,176.24 L644.7,176.62 L645.2,176.99 L645.7,177.36 L646.2,177.72 L646.7,178.07 L647.2,178.43 L647.7,178.78 L648.2,179.13 L648.7,179.47 L649.2,179.81 L649.7,180.14 L650.2,180.47 L650.7,180.79 L651.2,181.11 L651.7,181.42 L652.2,181.73 L652.7,182.04 L653.2,182.34 L653.7,182.64 L654.2,182.93 L654.7,183.23 L655.2,183.52 L655.7,183.81 L656.2,184.09 L656.7,184.38 L657.2,184.66 L657.7,184.94 L658.2,185.22 L658.7,185.5 L659.2,185.78 L659.7,186.05 L660.2,186.32 L660.7,186.59 L661.2,186.86 L661.7,187.12 L662.2,187.39 L662.7,187.64 L663.2,187.9 L663.7,188.15 L664.2,188.4 L664.7,188.64 L665.2,188.89 L665.7,189.12 L666.2,189.36 L666.7,189.59 L667.2,189.82 L667.7,190.04 L668.2,190.26 L668.7,190.47 L669.2,190.68 L669.7,190.88 L670.2,191.08 L670.7,191.28 L671.2,191.47 L671.7,191.66 L672.2,191.85 L672.7,192.03 L673.2,192.22 L673.7,192.4 L674.2,192.57 L674.7,192.75 L675.2,192.93 L675.7,193.1 L676.2,193.27 L676.7,193.45 L677.2,193.62 L677.7,193.8 L678.2,193.97 L678.7,194.15 L679.2,194.32 L679.7,194.5 L680.2,194.68 L680.7,194.86 L680.8,194.9 L680.8,205.8 L563.3,205.8Z" fill="url(#gmge)" fill-opacity="0.9"/>
<path d="M564.6,205.8 L564.85,205.8 L565.1,205.8 L565.35,205.8 L565.6,205.8 L565.85,205.8 L566.1,205.8 L566.35,205.8 L566.61,205.8 L566.86,205.8 L567.11,205.8 L567.36,205.8 L567.61,205.8 L567.86,205.8 L568.11,205.79 L568.36,205.79 L568.61,205.79 L568.86,205.79 L569.11,205.79 L569.36,205.79 L569.61,205.78 L569.86,205.78 L570.11,205.78 L570.36,205.77 L570.62,205.76 L570.87,205.76 L571.12,205.75 L571.37,205.74 L571.62,205.73 L571.87,205.72 L572.12,205.7 L572.37,205.69 L572.62,205.67 L572.87,205.65 L573.12,205.62 L573.37,205.59 L573.62,205.56 L573.87,205.53 L574.12,205.49 L574.37,205.44 L574.63,205.39 L574.88,205.34 L575.13,205.28 L575.38,205.21 L575.63,205.14 L575.88,205.06 L576.13,204.98 L576.38,204.89 L576.63,204.79 L576.88,204.69 L577.13,204.57 L577.38,204.45 L577.63,204.33 L577.88,204.2 L578.13,204.06 L578.38,203.91 L578.64,203.77 L578.89,203.61 L579.14,203.45 L579.39,203.29 L579.64,203.13 L579.89,202.96 L580.14,202.8 L580.39,202.63 L580.64,202.47 L580.89,202.31 L581.14,202.15 L581.39,202 L581.64,201.86 L581.89,201.72 L582.14,201.59 L582.39,201.47 L582.65,201.37 L582.9,201.27 L583.15,201.19 L583.4,201.12 L583.65,201.07 L583.9,201.03 L584.15,201.01 L584.4,201 L584.65,201.01 L584.9,201.03 L585.15,201.07 L585.4,201.12 L585.65,201.19 L585.9,201.27 L586.15,201.37 L586.41,201.47 L586.66,201.59 L586.91,201.72 L587.16,201.86 L587.41,202 L587.66,202.15 L587.91,202.31 L588.16,202.47 L588.41,202.63 L588.66,202.8 L588.91,202.96 L589.16,203.13 L589.41,203.29 L589.66,203.45 L589.91,203.61 L590.16,203.77 L590.42,203.91 L590.67,204.06 L590.92,204.2 L591.17,204.33 L591.42,204.45 L591.67,204.57 L591.92,204.69 L592.17,204.79 L592.42,204.89 L592.67,204.98 L592.92,205.06 L593.17,205.14 L593.42,205.21 L593.67,205.28 L593.92,205.34 L594.17,205.39 L594.43,205.44 L594.68,205.49 L594.93,205.53 L595.18,205.56 L595.43,205.59 L595.68,205.62 L595.93,205.65 L596.18,205.67 L596.43,205.69 L596.68,205.7 L596.93,205.72 L597.18,205.73 L597.43,205.74 L597.68,205.75 L597.93,205.76 L598.18,205.76 L598.44,205.77 L598.69,205.78 L598.94,205.78 L599.19,205.78 L599.44,205.79 L599.69,205.79 L599.94,205.79 L600.19,205.79 L600.44,205.79 L600.69,205.79 L600.94,205.8 L601.19,205.8 L601.44,205.8 L601.69,205.8 L601.94,205.8 L602.19,205.8 L602.45,205.8 L602.7,205.8 L602.95,205.8 L603.2,205.8 L603.45,205.8 L603.7,205.8 L603.95,205.8 L604.2,205.8 L604.2,205.8 L564.6,205.8Z" fill="url(#gphe)" fill-opacity="0.95"/>
<line x1="609.4" y1="17.5" x2="609.4" y2="206" stroke="#5a8fc8" stroke-width="0.9" stroke-dasharray="7,7.8"/>
<line x1="617.7" y1="18" x2="617.7" y2="206" stroke="#ababab" stroke-width="0.9" stroke-dasharray="7,7.8"/>
</g>
<rect x="529.8" y="17" width="151" height="189" fill="none" stroke="#1a1a1a" stroke-width="1.25"/>
<defs><clipPath id="clipeb"><rect x="526.8" y="17" width="157" height="192"/></clipPath></defs>
<g clip-path="url(#clipeb)">
<circle cx="533" cy="202.8" r="2.2"/><circle cx="534.9" cy="200.1" r="2.2"/><circle cx="545.9" cy="204.3" r="2.2"/><circle cx="548.6" cy="198.6" r="2.2"/><circle cx="550.9" cy="185.7" r="2.2"/><circle cx="552.5" cy="172.6" r="2.2"/><circle cx="554.4" cy="154.6" r="2.2"/><circle cx="556.5" cy="134.8" r="2.2"/><circle cx="558.2" cy="122.4" r="2.2"/><circle cx="559.9" cy="105.3" r="2.2"/><circle cx="562.4" cy="96.8" r="2.2"/><circle cx="565.2" cy="93.9" r="2.2"/><circle cx="567.8" cy="110.6" r="2.2"/><circle cx="569.9" cy="124.5" r="2.2"/><circle cx="571.6" cy="136.9" r="2.2"/><circle cx="573.5" cy="151.9" r="2.2"/><circle cx="575.9" cy="163" r="2.2"/><circle cx="578" cy="171.1" r="2.2"/><circle cx="580.2" cy="166" r="2.2"/><circle cx="582.3" cy="160.4" r="2.2"/><circle cx="584.5" cy="159.6" r="2.2"/><circle cx="587.1" cy="160.4" r="2.2"/><circle cx="589.5" cy="155.7" r="2.2"/><circle cx="591.2" cy="154.2" r="2.2"/><circle cx="592.8" cy="152.8" r="2.2"/><circle cx="595.2" cy="158" r="2.2"/><circle cx="596.8" cy="152.5" r="2.2"/><circle cx="598.5" cy="150.9" r="2.2"/><circle cx="600.1" cy="150.4" r="2.2"/><circle cx="602.2" cy="139" r="2.2"/><circle cx="603.6" cy="141" r="2.2"/><circle cx="604.7" cy="130.2" r="2.2"/><circle cx="606.6" cy="131" r="2.2"/><circle cx="608.3" cy="139.5" r="2.2"/><circle cx="610.3" cy="141" r="2.2"/><circle cx="612" cy="144.5" r="2.2"/><circle cx="614" cy="143" r="2.2"/><circle cx="616.3" cy="139.7" r="2.2"/><circle cx="618.5" cy="139.2" r="2.2"/><circle cx="619.9" cy="142.5" r="2.2"/><circle cx="621.2" cy="147.1" r="2.2"/><circle cx="623.4" cy="151.5" r="2.2"/><circle cx="625.6" cy="155.3" r="2.2"/><circle cx="627.7" cy="161.8" r="2.2"/><circle cx="629.2" cy="158.5" r="2.2"/><circle cx="631.3" cy="159.5" r="2.2"/><circle cx="632.9" cy="160.2" r="2.2"/><circle cx="635.3" cy="168.5" r="2.2"/><circle cx="637.3" cy="175" r="2.2"/><circle cx="639.3" cy="180.5" r="2.2"/><circle cx="641.2" cy="183.7" r="2.2"/><circle cx="643.4" cy="183.7" r="2.2"/><circle cx="645.6" cy="176" r="2.2"/><circle cx="647.6" cy="174.6" r="2.2"/><circle cx="649.2" cy="177" r="2.2"/><circle cx="651.3" cy="183.2" r="2.2"/><circle cx="653.6" cy="181.1" r="2.2"/><circle cx="655.6" cy="182" r="2.2"/><circle cx="657.5" cy="183" r="2.2"/><circle cx="659.4" cy="184" r="2.2"/><circle cx="661.5" cy="188.5" r="2.2"/><circle cx="663.6" cy="191" r="2.2"/><circle cx="665.6" cy="191.6" r="2.2"/><circle cx="667.6" cy="190" r="2.2"/><circle cx="669.6" cy="188" r="2.2"/><circle cx="671.6" cy="186.3" r="2.2"/><circle cx="673.6" cy="187.6" r="2.2"/><circle cx="675.6" cy="187.3" r="2.2"/><circle cx="677.4" cy="186.3" r="2.2"/><circle cx="679.6" cy="185" r="2.2"/>
<path d="M529.8,205.8 L530.05,205.8 L530.3,205.8 L530.55,205.8 L530.8,205.8 L531.05,205.8 L531.3,205.8 L531.54,205.79 L531.79,205.79 L532.04,205.79 L532.29,205.79 L532.54,205.79 L532.79,205.79 L533.04,205.79 L533.29,205.78 L533.54,205.78 L533.79,205.78 L534.04,205.78 L534.29,205.77 L534.54,205.77 L534.79,205.76 L535.03,205.76 L535.28,205.75 L535.53,205.74 L535.78,205.73 L536.03,205.73 L536.28,205.71 L536.53,205.7 L536.78,205.69 L537.03,205.67 L537.28,205.66 L537.53,205.64 L537.78,205.61 L538.03,205.59 L538.27,205.56 L538.52,205.53 L538.77,205.5 L539.02,205.46 L539.27,205.41 L539.52,205.36 L539.77,205.31 L540.02,205.25 L540.27,205.18 L540.52,205.11 L540.77,205.03 L541.02,204.94 L541.27,204.84 L541.51,204.73 L541.76,204.61 L542.01,204.48 L542.26,204.33 L542.51,204.18 L542.76,204 L543.01,203.81 L543.26,203.6 L543.51,203.38 L543.76,203.13 L544.01,202.87 L544.26,202.58 L544.51,202.26 L544.76,201.92 L545,201.55 L545.25,201.16 L545.5,200.73 L545.75,200.27 L546,199.77 L546.25,199.24 L546.5,198.67 L546.75,198.07 L547,197.41 L547.25,196.72 L547.5,195.98 L547.75,195.2 L548,194.36 L548.24,193.48 L548.49,192.54 L548.74,191.55 L548.99,190.5 L549.24,189.4 L549.49,188.23 L549.74,187.01 L549.99,185.73 L550.24,184.39 L550.49,182.99 L550.74,181.53 L550.99,180 L551.24,178.41 L551.49,176.76 L551.73,175.04 L551.98,173.27 L552.23,171.44 L552.48,169.54 L552.73,167.59 L552.98,165.59 L553.23,163.53 L553.48,161.42 L553.73,159.27 L553.98,157.07 L554.23,154.82 L554.48,152.54 L554.73,150.23 L554.97,147.89 L555.22,145.52 L555.47,143.13 L555.72,140.73 L555.97,138.33 L556.22,135.91 L556.47,133.5 L556.72,131.1 L556.97,128.72 L557.22,126.36 L557.47,124.02 L557.72,121.72 L557.97,119.46 L558.21,117.26 L558.46,115.1 L558.71,113.01 L558.96,110.99 L559.21,109.04 L559.46,107.17 L559.71,105.39 L559.96,103.71 L560.21,102.12 L560.46,100.64 L560.71,99.28 L560.96,98.02 L561.21,96.89 L561.46,95.87 L561.7,94.99 L561.95,94.24 L562.2,93.62 L562.45,93.13 L562.7,92.78 L562.95,92.57 L563.2,92.5 L563.2,92.5 L563.6,92.67 L564,92.78 L564.4,93.18 L564.8,94.13 L565.2,95.29 L565.6,96.61 L566,98.16 L566.4,99.96 L566.8,102.06 L567.2,104.55 L567.6,107.36 L568,110.37 L568.4,113.45 L568.8,116.5 L569.2,119.55 L569.6,122.68 L570,125.84 L570.4,129 L570.8,132.09 L571.2,135.1 L571.6,138.12 L572,141.11 L572.4,144 L572.8,146.72 L573.2,149.2 L573.6,151.49 L574,153.62 L574.4,155.6 L574.8,157.43 L575.2,159.11 L575.6,160.6 L576,161.85 L576.4,162.91 L576.8,163.81 L577.2,164.6 L577.6,165.3 L578,165.87 L578.4,166.3 L578.8,166.55 L579.2,166.59 L579.6,166.47 L580,166.21 L580.4,165.87 L580.8,165.46 L581.2,165.03 L581.6,164.6 L582,164.19 L582.4,163.77 L582.8,163.33 L583.2,162.88 L583.6,162.43 L584,161.96 L584.4,161.5 L584.8,161.04 L585.2,160.58 L585.6,160.13 L586,159.69 L586.4,159.27 L586.8,158.85 L587.2,158.43 L587.6,158.02 L588,157.61 L588.4,157.2 L588.8,156.79 L589.2,156.37 L589.6,155.94 L590,155.5 L590.4,155.05 L590.8,154.59 L591.2,154.12 L591.6,153.65 L592,153.17 L592.4,152.69 L592.8,152.21 L593.2,151.74 L593.6,151.27 L594,150.81 L594.4,150.35 L594.8,149.91 L595.2,149.49 L595.6,149.06 L596,148.62 L596.4,148.19 L596.8,147.75 L597.2,147.31 L597.6,146.87 L598,146.44 L598.4,146.01 L598.8,145.58 L599.2,145.16 L599.6,144.75 L600,144.35 L600.4,143.96 L600.8,143.58 L601.2,143.21 L601.6,142.86 L602,142.52 L602.4,142.2 L602.8,141.9 L603.2,141.62 L603.6,141.34 L604,141.09 L604.4,140.84 L604.8,140.62 L605.2,140.41 L605.6,140.21 L606,140.03 L606.4,139.86 L606.8,139.72 L607.2,139.59 L607.6,139.48 L608,139.38 L608.4,139.31 L608.8,139.25 L609.2,139.21 L609.6,139.19 L610,139.19 L610.4,139.21 L610.8,139.24 L611.2,139.29 L611.6,139.36 L612,139.44 L612.4,139.55 L612.8,139.67 L613.2,139.81 L613.6,139.97 L614,140.15 L614.4,140.36 L614.8,140.58 L615.2,140.82 L615.6,141.09 L616,141.37 L616.4,141.68 L616.8,142 L617.2,142.34 L617.6,142.69 L618,143.06 L618.4,143.45 L618.8,143.84 L619.2,144.26 L619.6,144.68 L620,145.11 L620.4,145.56 L620.8,146.02 L621.2,146.48 L621.6,146.96 L622,147.44 L622.4,147.93 L622.8,148.43 L623.2,148.93 L623.6,149.44 L624,149.96 L624.4,150.5 L624.8,151.05 L625.2,151.62 L625.6,152.21 L626,152.81 L626.4,153.43 L626.8,154.05 L627.2,154.68 L627.6,155.31 L628,155.95 L628.4,156.59 L628.8,157.22 L629.2,157.86 L629.6,158.49 L630,159.11 L630.4,159.73 L630.8,160.33 L631.2,160.92 L631.6,161.5 L632,162.07 L632.4,162.64 L632.8,163.21 L633.2,163.78 L633.6,164.35 L634,164.92 L634.4,165.49 L634.8,166.05 L635.2,166.6 L635.6,167.15 L636,167.69 L636.4,168.23 L636.8,168.75 L637.2,169.27 L637.6,169.78 L638,170.27 L638.4,170.75 L638.8,171.22 L639.2,171.67 L639.6,172.11 L640,172.53 L640.4,172.94 L640.8,173.33 L641.2,173.71 L641.6,174.08 L642,174.44 L642.4,174.79 L642.8,175.12 L643.2,175.45 L643.6,175.77 L644,176.09 L644.4,176.39 L644.8,176.69 L645.2,176.99 L645.6,177.28 L646,177.57 L646.4,177.86 L646.8,178.14 L647.2,178.43 L647.6,178.71 L648,178.99 L648.4,179.27 L648.8,179.54 L649.2,179.81 L649.6,180.07 L650,180.34 L650.4,180.6 L650.8,180.85 L651.2,181.11 L651.6,181.36 L652,181.61 L652.4,181.85 L652.8,182.1 L653.2,182.34 L653.6,182.58 L654,182.82 L654.4,183.05 L654.8,183.29 L655.2,183.52 L655.6,183.75 L656,183.98 L656.4,184.21 L656.8,184.44 L657.2,184.66 L657.6,184.89 L658,185.11 L658.4,185.34 L658.8,185.56 L659.2,185.78 L659.6,186 L660,186.22 L660.4,186.43 L660.8,186.65 L661.2,186.86 L661.6,187.07 L662,187.28 L662.4,187.49 L662.8,187.69 L663.2,187.9 L663.6,188.1 L664,188.3 L664.4,188.5 L664.8,188.69 L665.2,188.89 L665.6,189.08 L666,189.27 L666.4,189.45 L666.8,189.64 L667.2,189.82 L667.6,189.99 L668,190.17 L668.4,190.34 L668.8,190.51 L669.2,190.68 L669.6,190.84 L670,191 L670.4,191.16 L670.8,191.32 L671.2,191.47 L671.6,191.63 L672,191.78 L672.4,191.92 L672.8,192.07 L673.2,192.22 L673.6,192.36 L674,192.5 L674.4,192.64 L674.8,192.79 L675.2,192.93 L675.6,193.07 L676,193.2 L676.4,193.34 L676.8,193.48 L677.2,193.62 L677.6,193.76 L678,193.9 L678.4,194.04 L678.8,194.18 L679.2,194.32 L679.6,194.46 L680,194.61 L680.4,194.75 L680.8,194.9" fill="none" stroke="#ea1c24" stroke-width="1.7" stroke-linejoin="round"/>
</g>
<line x1="529.8" y1="171.52" x2="533.8" y2="171.52" stroke="#1a1a1a" stroke-width="1.1"/>
<line x1="529.8" y1="137.24" x2="533.8" y2="137.24" stroke="#1a1a1a" stroke-width="1.1"/>
<line x1="529.8" y1="102.96" x2="533.8" y2="102.96" stroke="#1a1a1a" stroke-width="1.1"/>
<line x1="529.8" y1="68.68" x2="533.8" y2="68.68" stroke="#1a1a1a" stroke-width="1.1"/>
<line x1="529.8" y1="34.4" x2="533.8" y2="34.4" stroke="#1a1a1a" stroke-width="1.1"/>
<line x1="563.4" y1="206" x2="563.4" y2="202" stroke="#1a1a1a" stroke-width="1.1"/>
<line x1="596.95" y1="206" x2="596.95" y2="202" stroke="#1a1a1a" stroke-width="1.1"/>
<line x1="630.5" y1="206" x2="630.5" y2="202" stroke="#1a1a1a" stroke-width="1.1"/>
<line x1="664.05" y1="206" x2="664.05" y2="202" stroke="#1a1a1a" stroke-width="1.1"/>
<defs><clipPath id="clipd"><rect x="359.3" y="205.8" width="151" height="188.6"/></clipPath>
<linearGradient id="geld" gradientUnits="userSpaceOnUse" x1="0" x2="0" y1="205.8" y2="395"><stop offset="0" stop-color="#8dcfc7"/><stop offset="1" stop-color="#ffffff"/></linearGradient>
<linearGradient id="gphd" gradientUnits="userSpaceOnUse" x1="0" x2="0" y1="341.15" y2="395"><stop offset="0" stop-color="#ee887a"/><stop offset="1" stop-color="#fdf3f1"/></linearGradient>
<linearGradient id="gmgd" gradientUnits="userSpaceOnUse" x1="0" x2="0" y1="357.4" y2="395"><stop offset="0" stop-color="#a671cf"/><stop offset="1" stop-color="#faf6fc"/></linearGradient>
<linearGradient id="gbgd" gradientUnits="userSpaceOnUse" x1="0" x2="0" y1="391" y2="395"><stop offset="0" stop-color="#777"/><stop offset="1" stop-color="#eee"/></linearGradient>
</defs>
<g clip-path="url(#clipd)">
<path d="M340.2,395 L340.45,395 L340.7,395 L340.95,395 L341.2,395 L341.45,395 L341.7,395 L341.95,395 L342.2,395 L342.45,395 L342.7,395 L342.95,395 L343.2,395 L343.45,395 L343.7,395 L343.95,395 L344.2,395 L344.45,395 L344.7,395 L344.95,395 L345.2,395 L345.45,395 L345.7,395 L345.95,395 L346.2,395 L346.45,395 L346.7,395 L346.95,395 L347.2,395 L347.45,395 L347.7,395 L347.95,395 L348.2,395 L348.45,395 L348.7,395 L348.95,395 L349.2,395 L349.45,394.99 L349.7,394.99 L349.95,394.99 L350.2,394.99 L350.45,394.99 L350.7,394.99 L350.96,394.99 L351.21,394.99 L351.46,394.98 L351.71,394.98 L351.96,394.98 L352.21,394.97 L352.46,394.97 L352.71,394.97 L352.96,394.96 L353.21,394.96 L353.46,394.95 L353.71,394.95 L353.96,394.94 L354.21,394.93 L354.46,394.92 L354.71,394.91 L354.96,394.9 L355.21,394.89 L355.46,394.87 L355.71,394.86 L355.96,394.84 L356.21,394.82 L356.46,394.79 L356.71,394.77 L356.96,394.74 L357.21,394.71 L357.46,394.67 L357.71,394.63 L357.96,394.59 L358.21,394.54 L358.46,394.49 L358.71,394.43 L358.96,394.36 L359.21,394.29 L359.46,394.2 L359.71,394.11 L359.96,394.02 L360.21,393.91 L360.46,393.78 L360.71,393.65 L360.96,393.5 L361.21,393.34 L361.46,393.16 L361.71,392.97 L361.96,392.75 L362.21,392.52 L362.46,392.26 L362.71,391.98 L362.96,391.67 L363.21,391.33 L363.46,390.97 L363.71,390.57 L363.96,390.13 L364.21,389.65 L364.46,389.14 L364.71,388.57 L364.96,387.96 L365.21,387.3 L365.46,386.58 L365.71,385.8 L365.96,384.96 L366.21,384.05 L366.46,383.06 L366.71,382 L366.96,380.85 L367.21,379.62 L367.46,378.29 L367.71,376.86 L367.96,375.32 L368.21,373.67 L368.46,371.9 L368.71,370 L368.96,367.97 L369.21,365.79 L369.46,363.47 L369.71,360.98 L369.96,358.33 L370.21,355.51 L370.46,352.5 L370.71,349.29 L370.96,345.89 L371.21,342.27 L371.46,338.43 L371.71,334.36 L371.96,330.05 L372.21,325.48 L372.47,320.65 L372.72,315.56 L372.97,310.17 L373.22,304.5 L373.47,298.52 L373.72,292.23 L373.97,285.61 L374.22,278.66 L374.47,271.36 L374.72,263.72 L374.97,255.7 L375.22,247.32 L375.47,238.56 L375.72,229.4 L375.97,219.85 L376.22,209.9 L376.47,199.53 L376.72,188.74 L376.97,177.54 L377.22,165.9 L377.47,153.83 L377.72,141.33 L377.97,128.39 L378.22,115.01 L378.47,101.19 L378.72,86.93 L378.97,72.23 L379.22,57.11 L379.47,41.55 L379.72,25.56 L379.97,9.16 L380.22,-7.65 L380.47,-24.86 L380.72,-42.46 L380.97,-60.44 L381.22,-78.79 L381.47,-97.48 L381.72,-116.51 L381.97,-135.85 L382.22,-155.49 L382.47,-175.41 L382.72,-195.58 L382.97,-215.98 L383.22,-236.59 L383.47,-257.38 L383.72,-278.31 L383.97,-299.38 L384.22,-320.53 L384.47,-341.75 L384.72,-363 L384.97,-384.24 L385.22,-405.45 L385.47,-426.59 L385.72,-447.61 L385.97,-468.5 L386.22,-489.2 L386.47,-509.69 L386.72,-529.92 L386.97,-549.85 L387.22,-569.45 L387.47,-588.69 L387.72,-607.51 L387.97,-625.89 L388.22,-643.78 L388.47,-661.15 L388.72,-677.97 L388.97,-694.19 L389.22,-709.78 L389.47,-724.72 L389.72,-738.96 L389.97,-752.47 L390.22,-765.23 L390.47,-777.2 L390.72,-788.36 L390.97,-798.69 L391.22,-808.15 L391.47,-816.74 L391.72,-824.42 L391.97,-831.18 L392.22,-837 L392.47,-841.87 L392.72,-845.79 L392.97,-848.73 L393.22,-850.7 L393.47,-851.68 L393.73,-851.68 L393.98,-850.7 L394.23,-848.73 L394.48,-845.79 L394.73,-841.87 L394.98,-837 L395.23,-831.18 L395.48,-824.42 L395.73,-816.74 L395.98,-808.15 L396.23,-798.69 L396.48,-788.36 L396.73,-777.2 L396.98,-765.23 L397.23,-752.47 L397.48,-738.96 L397.73,-724.72 L397.98,-709.78 L398.23,-694.19 L398.48,-677.97 L398.73,-661.15 L398.98,-643.78 L399.23,-625.89 L399.48,-607.51 L399.73,-588.69 L399.98,-569.45 L400.23,-549.85 L400.48,-529.92 L400.73,-509.69 L400.98,-489.2 L401.23,-468.5 L401.48,-447.61 L401.73,-426.59 L401.98,-405.45 L402.23,-384.24 L402.48,-363 L402.73,-341.75 L402.98,-320.53 L403.23,-299.38 L403.48,-278.31 L403.73,-257.38 L403.98,-236.59 L404.23,-215.98 L404.48,-195.58 L404.73,-175.41 L404.98,-155.49 L405.23,-135.85 L405.48,-116.51 L405.73,-97.48 L405.98,-78.79 L406.23,-60.44 L406.48,-42.46 L406.73,-24.86 L406.98,-7.65 L407.23,9.16 L407.48,25.56 L407.73,41.55 L407.98,57.11 L408.23,72.23 L408.48,86.93 L408.73,101.19 L408.98,115.01 L409.23,128.39 L409.48,141.33 L409.73,153.83 L409.98,165.9 L410.23,177.54 L410.48,188.74 L410.73,199.53 L410.98,209.9 L411.23,219.85 L411.48,229.4 L411.73,238.56 L411.98,247.32 L412.23,255.7 L412.48,263.72 L412.73,271.36 L412.98,278.66 L413.23,285.61 L413.48,292.23 L413.73,298.52 L413.98,304.5 L414.23,310.17 L414.48,315.56 L414.73,320.65 L414.99,325.48 L415.24,330.05 L415.49,334.36 L415.74,338.43 L415.99,342.27 L416.24,345.89 L416.49,349.29 L416.74,352.5 L416.99,355.51 L417.24,358.33 L417.49,360.98 L417.74,363.47 L417.99,365.79 L418.24,367.97 L418.49,370 L418.74,371.9 L418.99,373.67 L419.24,375.32 L419.49,376.86 L419.74,378.29 L419.99,379.62 L420.24,380.85 L420.49,382 L420.74,383.06 L420.99,384.05 L421.24,384.96 L421.49,385.8 L421.74,386.58 L421.99,387.3 L422.24,387.96 L422.49,388.57 L422.74,389.14 L422.99,389.65 L423.24,390.13 L423.49,390.57 L423.74,390.97 L423.99,391.33 L424.24,391.67 L424.49,391.98 L424.74,392.26 L424.99,392.52 L425.24,392.75 L425.49,392.97 L425.74,393.16 L425.99,393.34 L426.24,393.5 L426.49,393.65 L426.74,393.78 L426.99,393.91 L427.24,394.02 L427.49,394.11 L427.74,394.2 L427.99,394.29 L428.24,394.36 L428.49,394.43 L428.74,394.49 L428.99,394.54 L429.24,394.59 L429.49,394.63 L429.74,394.67 L429.99,394.71 L430.24,394.74 L430.49,394.77 L430.74,394.79 L430.99,394.82 L431.24,394.84 L431.49,394.86 L431.74,394.87 L431.99,394.89 L432.24,394.9 L432.49,394.91 L432.74,394.92 L432.99,394.93 L433.24,394.94 L433.49,394.95 L433.74,394.95 L433.99,394.96 L434.24,394.96 L434.49,394.97 L434.74,394.97 L434.99,394.97 L435.24,394.98 L435.49,394.98 L435.74,394.98 L435.99,394.99 L436.24,394.99 L436.5,394.99 L436.75,394.99 L437,394.99 L437.25,394.99 L437.5,394.99 L437.75,394.99 L438,395 L438.25,395 L438.5,395 L438.75,395 L439,395 L439.25,395 L439.5,395 L439.75,395 L440,395 L440.25,395 L440.5,395 L440.75,395 L441,395 L441.25,395 L441.5,395 L441.75,395 L442,395 L442.25,395 L442.5,395 L442.75,395 L443,395 L443.25,395 L443.5,395 L443.75,395 L444,395 L444.25,395 L444.5,395 L444.75,395 L445,395 L445.25,395 L445.5,395 L445.75,395 L446,395 L446.25,395 L446.5,395 L446.75,395 L447,395 L447,395 L340.2,395Z" fill="url(#geld)"/>
<path d="M397,394.8 L405,387.4 L415,377.8 L425,368.5 L433.5,361.2 L440,358.2 L446,357.4 L452,358.1 L458,359.9 L464,363.8 L471,369.3 L480,374.3 L490,378.2 L500,381.8 L510.3,385.2 L510.3,395 L397,395Z" fill="url(#gmgd)" fill-opacity="0.9"/>
<path d="M387.3,395 L387.55,395 L387.8,395 L388.05,395 L388.3,395 L388.55,394.99 L388.8,394.99 L389.05,394.99 L389.3,394.99 L389.55,394.99 L389.8,394.99 L390.05,394.98 L390.3,394.98 L390.55,394.98 L390.8,394.97 L391.05,394.97 L391.3,394.96 L391.55,394.96 L391.8,394.95 L392.05,394.94 L392.3,394.93 L392.54,394.92 L392.79,394.9 L393.04,394.89 L393.29,394.87 L393.54,394.85 L393.79,394.82 L394.04,394.79 L394.29,394.76 L394.54,394.73 L394.79,394.69 L395.04,394.64 L395.29,394.59 L395.54,394.53 L395.79,394.46 L396.04,394.39 L396.29,394.31 L396.54,394.21 L396.79,394.11 L397.04,393.99 L397.29,393.86 L397.54,393.72 L397.79,393.56 L398.04,393.38 L398.29,393.19 L398.54,392.98 L398.79,392.74 L399.04,392.49 L399.29,392.21 L399.54,391.9 L399.79,391.57 L400.04,391.21 L400.29,390.82 L400.54,390.4 L400.79,389.94 L401.04,389.45 L401.29,388.92 L401.54,388.35 L401.79,387.75 L402.04,387.1 L402.29,386.41 L402.54,385.68 L402.79,384.91 L403.03,384.09 L403.28,383.23 L403.53,382.33 L403.78,381.37 L404.03,380.38 L404.28,379.34 L404.53,378.26 L404.78,377.14 L405.03,375.98 L405.28,374.78 L405.53,373.54 L405.78,372.27 L406.03,370.97 L406.28,369.64 L406.53,368.29 L406.78,366.92 L407.03,365.53 L407.28,364.13 L407.53,362.73 L407.78,361.32 L408.03,359.92 L408.28,358.53 L408.53,357.15 L408.78,355.79 L409.03,354.46 L409.28,353.16 L409.53,351.9 L409.78,350.69 L410.03,349.52 L410.28,348.41 L410.53,347.36 L410.78,346.38 L411.03,345.47 L411.28,344.64 L411.53,343.89 L411.78,343.22 L412.03,342.64 L412.28,342.15 L412.53,341.76 L412.78,341.46 L413.03,341.26 L413.28,341.16 L413.52,341.16 L413.77,341.26 L414.02,341.46 L414.27,341.76 L414.52,342.15 L414.77,342.64 L415.02,343.22 L415.27,343.89 L415.52,344.64 L415.77,345.47 L416.02,346.38 L416.27,347.36 L416.52,348.41 L416.77,349.52 L417.02,350.69 L417.27,351.9 L417.52,353.16 L417.77,354.46 L418.02,355.79 L418.27,357.15 L418.52,358.53 L418.77,359.92 L419.02,361.32 L419.27,362.73 L419.52,364.13 L419.77,365.53 L420.02,366.92 L420.27,368.29 L420.52,369.64 L420.77,370.97 L421.02,372.27 L421.27,373.54 L421.52,374.78 L421.77,375.98 L422.02,377.14 L422.27,378.26 L422.52,379.34 L422.77,380.38 L423.02,381.37 L423.27,382.33 L423.52,383.23 L423.77,384.09 L424.01,384.91 L424.26,385.68 L424.51,386.41 L424.76,387.1 L425.01,387.75 L425.26,388.35 L425.51,388.92 L425.76,389.45 L426.01,389.94 L426.26,390.4 L426.51,390.82 L426.76,391.21 L427.01,391.57 L427.26,391.9 L427.51,392.21 L427.76,392.49 L428.01,392.74 L428.26,392.98 L428.51,393.19 L428.76,393.38 L429.01,393.56 L429.26,393.72 L429.51,393.86 L429.76,393.99 L430.01,394.11 L430.26,394.21 L430.51,394.31 L430.76,394.39 L431.01,394.46 L431.26,394.53 L431.51,394.59 L431.76,394.64 L432.01,394.69 L432.26,394.73 L432.51,394.76 L432.76,394.79 L433.01,394.82 L433.26,394.85 L433.51,394.87 L433.76,394.89 L434.01,394.9 L434.26,394.92 L434.5,394.93 L434.75,394.94 L435,394.95 L435.25,394.96 L435.5,394.96 L435.75,394.97 L436,394.97 L436.25,394.98 L436.5,394.98 L436.75,394.98 L437,394.99 L437.25,394.99 L437.5,394.99 L437.75,394.99 L438,394.99 L438.25,394.99 L438.5,395 L438.75,395 L439,395 L439.25,395 L439.5,395 L439.5,395 L387.3,395Z" fill="url(#gphd)" fill-opacity="0.95"/>
<path d="M457,394.4 L470,393.6 L485,392.8 L500,391.8 L510.3,391 L510.3,395 L457,395Z" fill="url(#gbgd)"/>
<path d="M457,394.4 L470,393.6 L485,392.8 L500,391.8 L510.3,391" fill="none" stroke="#555" stroke-width="0.7"/>
<line x1="444.4" y1="206.3" x2="444.4" y2="394.4" stroke="#5a8fc8" stroke-width="0.9" stroke-dasharray="7,7.8"/>
<line x1="455.5" y1="206.8" x2="455.5" y2="394.4" stroke="#ababab" stroke-width="0.9" stroke-dasharray="7,7.8"/>
</g>
<rect x="359.3" y="205.8" width="151" height="188.6" fill="none" stroke="#1a1a1a" stroke-width="1.25"/>
<defs><clipPath id="clipdb"><rect x="356.3" y="205.8" width="157" height="191.6"/></clipPath></defs>
<g clip-path="url(#clipdb)">
<circle cx="360.9" cy="388.9" r="2.2"/><circle cx="362.8" cy="386.3" r="2.2"/><circle cx="364.3" cy="382.9" r="2.2"/><circle cx="366.2" cy="376.3" r="2.2"/><circle cx="368.3" cy="370.3" r="2.2"/><circle cx="370.1" cy="360.6" r="2.2"/><circle cx="371.9" cy="340.5" r="2.2"/><circle cx="374" cy="306.3" r="2.2"/><circle cx="376.6" cy="240" r="2.2"/><circle cx="412.7" cy="253.1" r="2.2"/><circle cx="415.1" cy="286.9" r="2.2"/><circle cx="416.7" cy="308.1" r="2.2"/><circle cx="418.5" cy="323.5" r="2.2"/><circle cx="420.3" cy="331.9" r="2.2"/><circle cx="422.4" cy="339.7" r="2.2"/><circle cx="424.2" cy="346.3" r="2.2"/><circle cx="427.1" cy="351.5" r="2.2"/><circle cx="429" cy="354.1" r="2.2"/><circle cx="431.7" cy="357.4" r="2.2"/><circle cx="434.4" cy="359.2" r="2.2"/><circle cx="437" cy="360.1" r="2.2"/><circle cx="438.8" cy="358.6" r="2.2"/><circle cx="440.6" cy="358.3" r="2.2"/><circle cx="442.8" cy="356.8" r="2.2"/><circle cx="445" cy="355.6" r="2.2"/><circle cx="447.7" cy="358.3" r="2.2"/><circle cx="449.5" cy="358.8" r="2.2"/><circle cx="451.3" cy="359.5" r="2.2"/><circle cx="453.5" cy="357.5" r="2.2"/><circle cx="455.7" cy="355.5" r="2.2"/><circle cx="456.2" cy="356.3" r="2.2"/><circle cx="458.6" cy="358.1" r="2.2"/><circle cx="461.5" cy="359.3" r="2.2"/><circle cx="463.9" cy="359.8" r="2.2"/><circle cx="465.7" cy="360.4" r="2.2"/><circle cx="466.9" cy="365.8" r="2.2"/><circle cx="468.7" cy="367" r="2.2"/><circle cx="469.8" cy="368.8" r="2.2"/><circle cx="471.6" cy="368.2" r="2.2"/><circle cx="473.4" cy="370" r="2.2"/><circle cx="475.2" cy="370.5" r="2.2"/><circle cx="477.6" cy="370" r="2.2"/><circle cx="479.9" cy="370.5" r="2.2"/><circle cx="481.7" cy="371.7" r="2.2"/><circle cx="482.9" cy="374.7" r="2.2"/><circle cx="484.7" cy="376.1" r="2.2"/><circle cx="487.1" cy="374.7" r="2.2"/><circle cx="488.8" cy="375.9" r="2.2"/><circle cx="490" cy="378.3" r="2.2"/><circle cx="491.8" cy="374.7" r="2.2"/><circle cx="493.6" cy="375.3" r="2.2"/><circle cx="496" cy="375.9" r="2.2"/><circle cx="497.8" cy="377.7" r="2.2"/><circle cx="499.5" cy="378.8" r="2.2"/><circle cx="501.3" cy="380.6" r="2.2"/><circle cx="503.1" cy="380.6" r="2.2"/><circle cx="505.5" cy="378.3" r="2.2"/><circle cx="507.3" cy="380" r="2.2"/><circle cx="509" cy="383" r="2.2"/>
<path d="M359.3,394.26 L359.55,394.17 L359.8,394.08 L360.05,393.98 L360.3,393.86 L360.55,393.74 L360.8,393.6 L361.05,393.45 L361.3,393.28 L361.55,393.09 L361.8,392.89 L362.05,392.67 L362.3,392.42 L362.55,392.16 L362.81,391.87 L363.06,391.55 L363.31,391.2 L363.56,390.82 L363.81,390.4 L364.06,389.95 L364.31,389.46 L364.56,388.93 L364.81,388.34 L365.06,387.71 L365.31,387.03 L365.56,386.29 L365.81,385.48 L366.06,384.61 L366.31,383.67 L366.56,382.66 L366.81,381.56 L367.06,380.38 L367.31,379.1 L367.56,377.73 L367.81,376.26 L368.06,374.68 L368.31,372.98 L368.56,371.15 L368.81,369.2 L369.06,367.11 L369.31,364.87 L369.56,362.48 L369.82,359.93 L370.07,357.21 L370.32,354.3 L370.57,351.21 L370.82,347.92 L371.07,344.43 L371.32,340.72 L371.57,336.78 L371.82,332.6 L372.07,328.18 L372.32,323.51 L372.57,318.56 L372.82,313.34 L373.07,307.83 L373.32,302.03 L373.57,295.91 L373.82,289.48 L374.07,282.71 L374.32,275.61 L374.57,268.16 L374.82,260.35 L375.07,252.17 L375.32,243.62 L375.57,234.68 L375.82,225.35 L376.07,215.61 L376.32,205.47 L376.58,194.91 L376.83,183.94 L377.08,172.53 L377.33,160.7 L377.58,148.43 L377.83,135.72 L378.08,122.57 L378.33,108.99 L378.58,94.96 L378.83,80.5 L379.08,65.59 L379.33,50.26 L379.58,34.49 L379.83,18.31 L380.08,1.71 L380.33,-15.3 L380.58,-32.71 L380.83,-50.5 L381.08,-68.66 L381.33,-87.18 L381.58,-106.05 L381.83,-125.24 L382.08,-144.74 L382.33,-164.53 L382.58,-184.59 L382.83,-204.89 L383.08,-225.4 L383.34,-246.12 L383.59,-267 L383.84,-288.02 L384.09,-309.15 L384.34,-330.36 L384.59,-351.61 L384.84,-372.88 L385.09,-394.14 L385.34,-415.34 L385.59,-436.45 L385.84,-457.44 L386.09,-478.26 L386.34,-498.89 L386.59,-519.28 L386.84,-539.39 L387.09,-559.19 L387.34,-578.64 L387.59,-597.7 L387.84,-616.34 L388.09,-634.51 L388.34,-652.17 L388.59,-669.3 L388.84,-685.85 L389.09,-701.79 L389.34,-717.08 L389.59,-731.7 L389.84,-745.6 L390.09,-758.77 L390.35,-771.16 L390.6,-782.75 L390.85,-793.52 L391.1,-803.44 L391.35,-812.48 L391.6,-820.63 L391.85,-827.86 L392.1,-834.17 L392.35,-839.53 L392.6,-843.94 L392.85,-847.37 L393.1,-849.83 L393.35,-851.31 L393.6,-851.8 L393.6,-851.8 L393.85,-851.31 L394.1,-849.84 L394.35,-847.39 L394.6,-843.96 L394.85,-839.57 L395.1,-834.22 L395.35,-827.93 L395.6,-820.72 L395.85,-812.59 L396.1,-803.57 L396.35,-793.68 L396.6,-782.95 L396.85,-771.39 L397.1,-759.03 L397.35,-745.9 L397.6,-732.03 L397.85,-717.45 L398.1,-702.2 L398.35,-686.3 L398.6,-669.79 L398.85,-652.7 L399.1,-635.08 L399.35,-616.95 L399.6,-598.36 L399.85,-579.34 L400.1,-559.94 L400.35,-540.18 L400.6,-520.1 L400.85,-499.75 L401.1,-479.17 L401.35,-458.38 L401.6,-437.43 L401.85,-416.36 L402.1,-395.19 L402.35,-373.97 L402.6,-352.73 L402.85,-331.5 L403.1,-310.32 L403.35,-289.22 L403.6,-268.22 L403.85,-247.36 L404.1,-226.67 L404.35,-206.17 L404.6,-185.88 L404.85,-165.84 L405.1,-146.06 L405.35,-126.57 L405.6,-107.38 L405.85,-88.52 L406.1,-70 L406.35,-51.84 L406.6,-34.04 L406.85,-16.63 L407.1,0.38 L407.35,16.99 L407.6,33.19 L407.85,48.96 L408.1,64.31 L408.35,79.23 L408.6,93.71 L408.85,107.76 L409.1,121.36 L409.35,134.53 L409.6,147.26 L410.2,205.8 L410.6,212.77 L411,219.73 L411.4,226.41 L411.8,234.14 L412.2,243.34 L412.6,253.06 L413,263.39 L413.4,273.63 L413.8,281.92 L414.2,288.45 L414.6,294.06 L415,299.06 L415.41,303.25 L415.81,306.7 L416.21,309.77 L416.61,312.53 L417.01,314.95 L417.41,317.05 L417.81,318.91 L418.21,320.62 L418.61,322.22 L419.01,323.8 L419.41,325.41 L419.81,327.13 L420.21,329.03 L420.61,331.19 L421.01,333.47 L421.41,335.69 L421.81,337.69 L422.21,339.35 L422.61,340.88 L423.01,342.31 L423.41,343.65 L423.81,344.89 L424.21,346.03 L424.61,347.06 L425.01,347.99 L425.42,348.85 L425.82,349.64 L426.22,350.38 L426.62,351.07 L427.02,351.7 L427.42,352.29 L427.82,352.84 L428.22,353.35 L428.62,353.82 L429.02,354.27 L429.42,354.68 L429.82,355.07 L430.22,355.43 L430.62,355.77 L431.02,356.07 L431.42,356.36 L431.82,356.61 L432.22,356.85 L432.62,357.06 L433.02,357.24 L433.42,357.41 L433.82,357.55 L434.22,357.67 L434.62,357.76 L435.02,357.83 L435.43,357.89 L435.83,357.92 L436.23,357.94 L436.63,357.95 L437.03,357.94 L437.43,357.93 L437.83,357.9 L438.23,357.87 L438.63,357.83 L439.03,357.78 L439.43,357.72 L439.83,357.63 L440.23,357.52 L440.63,357.39 L441.03,357.25 L441.43,357.11 L441.83,356.96 L442.23,356.82 L442.63,356.67 L443.03,356.54 L443.43,356.43 L443.83,356.33 L444.23,356.25 L444.63,356.2 L445.03,356.18 L445.44,356.18 L445.84,356.2 L446.24,356.23 L446.64,356.27 L447.04,356.32 L447.44,356.39 L447.84,356.46 L448.24,356.54 L448.64,356.63 L449.04,356.71 L449.44,356.8 L449.84,356.88 L450.24,356.97 L450.64,357.05 L451.04,357.12 L451.44,357.2 L451.84,357.27 L452.24,357.35 L452.64,357.43 L453.04,357.51 L453.44,357.6 L453.84,357.7 L454.24,357.8 L454.64,357.91 L455.04,358.04 L455.45,358.17 L455.85,358.32 L456.25,358.48 L456.65,358.65 L457.05,358.83 L457.45,359.02 L457.85,359.22 L458.25,359.43 L458.65,359.64 L459.05,359.86 L459.45,360.08 L459.85,360.31 L460.25,360.54 L460.65,360.78 L461.05,361.01 L461.45,361.25 L461.85,361.5 L462.25,361.74 L462.65,361.98 L463.05,362.23 L463.45,362.47 L463.85,362.71 L464.25,362.95 L464.65,363.2 L465.05,363.46 L465.46,363.72 L465.86,363.99 L466.26,364.26 L466.66,364.54 L467.06,364.81 L467.46,365.09 L467.86,365.36 L468.26,365.63 L468.66,365.9 L469.06,366.17 L469.46,366.42 L469.86,366.67 L470.26,366.92 L470.66,367.15 L471.06,367.37 L471.46,367.58 L471.86,367.79 L472.26,367.99 L472.66,368.18 L473.06,368.37 L473.46,368.56 L473.86,368.74 L474.26,368.92 L474.66,369.1 L475.06,369.27 L475.47,369.44 L475.87,369.61 L476.27,369.77 L476.67,369.94 L477.07,370.1 L477.47,370.26 L477.87,370.42 L478.27,370.58 L478.67,370.74 L479.07,370.9 L479.47,371.06 L479.87,371.22 L480.27,371.38 L480.67,371.55 L481.07,371.71 L481.47,371.88 L481.87,372.04 L482.27,372.2 L482.67,372.37 L483.07,372.53 L483.47,372.69 L483.87,372.86 L484.27,373.02 L484.67,373.18 L485.07,373.34 L485.48,373.5 L485.88,373.65 L486.28,373.81 L486.68,373.97 L487.08,374.12 L487.48,374.27 L487.88,374.42 L488.28,374.57 L488.68,374.72 L489.08,374.87 L489.48,375.01 L489.88,375.15 L490.28,375.29 L490.68,375.43 L491.08,375.57 L491.48,375.7 L491.88,375.84 L492.28,375.97 L492.68,376.1 L493.08,376.23 L493.48,376.35 L493.88,376.48 L494.28,376.6 L494.68,376.72 L495.08,376.85 L495.49,376.97 L495.89,377.09 L496.29,377.2 L496.69,377.32 L497.09,377.44 L497.49,377.55 L497.89,377.67 L498.29,377.78 L498.69,377.89 L499.09,378 L499.49,378.11 L499.89,378.22 L500.29,378.33 L500.69,378.44 L501.09,378.55 L501.49,378.65 L501.89,378.75 L502.29,378.86 L502.69,378.96 L503.09,379.06 L503.49,379.16 L503.89,379.26 L504.29,379.35 L504.69,379.45 L505.09,379.55 L505.5,379.64 L505.9,379.74 L506.3,379.83 L506.7,379.93 L507.1,380.03 L507.5,380.12 L507.9,380.22 L508.3,380.31 L508.7,380.41 L509.1,380.51 L509.5,380.6 L509.9,380.7 L510.3,380.8" fill="none" stroke="#ea1c24" stroke-width="1.7" stroke-linejoin="round"/>
</g>
<line x1="359.3" y1="360.7" x2="363.3" y2="360.7" stroke="#1a1a1a" stroke-width="1.1"/>
<line x1="359.3" y1="326.4" x2="363.3" y2="326.4" stroke="#1a1a1a" stroke-width="1.1"/>
<line x1="359.3" y1="292.1" x2="363.3" y2="292.1" stroke="#1a1a1a" stroke-width="1.1"/>
<line x1="359.3" y1="257.8" x2="363.3" y2="257.8" stroke="#1a1a1a" stroke-width="1.1"/>
<line x1="359.3" y1="223.5" x2="363.3" y2="223.5" stroke="#1a1a1a" stroke-width="1.1"/>
<text x="356.6" y="398.6" text-anchor="end" font-size="10" >0</text>
<text x="356.6" y="364.3" text-anchor="end" font-size="10" >0.2</text>
<text x="356.6" y="330" text-anchor="end" font-size="10" >0.4</text>
<text x="356.6" y="295.7" text-anchor="end" font-size="10" >0.6</text>
<text x="356.6" y="261.4" text-anchor="end" font-size="10" >0.8</text>
<text x="356.6" y="227.1" text-anchor="end" font-size="10" >1</text>
<line x1="393.1" y1="394.4" x2="393.1" y2="390.4" stroke="#1a1a1a" stroke-width="1.1"/>
<line x1="426.41" y1="394.4" x2="426.41" y2="390.4" stroke="#1a1a1a" stroke-width="1.1"/>
<line x1="459.72" y1="394.4" x2="459.72" y2="390.4" stroke="#1a1a1a" stroke-width="1.1"/>
<line x1="493.03" y1="394.4" x2="493.03" y2="390.4" stroke="#1a1a1a" stroke-width="1.1"/>
<text x="359.79" y="407" text-anchor="middle" font-size="10" >-100</text>
<text x="393.1" y="407" text-anchor="middle" font-size="10" >0</text>
<text x="426.41" y="407" text-anchor="middle" font-size="10" >100</text>
<text x="459.72" y="407" text-anchor="middle" font-size="10" >200</text>
<text x="493.03" y="407" text-anchor="middle" font-size="10" >300</text>
<text x="435.3" y="418" text-anchor="middle" font-size="10" >Energy loss (meV)</text>
<defs><clipPath id="clipf"><rect x="529.8" y="205.8" width="151" height="188.4"/></clipPath>
<linearGradient id="gelf" gradientUnits="userSpaceOnUse" x1="0" x2="0" y1="205.8" y2="394.8"><stop offset="0" stop-color="#8dcfc7"/><stop offset="1" stop-color="#ffffff"/></linearGradient>
<linearGradient id="gphf" gradientUnits="userSpaceOnUse" x1="0" x2="0" y1="339.58" y2="394.8"><stop offset="0" stop-color="#ee887a"/><stop offset="1" stop-color="#fdf3f1"/></linearGradient>
<linearGradient id="gmgf" gradientUnits="userSpaceOnUse" x1="0" x2="0" y1="304.3" y2="394.8"><stop offset="0" stop-color="#a671cf"/><stop offset="1" stop-color="#faf6fc"/></linearGradient>
<linearGradient id="gbgf" gradientUnits="userSpaceOnUse" x1="0" x2="0" y1="390.8" y2="394.8"><stop offset="0" stop-color="#777"/><stop offset="1" stop-color="#eee"/></linearGradient>
</defs>
<g clip-path="url(#clipf)">
<path d="M504,394.8 L504.25,394.8 L504.5,394.8 L504.75,394.8 L505,394.8 L505.25,394.8 L505.5,394.8 L505.75,394.8 L506,394.8 L506.25,394.8 L506.5,394.8 L506.75,394.8 L507,394.8 L507.25,394.8 L507.5,394.8 L507.75,394.8 L508,394.8 L508.25,394.8 L508.5,394.8 L508.75,394.8 L509,394.8 L509.25,394.8 L509.5,394.8 L509.75,394.8 L510,394.8 L510.25,394.8 L510.5,394.8 L510.75,394.8 L511,394.8 L511.25,394.8 L511.5,394.8 L511.75,394.8 L512,394.8 L512.25,394.8 L512.5,394.8 L512.75,394.8 L513,394.8 L513.25,394.8 L513.5,394.8 L513.75,394.8 L514,394.8 L514.25,394.79 L514.5,394.79 L514.75,394.79 L515,394.79 L515.25,394.79 L515.5,394.79 L515.75,394.79 L516,394.79 L516.25,394.79 L516.5,394.78 L516.75,394.78 L517,394.78 L517.25,394.78 L517.5,394.78 L517.75,394.77 L518,394.77 L518.25,394.77 L518.5,394.76 L518.75,394.76 L519,394.75 L519.25,394.75 L519.5,394.74 L519.75,394.73 L520,394.73 L520.25,394.72 L520.5,394.71 L520.75,394.7 L521,394.68 L521.25,394.67 L521.5,394.66 L521.75,394.64 L522,394.62 L522.25,394.6 L522.5,394.58 L522.75,394.56 L523,394.53 L523.25,394.5 L523.5,394.47 L523.75,394.44 L524,394.4 L524.25,394.36 L524.5,394.31 L524.75,394.26 L525,394.21 L525.25,394.14 L525.5,394.08 L525.75,394.01 L526,393.93 L526.25,393.84 L526.5,393.75 L526.75,393.64 L527,393.53 L527.25,393.41 L527.5,393.27 L527.75,393.13 L528,392.97 L528.25,392.8 L528.5,392.61 L528.75,392.41 L529,392.19 L529.25,391.95 L529.5,391.69 L529.75,391.41 L530,391.11 L530.25,390.79 L530.5,390.44 L530.75,390.06 L531,389.65 L531.25,389.2 L531.5,388.73 L531.75,388.22 L532,387.67 L532.25,387.08 L532.5,386.44 L532.75,385.76 L533,385.03 L533.25,384.24 L533.5,383.4 L533.75,382.5 L534,381.54 L534.25,380.51 L534.5,379.41 L534.75,378.24 L535,376.99 L535.25,375.66 L535.5,374.24 L535.75,372.72 L536,371.12 L536.25,369.41 L536.5,367.59 L536.75,365.66 L537,363.62 L537.25,361.45 L537.5,359.16 L537.75,356.73 L538,354.16 L538.25,351.44 L538.5,348.58 L538.75,345.55 L539,342.36 L539.25,338.99 L539.5,335.45 L539.75,331.72 L540,327.8 L540.25,323.67 L540.5,319.35 L540.75,314.81 L541,310.05 L541.25,305.06 L541.5,299.83 L541.75,294.37 L542,288.66 L542.25,282.69 L542.5,276.47 L542.75,269.97 L543,263.2 L543.25,256.15 L543.5,248.81 L543.75,241.18 L544,233.26 L544.25,225.03 L544.5,216.49 L544.75,207.64 L545,198.48 L545.25,188.99 L545.5,179.18 L545.75,169.05 L546,158.58 L546.25,147.78 L546.5,136.66 L546.75,125.2 L547,113.4 L547.25,101.28 L547.5,88.82 L547.75,76.04 L548,62.92 L548.25,49.49 L548.5,35.73 L548.75,21.66 L549,7.28 L549.25,-7.4 L549.5,-22.38 L549.75,-37.64 L550,-53.19 L550.25,-69 L550.5,-85.07 L550.75,-101.39 L551,-117.94 L551.25,-134.71 L551.5,-151.69 L551.75,-168.86 L552,-186.21 L552.25,-203.71 L552.5,-221.36 L552.75,-239.14 L553,-257.02 L553.25,-274.98 L553.5,-293.01 L553.75,-311.08 L554,-329.18 L554.25,-347.27 L554.5,-365.35 L554.75,-383.37 L555,-401.33 L555.25,-419.19 L555.5,-436.93 L555.75,-454.53 L556,-471.96 L556.25,-489.19 L556.5,-506.21 L556.75,-522.97 L557,-539.47 L557.25,-555.66 L557.5,-571.54 L557.75,-587.06 L558,-602.21 L558.25,-616.96 L558.5,-631.29 L558.75,-645.17 L559,-658.58 L559.25,-671.5 L559.5,-683.9 L559.75,-695.76 L560,-707.07 L560.25,-717.79 L560.5,-727.92 L560.75,-737.44 L561,-746.32 L561.25,-754.55 L561.5,-762.12 L561.75,-769.01 L562,-775.2 L562.25,-780.7 L562.5,-785.49 L562.75,-789.55 L563,-792.89 L563.25,-795.49 L563.5,-797.35 L563.75,-798.47 L564,-798.84 L564.25,-798.47 L564.5,-797.35 L564.75,-795.49 L565,-792.89 L565.25,-789.55 L565.5,-785.49 L565.75,-780.7 L566,-775.2 L566.25,-769.01 L566.5,-762.12 L566.75,-754.55 L567,-746.32 L567.25,-737.44 L567.5,-727.92 L567.75,-717.79 L568,-707.07 L568.25,-695.76 L568.5,-683.9 L568.75,-671.5 L569,-658.58 L569.25,-645.17 L569.5,-631.29 L569.75,-616.96 L570,-602.21 L570.25,-587.06 L570.5,-571.54 L570.75,-555.66 L571,-539.47 L571.25,-522.97 L571.5,-506.21 L571.75,-489.19 L572,-471.96 L572.25,-454.53 L572.5,-436.93 L572.75,-419.19 L573,-401.33 L573.25,-383.37 L573.5,-365.35 L573.75,-347.27 L574,-329.18 L574.25,-311.08 L574.5,-293.01 L574.75,-274.98 L575,-257.02 L575.25,-239.14 L575.5,-221.36 L575.75,-203.71 L576,-186.21 L576.25,-168.86 L576.5,-151.69 L576.75,-134.71 L577,-117.94 L577.25,-101.39 L577.5,-85.07 L577.75,-69 L578,-53.19 L578.25,-37.64 L578.5,-22.38 L578.75,-7.4 L579,7.28 L579.25,21.66 L579.5,35.73 L579.75,49.49 L580,62.92 L580.25,76.04 L580.5,88.82 L580.75,101.28 L581,113.4 L581.25,125.2 L581.5,136.66 L581.75,147.78 L582,158.58 L582.25,169.05 L582.5,179.18 L582.75,188.99 L583,198.48 L583.25,207.64 L583.5,216.49 L583.75,225.03 L584,233.26 L584.25,241.18 L584.5,248.81 L584.75,256.15 L585,263.2 L585.25,269.97 L585.5,276.47 L585.75,282.69 L586,288.66 L586.25,294.37 L586.5,299.83 L586.75,305.06 L587,310.05 L587.25,314.81 L587.5,319.35 L587.75,323.67 L588,327.8 L588.25,331.72 L588.5,335.45 L588.75,338.99 L589,342.36 L589.25,345.55 L589.5,348.58 L589.75,351.44 L590,354.16 L590.25,356.73 L590.5,359.16 L590.75,361.45 L591,363.62 L591.25,365.66 L591.5,367.59 L591.75,369.41 L592,371.12 L592.25,372.72 L592.5,374.24 L592.75,375.66 L593,376.99 L593.25,378.24 L593.5,379.41 L593.75,380.51 L594,381.54 L594.25,382.5 L594.5,383.4 L594.75,384.24 L595,385.03 L595.25,385.76 L595.5,386.44 L595.75,387.08 L596,387.67 L596.25,388.22 L596.5,388.73 L596.75,389.2 L597,389.65 L597.25,390.06 L597.5,390.44 L597.75,390.79 L598,391.11 L598.25,391.41 L598.5,391.69 L598.75,391.95 L599,392.19 L599.25,392.41 L599.5,392.61 L599.75,392.8 L600,392.97 L600.25,393.13 L600.5,393.27 L600.75,393.41 L601,393.53 L601.25,393.64 L601.5,393.75 L601.75,393.84 L602,393.93 L602.25,394.01 L602.5,394.08 L602.75,394.14 L603,394.21 L603.25,394.26 L603.5,394.31 L603.75,394.36 L604,394.4 L604.25,394.44 L604.5,394.47 L604.75,394.5 L605,394.53 L605.25,394.56 L605.5,394.58 L605.75,394.6 L606,394.62 L606.25,394.64 L606.5,394.66 L606.75,394.67 L607,394.68 L607.25,394.7 L607.5,394.71 L607.75,394.72 L608,394.73 L608.25,394.73 L608.5,394.74 L608.75,394.75 L609,394.75 L609.25,394.76 L609.5,394.76 L609.75,394.77 L610,394.77 L610.25,394.77 L610.5,394.78 L610.75,394.78 L611,394.78 L611.25,394.78 L611.5,394.78 L611.75,394.79 L612,394.79 L612.25,394.79 L612.5,394.79 L612.75,394.79 L613,394.79 L613.25,394.79 L613.5,394.79 L613.75,394.79 L614,394.8 L614.25,394.8 L614.5,394.8 L614.75,394.8 L615,394.8 L615.25,394.8 L615.5,394.8 L615.75,394.8 L616,394.8 L616.25,394.8 L616.5,394.8 L616.75,394.8 L617,394.8 L617.25,394.8 L617.5,394.8 L617.75,394.8 L618,394.8 L618.25,394.8 L618.5,394.8 L618.75,394.8 L619,394.8 L619.25,394.8 L619.5,394.8 L619.75,394.8 L620,394.8 L620.25,394.8 L620.5,394.8 L620.75,394.8 L621,394.8 L621.25,394.8 L621.5,394.8 L621.75,394.8 L622,394.8 L622.25,394.8 L622.5,394.8 L622.75,394.8 L623,394.8 L623.25,394.8 L623.5,394.8 L623.75,394.8 L624,394.8 L624,394.8 L504,394.8Z" fill="url(#gelf)"/>
<path d="M563,394.4 L567.8,391.3 L573,377 L578,361 L582,349 L585.8,338.7 L589.5,328 L593.5,318.2 L596.5,312.5 L599.9,308 L603,305.5 L606.3,304.3 L610.1,304.4 L614,307.5 L617.1,312.5 L622.8,324 L628.5,335.5 L634.2,345.5 L641.4,356.8 L649.9,366.8 L658.5,374 L667,378.4 L675.6,381.8 L680.8,384 L680.8,394.8 L563,394.8Z" fill="url(#gmgf)" fill-opacity="0.9"/>
<path d="M558.45,394.8 L558.7,394.8 L558.95,394.8 L559.2,394.8 L559.45,394.8 L559.7,394.79 L559.95,394.79 L560.2,394.79 L560.45,394.79 L560.7,394.79 L560.95,394.79 L561.2,394.79 L561.45,394.78 L561.7,394.78 L561.95,394.78 L562.2,394.77 L562.45,394.77 L562.7,394.76 L562.95,394.76 L563.2,394.75 L563.45,394.74 L563.7,394.73 L563.95,394.72 L564.19,394.71 L564.44,394.7 L564.69,394.68 L564.94,394.67 L565.19,394.65 L565.44,394.62 L565.69,394.6 L565.94,394.57 L566.19,394.54 L566.44,394.5 L566.69,394.46 L566.94,394.42 L567.19,394.36 L567.44,394.31 L567.69,394.24 L567.94,394.17 L568.19,394.1 L568.44,394.01 L568.69,393.91 L568.94,393.81 L569.19,393.69 L569.44,393.56 L569.69,393.42 L569.94,393.26 L570.19,393.09 L570.44,392.9 L570.69,392.7 L570.94,392.48 L571.19,392.24 L571.44,391.97 L571.69,391.69 L571.94,391.38 L572.19,391.05 L572.44,390.69 L572.69,390.31 L572.94,389.89 L573.19,389.45 L573.44,388.98 L573.69,388.47 L573.94,387.93 L574.19,387.36 L574.44,386.75 L574.69,386.11 L574.94,385.43 L575.19,384.71 L575.44,383.95 L575.68,383.15 L575.93,382.32 L576.18,381.45 L576.43,380.54 L576.68,379.59 L576.93,378.6 L577.18,377.57 L577.43,376.51 L577.68,375.42 L577.93,374.29 L578.18,373.13 L578.43,371.94 L578.68,370.72 L578.93,369.48 L579.18,368.22 L579.43,366.93 L579.68,365.63 L579.93,364.32 L580.18,363 L580.43,361.67 L580.68,360.35 L580.93,359.02 L581.18,357.7 L581.43,356.4 L581.68,355.11 L581.93,353.84 L582.18,352.6 L582.43,351.39 L582.68,350.21 L582.93,349.08 L583.18,347.99 L583.43,346.95 L583.68,345.96 L583.93,345.03 L584.18,344.16 L584.43,343.36 L584.68,342.63 L584.93,341.97 L585.18,341.38 L585.43,340.87 L585.68,340.45 L585.93,340.11 L586.18,339.85 L586.43,339.67 L586.68,339.59 L586.92,339.59 L587.17,339.67 L587.42,339.85 L587.67,340.11 L587.92,340.45 L588.17,340.87 L588.42,341.38 L588.67,341.97 L588.92,342.63 L589.17,343.36 L589.42,344.16 L589.67,345.03 L589.92,345.96 L590.17,346.95 L590.42,347.99 L590.67,349.08 L590.92,350.21 L591.17,351.39 L591.42,352.6 L591.67,353.84 L591.92,355.11 L592.17,356.4 L592.42,357.7 L592.67,359.02 L592.92,360.35 L593.17,361.67 L593.42,363 L593.67,364.32 L593.92,365.63 L594.17,366.93 L594.42,368.22 L594.67,369.48 L594.92,370.72 L595.17,371.94 L595.42,373.13 L595.67,374.29 L595.92,375.42 L596.17,376.51 L596.42,377.57 L596.67,378.6 L596.92,379.59 L597.17,380.54 L597.42,381.45 L597.67,382.32 L597.92,383.15 L598.16,383.95 L598.41,384.71 L598.66,385.43 L598.91,386.11 L599.16,386.75 L599.41,387.36 L599.66,387.93 L599.91,388.47 L600.16,388.98 L600.41,389.45 L600.66,389.89 L600.91,390.31 L601.16,390.69 L601.41,391.05 L601.66,391.38 L601.91,391.69 L602.16,391.97 L602.41,392.24 L602.66,392.48 L602.91,392.7 L603.16,392.9 L603.41,393.09 L603.66,393.26 L603.91,393.42 L604.16,393.56 L604.41,393.69 L604.66,393.81 L604.91,393.91 L605.16,394.01 L605.41,394.1 L605.66,394.17 L605.91,394.24 L606.16,394.31 L606.41,394.36 L606.66,394.42 L606.91,394.46 L607.16,394.5 L607.41,394.54 L607.66,394.57 L607.91,394.6 L608.16,394.62 L608.41,394.65 L608.66,394.67 L608.91,394.68 L609.16,394.7 L609.41,394.71 L609.65,394.72 L609.9,394.73 L610.15,394.74 L610.4,394.75 L610.65,394.76 L610.9,394.76 L611.15,394.77 L611.4,394.77 L611.65,394.78 L611.9,394.78 L612.15,394.78 L612.4,394.79 L612.65,394.79 L612.9,394.79 L613.15,394.79 L613.4,394.79 L613.65,394.79 L613.9,394.79 L614.15,394.8 L614.4,394.8 L614.65,394.8 L614.9,394.8 L615.15,394.8 L615.15,394.8 L558.45,394.8Z" fill="url(#gphf)" fill-opacity="0.95"/>
<line x1="606.6" y1="206.3" x2="606.6" y2="394.2" stroke="#5a8fc8" stroke-width="0.9" stroke-dasharray="7,7.8"/>
<line x1="614.0" y1="206.8" x2="614.0" y2="394.2" stroke="#ababab" stroke-width="0.9" stroke-dasharray="7,7.8"/>
</g>
<rect x="529.8" y="205.8" width="151" height="188.4" fill="none" stroke="#1a1a1a" stroke-width="1.25"/>
<defs><clipPath id="clipfb"><rect x="526.8" y="205.8" width="157" height="191.4"/></clipPath></defs>
<g clip-path="url(#clipfb)">
<circle cx="530.7" cy="379.6" r="2.2"/><circle cx="533.1" cy="374.8" r="2.2"/><circle cx="534.7" cy="368.9" r="2.2"/><circle cx="536.1" cy="360.6" r="2.2"/><circle cx="538.5" cy="346.3" r="2.2"/><circle cx="540.9" cy="327.3" r="2.2"/><circle cx="542.2" cy="292.8" r="2.2"/><circle cx="544.3" cy="229.3" r="2.2"/><circle cx="586.7" cy="218.8" r="2.2"/><circle cx="588.8" cy="247.1" r="2.2"/><circle cx="590.6" cy="263.5" r="2.2"/><circle cx="592.4" cy="275.8" r="2.2"/><circle cx="594.5" cy="285" r="2.2"/><circle cx="596.3" cy="288.9" r="2.2"/><circle cx="598.4" cy="294.1" r="2.2"/><circle cx="600.5" cy="298.5" r="2.2"/><circle cx="602.5" cy="300.5" r="2.2"/><circle cx="604.5" cy="301.2" r="2.2"/><circle cx="606.5" cy="302.8" r="2.2"/><circle cx="608.5" cy="304" r="2.2"/><circle cx="610.5" cy="304.6" r="2.2"/><circle cx="612.5" cy="307" r="2.2"/><circle cx="614.5" cy="309.5" r="2.2"/><circle cx="616.5" cy="311.8" r="2.2"/><circle cx="618.5" cy="314.5" r="2.2"/><circle cx="620.5" cy="318.5" r="2.2"/><circle cx="622.5" cy="322" r="2.2"/><circle cx="624.5" cy="326.5" r="2.2"/><circle cx="626.5" cy="330" r="2.2"/><circle cx="628.5" cy="333.5" r="2.2"/><circle cx="630.5" cy="337.6" r="2.2"/><circle cx="632.5" cy="340.8" r="2.2"/><circle cx="634.5" cy="344.5" r="2.2"/><circle cx="636.5" cy="347.8" r="2.2"/><circle cx="638.5" cy="351" r="2.2"/><circle cx="640.5" cy="354.2" r="2.2"/><circle cx="642.5" cy="357.2" r="2.2"/><circle cx="644.5" cy="359.8" r="2.2"/><circle cx="646.5" cy="362" r="2.2"/><circle cx="648.5" cy="364.2" r="2.2"/><circle cx="650.5" cy="366.2" r="2.2"/><circle cx="652.5" cy="368" r="2.2"/><circle cx="654.5" cy="369.8" r="2.2"/><circle cx="656.5" cy="371.4" r="2.2"/><circle cx="658.5" cy="372.7" r="2.2"/><circle cx="660.5" cy="374" r="2.2"/><circle cx="662.5" cy="375" r="2.2"/><circle cx="664.5" cy="375.8" r="2.2"/><circle cx="666.5" cy="373.5" r="2.2"/><circle cx="668.5" cy="372.2" r="2.2"/><circle cx="670.5" cy="373.5" r="2.2"/><circle cx="672.7" cy="374.2" r="2.2"/><circle cx="674.5" cy="377.5" r="2.2"/><circle cx="676.5" cy="379.5" r="2.2"/><circle cx="678.5" cy="380.6" r="2.2"/><circle cx="680.3" cy="381.7" r="2.2"/>
<path d="M529.8,391.36 L530.05,391.05 L530.3,390.72 L530.55,390.36 L530.8,389.98 L531.05,389.56 L531.3,389.12 L531.55,388.63 L531.8,388.12 L532.05,387.56 L532.3,386.96 L532.55,386.32 L532.8,385.63 L533.05,384.89 L533.29,384.09 L533.54,383.25 L533.79,382.34 L534.04,381.36 L534.29,380.33 L534.54,379.22 L534.79,378.03 L535.04,376.77 L535.29,375.42 L535.54,373.99 L535.79,372.47 L536.04,370.84 L536.29,369.12 L536.54,367.29 L536.79,365.35 L537.04,363.29 L537.29,361.1 L537.54,358.79 L537.79,356.34 L538.04,353.76 L538.29,351.02 L538.54,348.13 L538.79,345.09 L539.04,341.87 L539.29,338.49 L539.54,334.92 L539.79,331.17 L540.04,327.23 L540.28,323.09 L540.53,318.74 L540.78,314.17 L541.03,309.39 L541.28,304.38 L541.53,299.13 L541.78,293.64 L542.03,287.91 L542.28,281.92 L542.53,275.67 L542.78,269.15 L543.03,262.35 L543.28,255.28 L543.53,247.92 L543.78,240.26 L544.03,232.31 L544.28,224.06 L544.53,215.5 L544.78,206.63 L545.03,197.44 L545.28,187.93 L545.53,178.1 L545.78,167.95 L546.03,157.46 L546.28,146.65 L546.53,135.5 L546.78,124.02 L547.02,112.22 L547.27,100.07 L547.52,87.6 L547.77,74.81 L548.02,61.68 L548.27,48.24 L548.52,34.47 L548.77,20.39 L549.02,6.01 L549.27,-8.68 L549.52,-23.66 L549.77,-38.93 L550.02,-54.47 L550.27,-70.28 L550.52,-86.35 L550.77,-102.66 L551.02,-119.2 L551.27,-135.97 L551.52,-152.94 L551.77,-170.09 L552.02,-187.43 L552.27,-204.92 L552.52,-222.55 L552.77,-240.31 L553.02,-258.17 L553.27,-276.11 L553.52,-294.12 L553.76,-312.17 L554.01,-330.24 L554.26,-348.3 L554.51,-366.35 L554.76,-384.35 L555.01,-402.27 L555.26,-420.1 L555.51,-437.81 L555.76,-455.38 L556.01,-472.77 L556.26,-489.97 L556.51,-506.95 L556.76,-523.68 L557.01,-540.14 L557.26,-556.3 L557.51,-572.13 L557.76,-587.62 L558.01,-602.74 L558.26,-617.45 L558.51,-631.74 L558.76,-645.59 L559.01,-658.97 L559.26,-671.85 L559.51,-684.22 L559.76,-696.05 L560.01,-707.33 L560.26,-718.02 L560.51,-728.12 L560.75,-737.61 L561,-746.47 L561.25,-754.67 L561.5,-762.22 L561.75,-769.09 L562,-775.27 L562.25,-780.75 L562.5,-785.53 L562.75,-789.58 L563,-792.9 L563.25,-795.5 L563.5,-797.35 L563.75,-798.47 L564,-798.84 L564,-798.84 L564.25,-798.47 L564.5,-797.34 L564.75,-795.47 L565,-792.86 L565.25,-789.5 L565.5,-785.42 L565.75,-780.61 L566.01,-775.09 L566.26,-768.86 L566.51,-761.93 L566.76,-754.33 L567.01,-746.06 L567.26,-737.14 L567.51,-727.58 L567.76,-717.4 L568.01,-706.63 L568.26,-695.27 L568.51,-683.35 L568.76,-670.9 L569.01,-657.92 L569.26,-644.45 L569.51,-630.51 L569.76,-616.12 L570.02,-601.31 L570.27,-586.1 L570.52,-570.51 L570.77,-554.58 L571.02,-538.32 L571.27,-521.76 L571.52,-504.93 L571.77,-487.86 L572.02,-470.57 L572.27,-453.08 L572.52,-435.43 L572.77,-417.63 L573.02,-399.71 L573.27,-381.7 L573.52,-363.63 L573.77,-345.51 L574.03,-327.36 L574.28,-309.22 L574.53,-291.11 L574.78,-273.04 L575.03,-255.04 L575.28,-237.13 L575.53,-219.32 L575.78,-201.64 L576.03,-184.11 L576.28,-166.74 L576.53,-149.55 L576.78,-132.55 L577.03,-115.76 L577.28,-99.2 L577.53,-82.88 L577.78,-66.8 L578.04,-50.99 L578.29,-35.44 L578.54,-20.18 L578.79,-5.21 L579.04,9.47 L579.29,23.83 L579.54,37.89 L579.79,51.63 L580.04,65.05 L580.29,78.14 L580.54,90.91 L580.79,103.34 L581.04,115.44 L581.29,127.2 L581.54,138.64 L581.79,149.73 L582.05,160.49 L582.3,170.93 L582.55,181.03 L582.8,190.8 L585.4,205.8 L585.8,210.68 L586.2,215.17 L586.6,219.32 L587,223.9 L587.4,228.82 L587.81,233.83 L588.21,238.9 L588.61,244.14 L589.01,249.12 L589.41,253.37 L589.81,257.03 L590.21,260.32 L590.61,263.31 L591.01,266.08 L591.41,268.66 L591.81,271.07 L592.21,273.32 L592.62,275.46 L593.02,277.49 L593.42,279.45 L593.82,281.34 L594.22,283.15 L594.62,284.88 L595.02,286.5 L595.42,288.02 L595.82,289.41 L596.22,290.72 L596.62,291.95 L597.02,293.08 L597.43,294.12 L597.83,295.05 L598.23,295.88 L598.63,296.59 L599.03,297.22 L599.43,297.77 L599.83,298.26 L600.23,298.7 L600.63,299.1 L601.03,299.47 L601.43,299.82 L601.83,300.16 L602.24,300.5 L602.64,300.8 L603.04,301.07 L603.44,301.32 L603.84,301.55 L604.24,301.76 L604.64,301.96 L605.04,302.16 L605.44,302.37 L605.84,302.57 L606.24,302.77 L606.64,302.95 L607.05,303.12 L607.45,303.28 L607.85,303.44 L608.25,303.6 L608.65,303.76 L609.05,303.93 L609.45,304.12 L609.85,304.31 L610.25,304.53 L610.65,304.77 L611.05,305.04 L611.45,305.34 L611.86,305.66 L612.26,305.99 L612.66,306.32 L613.06,306.67 L613.46,307.04 L613.86,307.42 L614.26,307.82 L614.66,308.25 L615.06,308.69 L615.46,309.16 L615.86,309.66 L616.26,310.19 L616.67,310.75 L617.07,311.35 L617.47,311.99 L617.87,312.67 L618.27,313.39 L618.67,314.16 L619.07,314.95 L619.47,315.77 L619.87,316.6 L620.27,317.46 L620.67,318.32 L621.07,319.18 L621.48,320.04 L621.88,320.89 L622.28,321.73 L622.68,322.56 L623.08,323.36 L623.48,324.17 L623.88,324.98 L624.28,325.8 L624.68,326.62 L625.08,327.43 L625.48,328.25 L625.88,329.06 L626.29,329.87 L626.69,330.68 L627.09,331.47 L627.49,332.26 L627.89,333.04 L628.29,333.8 L628.69,334.56 L629.09,335.3 L629.49,336.04 L629.89,336.77 L630.29,337.49 L630.69,338.2 L631.1,338.91 L631.5,339.61 L631.9,340.31 L632.3,341 L632.7,341.68 L633.1,342.36 L633.5,343.03 L633.9,343.7 L634.3,344.37 L634.7,345.04 L635.1,345.71 L635.51,346.38 L635.91,347.04 L636.31,347.71 L636.71,348.38 L637.11,349.04 L637.51,349.69 L637.91,350.34 L638.31,350.99 L638.71,351.62 L639.11,352.25 L639.51,352.87 L639.91,353.47 L640.32,354.07 L640.72,354.64 L641.12,355.21 L641.52,355.76 L641.92,356.3 L642.32,356.83 L642.72,357.36 L643.12,357.88 L643.52,358.39 L643.92,358.89 L644.32,359.39 L644.72,359.88 L645.13,360.36 L645.53,360.84 L645.93,361.31 L646.33,361.77 L646.73,362.23 L647.13,362.68 L647.53,363.12 L647.93,363.55 L648.33,363.98 L648.73,364.41 L649.13,364.82 L649.53,365.23 L649.94,365.64 L650.34,366.03 L650.74,366.42 L651.14,366.8 L651.54,367.18 L651.94,367.55 L652.34,367.91 L652.74,368.27 L653.14,368.62 L653.54,368.96 L653.94,369.3 L654.34,369.63 L654.75,369.95 L655.15,370.27 L655.55,370.58 L655.95,370.89 L656.35,371.19 L656.75,371.48 L657.15,371.77 L657.55,372.05 L657.95,372.33 L658.35,372.6 L658.75,372.87 L659.15,373.12 L659.56,373.37 L659.96,373.61 L660.36,373.84 L660.76,374.06 L661.16,374.28 L661.56,374.49 L661.96,374.69 L662.36,374.89 L662.76,375.09 L663.16,375.28 L663.56,375.46 L663.96,375.65 L664.37,375.83 L664.77,376.01 L665.17,376.19 L665.57,376.36 L665.97,376.54 L666.37,376.72 L666.77,376.9 L667.17,377.08 L667.57,377.25 L667.97,377.43 L668.37,377.59 L668.77,377.76 L669.18,377.92 L669.58,378.08 L669.98,378.24 L670.38,378.39 L670.78,378.54 L671.18,378.69 L671.58,378.85 L671.98,379 L672.38,379.15 L672.78,379.3 L673.18,379.45 L673.58,379.6 L673.99,379.76 L674.39,379.91 L674.79,380.07 L675.19,380.23 L675.59,380.4 L675.99,380.56 L676.39,380.73 L676.79,380.91 L677.19,381.08 L677.59,381.26 L677.99,381.44 L678.39,381.62 L678.8,381.8 L679.2,381.98 L679.6,382.16 L680,382.34 L680.4,382.52 L680.8,382.7" fill="none" stroke="#ea1c24" stroke-width="1.7" stroke-linejoin="round"/>
</g>
<line x1="529.8" y1="360.5" x2="533.8" y2="360.5" stroke="#1a1a1a" stroke-width="1.1"/>
<line x1="529.8" y1="326.2" x2="533.8" y2="326.2" stroke="#1a1a1a" stroke-width="1.1"/>
<line x1="529.8" y1="291.9" x2="533.8" y2="291.9" stroke="#1a1a1a" stroke-width="1.1"/>
<line x1="529.8" y1="257.6" x2="533.8" y2="257.6" stroke="#1a1a1a" stroke-width="1.1"/>
<line x1="529.8" y1="223.3" x2="533.8" y2="223.3" stroke="#1a1a1a" stroke-width="1.1"/>
<line x1="563.4" y1="394.2" x2="563.4" y2="390.2" stroke="#1a1a1a" stroke-width="1.1"/>
<line x1="596.95" y1="394.2" x2="596.95" y2="390.2" stroke="#1a1a1a" stroke-width="1.1"/>
<line x1="630.5" y1="394.2" x2="630.5" y2="390.2" stroke="#1a1a1a" stroke-width="1.1"/>
<line x1="664.05" y1="394.2" x2="664.05" y2="390.2" stroke="#1a1a1a" stroke-width="1.1"/>
<text x="529.85" y="406.8" text-anchor="middle" font-size="10" >-100</text>
<text x="563.4" y="406.8" text-anchor="middle" font-size="10" >0</text>
<text x="596.95" y="406.8" text-anchor="middle" font-size="10" >100</text>
<text x="630.5" y="406.8" text-anchor="middle" font-size="10" >200</text>
<text x="664.05" y="406.8" text-anchor="middle" font-size="10" >300</text>
<text x="605.8" y="417.8" text-anchor="middle" font-size="10" >Energy loss (meV)</text>
<text x="504.3" y="54" text-anchor="end" font-size="10" >PrNiO<tspan font-size="7" dy="2.8">2</tspan><tspan dy="-2.8">/STO</tspan></text>
<text x="506" y="72.5" text-anchor="end" font-size="10" ><tspan font-size="10.5">&#960;</tspan> pol.</text>
<text x="506.8" y="84.8" text-anchor="end" font-size="10" >(0.46, 0)</text>
<text x="676.5" y="54" text-anchor="end" font-size="10" >PrNiO<tspan font-size="7" dy="2.8">2</tspan><tspan dy="-2.8">/STO</tspan></text>
<text x="675.1" y="72.5" text-anchor="end" font-size="10" ><tspan font-size="10.5">&#960;</tspan> pol.</text>
<text x="675.3" y="84.8" text-anchor="end" font-size="10" >(0.25, 0.25)</text>
<text x="504.3" y="242.6" text-anchor="end" font-size="10" >PrNiO<tspan font-size="7" dy="2.8">2</tspan><tspan dy="-2.8">/LSAT</tspan></text>
<text x="503.5" y="261.1" text-anchor="end" font-size="10" ><tspan font-size="10.5">&#960;</tspan> pol.</text>
<text x="506.8" y="273.4" text-anchor="end" font-size="10" >(0.48, 0)</text>
<text x="674.7" y="242.6" text-anchor="end" font-size="10" >PrNiO<tspan font-size="7" dy="2.8">2</tspan><tspan dy="-2.8">/LSAT</tspan></text>
<text x="674.1" y="261.1" text-anchor="end" font-size="10" ><tspan font-size="10.5">&#960;</tspan> pol.</text>
<text x="674.6" y="273.4" text-anchor="end" font-size="10" >(0.25, 0.25)</text>
<text transform="translate(334.2,104.4) rotate(-90)" text-anchor="middle" font-size="10.6" >Intensity (arb. unit)</text>
<text transform="translate(334.2,299) rotate(-90)" text-anchor="middle" font-size="10.6" >Intensity (arb. unit)</text>
<line x1="354" y1="6.6" x2="375.2" y2="6.6" stroke="#ea1c24" stroke-width="1.3"/>
<text x="380.3" y="10.2" font-size="10" textLength="12.3" lengthAdjust="spacingAndGlyphs" >Fit</text>
<rect x="404.1" y="3.3" width="10.8" height="7.4" fill="#8cd0c8"/>
<text x="424.7" y="10.2" font-size="10" textLength="29.2" lengthAdjust="spacingAndGlyphs" >Elastic</text>
<rect x="466.1" y="3.3" width="11.0" height="7.4" fill="#f0948a"/>
<text x="486.6" y="10.2" font-size="10" textLength="36.8" lengthAdjust="spacingAndGlyphs" >Phonon</text>
<rect x="535.8" y="3.3" width="11.3" height="7.4" fill="#b07ed4"/>
<text x="556.6" y="10.2" font-size="10" textLength="38.6" lengthAdjust="spacingAndGlyphs" >Magnon</text>
<rect x="608.1" y="3.3" width="11.0" height="7.4" fill="#585858"/>
<text x="628.3" y="10.2" font-size="10" textLength="57.3" lengthAdjust="spacingAndGlyphs" >Background</text>
<text x="1.2" y="25.3" font-size="17" >a</text>
<text x="-1.2" y="234.8" font-size="17" >b</text>
<text x="328.9" y="25.6" font-size="17" >c</text>
<text x="328.2" y="219.6" font-size="17" >d</text>
<text x="515.4" y="25.7" font-size="17" >e</text>
<text x="516.9" y="219.6" font-size="17" >f</text>
</svg></body></html>
